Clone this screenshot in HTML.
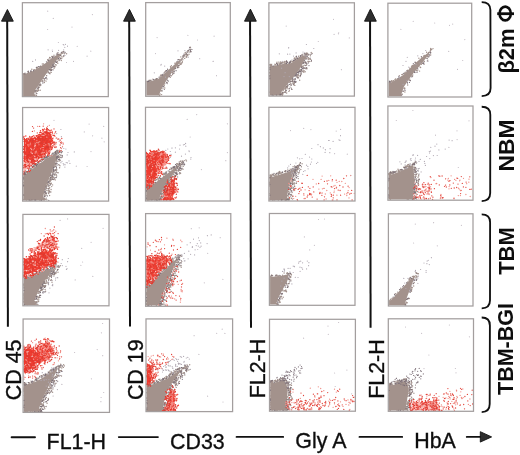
<!DOCTYPE html>
<html><head><meta charset="utf-8"><style>
html,body{margin:0;padding:0;background:#fff;}
svg{display:block;}
text{font-family:"Liberation Sans",sans-serif;fill:#111;-webkit-font-smoothing:antialiased;}
</style></head><body>
<svg width="520" height="455" viewBox="0 0 520 455">
<defs><filter id="bl" filterUnits="userSpaceOnUse" x="0" y="0" width="520" height="455"><feGaussianBlur stdDeviation="0.6"/></filter><filter id="tb" filterUnits="userSpaceOnUse" x="0" y="0" width="520" height="455"><feGaussianBlur stdDeviation="0.3"/></filter></defs>
<rect width="520" height="455" fill="#fff"/>
<g filter="url(#bl)">
<path d="M35.0,95.9 35.4,94.3 34.2,94.3 35.6,89.6 51.3,66.5 62.4,52.9 58.4,54.1 52.1,57.8 45.8,63.0 39.3,67.3 33.0,71.1 24.7,74.1 24.7,72.8 23.1,73.3 23.1,95.9Z" fill="#a3928c" fill-rule="evenodd"/>
<path d="M51.4 67.8h0M40.7 85.5h0M36.4 69.1h0M60.0 55.9h0M40.5 66.3h0M52.0 69.6h0M46.1 81.1h0M39.5 87.1h0M49.6 57.5h0M53.7 65.4h0M64.3 53.8h0M38.5 87.8h0M63.7 56.5h0M31.8 69.2h0M59.0 60.5h0M40.3 83.9h0M54.0 55.2h0M36.0 91.4h0M35.0 91.5h0M57.4 61.7h0M39.3 84.6h0M39.1 87.3h0M40.5 85.6h0M51.8 56.4h0M57.8 63.3h0M31.4 71.5h0M42.0 81.4h0M23.8 74.3h0M42.3 64.0h0M36.4 93.6h0M50.8 68.5h0M43.8 78.6h0M49.1 59.0h0M44.4 82.5h0M54.1 68.2h0M36.6 90.3h0M50.7 70.3h0M57.8 58.9h0M38.1 87.0h0M56.6 54.2h0M58.0 52.8h0M44.5 79.3h0M51.2 72.4h0M50.0 69.9h0M28.5 71.2h0M61.7 53.0h0M48.1 60.5h0M38.6 90.4h0M53.6 56.6h0M50.5 57.9h0M37.5 68.1h0M51.4 69.5h0M61.4 60.6h0M33.6 69.9h0M46.7 75.8h0M37.7 91.2h0M55.3 64.8h0M43.6 78.4h0M48.5 72.2h0M42.7 80.7h0M38.0 88.3h0M37.0 89.9h0M25.1 73.3h0M38.1 86.3h0M52.6 66.1h0M47.6 59.7h0M37.5 67.8h0M55.1 66.7h0M46.6 75.7h0M60.3 57.9h0M37.6 67.3h0M61.9 52.1h0M62.7 53.3h0M39.3 85.3h0M52.6 65.5h0M43.5 64.0h0M48.1 71.4h0M50.0 73.8h0M57.0 60.9h0M52.9 56.4h0M61.9 56.5h0M28.2 71.5h0M54.3 63.3h0M34.7 69.6h0M50.7 72.1h0M49.2 69.7h0M53.7 66.6h0M38.3 89.2h0M51.2 70.4h0M36.7 68.0h0M47.0 79.0h0M36.7 67.4h0M63.7 51.7h0M37.4 91.2h0M42.8 80.3h0M23.7 74.3h0M57.2 53.2h0M44.7 80.7h0M59.7 59.9h0M49.4 73.2h0M28.2 72.4h0M36.0 92.8h0M49.9 69.9h0M50.0 69.5h0M56.2 65.0h0M61.0 55.0h0M51.4 66.7h0M36.5 95.6h0M60.5 55.5h0M47.0 72.8h0M43.5 64.1h0M55.2 61.9h0M54.4 66.7h0M40.2 90.3h0M66.6 53.8h0M62.0 57.9h0M53.9 66.5h0M63.2 51.8h0M35.9 95.3h0M59.2 57.4h0M61.1 58.7h0M40.8 66.3h0M57.7 54.2h0M53.2 57.2h0M58.1 59.4h0" stroke="#a3928c" stroke-width="1.4" stroke-linecap="round" fill="none"/>
<path d="M43.0 81.8h0M40.8 84.5h0M51.2 70.6h0M53.2 66.7h0M33.6 70.7h0M52.3 67.2h0M37.3 88.2h0M30.9 70.5h0M58.0 54.3h0M63.8 55.6h0M55.6 61.8h0M45.7 77.6h0M60.4 58.6h0M58.5 58.4h0M54.3 66.3h0M52.4 57.5h0M52.8 65.2h0M38.7 87.8h0M51.1 67.4h0M60.4 55.5h0M63.2 51.9h0M46.4 61.8h0M53.0 64.6h0M39.2 85.0h0M49.4 69.5h0M28.5 72.1h0M38.5 66.6h0M42.9 83.1h0M30.7 71.4h0M60.0 58.8h0M53.7 64.0h0M65.2 52.8h0M48.6 60.3h0M55.9 61.6h0M44.9 78.5h0M51.6 70.0h0M33.6 70.6h0M55.8 61.9h0M36.9 93.6h0M53.1 69.8h0M28.0 71.3h0M64.9 52.2h0M35.3 90.7h0M24.8 73.9h0M39.8 66.6h0M50.3 69.8h0M46.1 78.5h0M46.3 77.5h0M52.3 57.2h0M56.5 62.4h0M61.3 52.6h0M48.4 60.1h0M49.0 72.9h0M36.3 67.3h0" stroke="#7a6e76" stroke-width="1.2" stroke-linecap="round" fill="none"/>
<path d="M52.5 51.5h0M57.8 52.9h0M65.5 44.3h0M56.4 54.6h0M58.6 50.3h0M53.6 56.8h0M32.7 61.4h0M67.5 46.2h0M63.2 44.5h0M63.7 49.9h0M64.9 55.4h0M64.8 47.3h0M35.5 59.9h0M48.1 49.8h0M63.9 45.0h0" stroke="#b0a8b2" stroke-width="1.2" stroke-linecap="round" fill="none"/>
<path d="M53.3 18.4h0M92.4 14.6h0M58.4 42.5h0M90.8 51.2h0M73.5 61.4h0M66.5 62.5h0M87.1 56.2h0M72.0 27.1h0M52.3 50.0h0M47.6 29.5h0M77.2 46.3h0M47.7 11.2h0" stroke="#c4bcc4" stroke-width="1.2" stroke-linecap="round" fill="none"/>
<path d="M159.6,95.6 160.1,94.4 159.2,94.4 161.8,87.9 166.8,79.9 171.4,73.3 189.8,49.9 190.2,48.9 187.4,51.5 182.1,57.8 158.5,78.8 149.5,81.6 147.6,81.6 147.6,80.8 146.4,80.8 146.4,95.6Z" fill="#a3928c" fill-rule="evenodd"/>
<path d="M172.6 74.5h0M149.8 80.4h0M181.1 63.3h0M147.5 81.4h0M180.0 64.4h0M161.4 90.7h0M161.6 94.6h0M160.1 94.0h0M170.3 75.2h0M171.4 65.8h0M156.4 78.8h0M162.0 88.7h0M189.0 54.2h0M190.5 47.6h0M190.2 51.9h0M183.6 55.5h0M181.1 64.2h0M169.4 76.6h0M166.3 71.8h0M190.3 47.3h0M187.0 56.0h0M179.7 63.2h0M173.5 71.1h0M190.5 47.7h0M155.5 79.5h0M181.7 60.1h0M177.5 66.8h0M148.8 80.5h0M186.1 56.7h0M182.2 62.4h0M184.4 54.3h0M189.0 52.1h0M152.9 79.1h0M190.5 49.6h0M173.1 72.1h0M187.0 54.7h0M179.5 65.6h0M185.3 52.5h0M166.0 70.8h0M161.8 88.6h0M167.1 82.4h0M172.6 72.8h0M177.1 67.1h0M151.0 80.3h0M187.8 55.2h0M185.5 53.1h0M157.5 78.7h0M164.8 87.9h0M163.9 88.1h0M183.0 55.8h0M184.7 58.4h0M164.3 85.8h0M179.4 59.8h0M186.0 56.9h0M170.5 66.6h0M180.8 63.0h0M175.7 68.2h0M149.8 80.3h0M174.7 69.9h0M163.9 84.9h0M177.6 65.2h0M176.6 62.3h0M167.8 69.8h0M174.9 63.3h0M181.8 63.0h0M170.6 67.7h0M186.6 57.2h0M166.3 71.6h0M185.2 52.6h0M174.2 73.1h0M156.4 79.5h0M160.1 76.9h0M190.9 51.4h0M164.8 83.8h0M160.8 90.7h0M149.4 80.8h0M178.4 65.4h0M178.2 67.2h0M159.7 95.5h0M175.3 63.3h0M172.4 72.5h0M182.9 59.8h0M178.8 67.6h0M182.4 61.8h0M180.8 56.9h0M161.0 75.1h0M161.6 90.9h0M165.2 71.5h0M151.1 80.8h0M160.5 75.8h0M161.4 75.3h0M163.9 73.1h0M170.3 77.3h0M187.8 50.7h0M166.9 82.2h0M171.5 75.7h0M187.4 54.8h0M186.7 55.0h0M161.1 74.7h0M164.5 72.5h0" stroke="#a3928c" stroke-width="1.4" stroke-linecap="round" fill="none"/>
<path d="M186.7 54.2h0M162.7 74.4h0M163.6 86.5h0M190.5 50.1h0M177.5 67.7h0M147.7 81.6h0M162.2 75.4h0M162.2 90.8h0M189.3 49.2h0M188.3 50.4h0M187.0 51.8h0M164.3 89.5h0M191.9 49.4h0M190.4 51.0h0M177.2 61.5h0M154.1 79.5h0M178.4 65.9h0M176.1 70.7h0M183.9 55.1h0M168.3 81.1h0M182.9 56.5h0M167.5 69.1h0M153.4 79.6h0M189.7 47.4h0M169.7 76.1h0M177.8 59.8h0M148.9 81.5h0M174.1 71.3h0M150.0 80.8h0M166.7 82.7h0M159.1 77.2h0M167.2 83.6h0M148.1 81.3h0M166.9 70.5h0M175.2 68.4h0M162.8 86.9h0M178.5 59.6h0M191.0 51.8h0M167.6 80.2h0M173.2 73.4h0M156.3 78.8h0M174.3 71.6h0M166.4 70.7h0" stroke="#7a6e76" stroke-width="1.2" stroke-linecap="round" fill="none"/>
<path d="M171.7 71.4h0M154.3 72.8h0M160.9 65.1h0M184.9 50.6h0M166.4 71.6h0M170.2 75.2h0M180.0 60.4h0M188.3 57.2h0M164.3 72.8h0M161.2 64.3h0M183.8 54.0h0M164.7 66.1h0M178.0 50.8h0M165.5 77.2h0" stroke="#b0a8b2" stroke-width="1.2" stroke-linecap="round" fill="none"/>
<path d="M182.2 59.0h0M213.4 61.3h0M213.0 61.4h0M197.5 40.0h0M187.9 35.3h0M157.1 37.6h0M199.7 58.7h0M155.5 53.6h0M216.5 75.7h0M214.1 36.2h0" stroke="#c4bcc4" stroke-width="1.2" stroke-linecap="round" fill="none"/>
<path d="M283.9,88.7 296.5,73.4 301.6,66.0 305.3,58.6 306.0,54.9 303.5,55.5 298.6,57.3 293.8,61.7 288.6,64.0 287.3,63.9 285.7,62.8 282.9,63.9 275.3,65.7 272.2,66.1 272.2,63.8 269.6,64.1 269.6,95.4 281.6,95.4 283.6,92.8 280.8,92.8Z" fill="#a3928c" fill-rule="evenodd"/>
<path d="M308.2 62.1h0M303.4 68.8h0M288.8 63.5h0M278.7 62.1h0M303.0 54.1h0M301.7 66.0h0M292.0 60.1h0M293.9 84.1h0M310.4 55.7h0M291.3 88.1h0M307.9 61.6h0M307.0 68.8h0M302.4 66.4h0M309.7 59.0h0M295.3 74.9h0M298.5 75.8h0M298.5 71.5h0M308.3 57.8h0M280.9 93.6h0M301.4 67.2h0M285.9 90.0h0M294.4 57.9h0M291.1 85.1h0M306.2 53.0h0M282.9 93.3h0M284.0 89.0h0M294.0 61.1h0M298.5 74.3h0M296.5 75.9h0M290.5 62.5h0M297.3 75.7h0M298.9 70.2h0M299.7 80.2h0M285.4 88.6h0M298.1 72.5h0M284.2 61.5h0M301.3 69.7h0M290.8 83.8h0M279.8 95.1h0M296.2 74.8h0M298.5 71.9h0M310.8 59.4h0M293.0 83.5h0M287.4 87.3h0M287.7 85.5h0M308.1 61.2h0M295.0 82.4h0M304.1 70.8h0M306.3 54.9h0M292.7 80.4h0M282.3 92.1h0M269.9 76.1h0M299.3 71.1h0M305.3 59.1h0M285.8 91.3h0M297.8 78.0h0M282.3 62.2h0M279.2 63.9h0M296.6 57.7h0M286.0 61.7h0M305.9 63.0h0M307.7 53.7h0M306.9 57.9h0M298.0 77.7h0M280.2 62.5h0M284.9 62.1h0M285.6 88.4h0M302.6 55.5h0M279.5 64.4h0M283.8 92.4h0M294.6 76.1h0M290.8 83.5h0M308.7 58.1h0M301.0 69.5h0M296.6 57.7h0M294.2 59.0h0M301.0 72.9h0M291.6 81.4h0M301.0 73.2h0M298.5 56.3h0M282.8 62.6h0M305.7 57.5h0M302.8 66.2h0M277.4 64.8h0M300.2 76.5h0M299.0 71.4h0M291.1 84.7h0M287.2 86.7h0M270.1 65.0h0M301.5 70.5h0M287.2 85.0h0M297.0 77.3h0M279.6 94.8h0M306.8 58.9h0M302.6 55.7h0M306.8 64.8h0M302.2 55.0h0M270.9 66.1h0M293.6 84.8h0M307.8 53.7h0M273.5 95.2h0M286.7 87.7h0M294.3 79.3h0M291.0 61.4h0M289.8 82.4h0M304.7 62.8h0M277.0 62.3h0M286.7 92.9h0M306.1 65.2h0M294.4 83.7h0M302.3 55.7h0M292.6 61.8h0M288.9 91.4h0M287.3 86.5h0M295.4 60.0h0M277.8 63.8h0M293.1 82.0h0M290.4 62.7h0M275.0 65.8h0M293.2 82.6h0M281.8 62.4h0M294.9 60.5h0M303.8 72.2h0M286.8 61.8h0M311.1 61.4h0M281.6 62.8h0M300.2 70.2h0M283.1 90.5h0M312.2 53.5h0M305.5 57.7h0M275.0 64.9h0M282.1 63.2h0M288.0 88.8h0M280.3 64.2h0M296.7 73.4h0M292.2 81.1h0M296.2 58.5h0M280.1 94.7h0M286.4 93.1h0M301.9 54.7h0M291.0 61.8h0M304.9 53.9h0M300.9 74.2h0M302.7 67.0h0M283.8 62.6h0M292.9 80.4h0M303.2 66.2h0M289.4 90.2h0M295.9 59.2h0M286.8 63.0h0M282.4 95.3h0M291.9 79.6h0M285.3 62.1h0M303.2 71.0h0M304.2 65.3h0M301.0 66.8h0M282.1 93.7h0M296.9 57.5h0M286.2 86.7h0M269.8 76.8h0M300.0 75.9h0M284.4 61.9h0M287.8 85.9h0M296.0 82.1h0M269.7 76.7h0M284.8 88.8h0M283.5 89.7h0M285.9 86.7h0M290.1 62.0h0M280.1 63.5h0M293.0 81.5h0M270.6 64.4h0M284.5 62.0h0M287.3 62.0h0M305.8 68.1h0M298.8 72.1h0M305.9 62.2h0M269.9 69.0h0M285.6 87.4h0M282.8 94.3h0M292.4 80.9h0M311.2 52.5h0M308.4 59.3h0M305.1 54.8h0M294.8 58.8h0M307.3 53.2h0M303.1 63.0h0M295.9 59.4h0M284.3 63.1h0M292.0 89.4h0M296.1 57.3h0M269.6 72.7h0M280.5 95.1h0M305.2 53.9h0M296.0 56.9h0M309.3 61.5h0M290.1 87.1h0M290.1 81.5h0M276.7 95.1h0M284.4 92.2h0M270.0 73.0h0M289.2 63.0h0M304.8 68.0h0M306.7 68.2h0M276.6 63.3h0M269.9 92.1h0M280.8 93.2h0M284.4 62.3h0M300.8 55.7h0M298.6 77.9h0M279.6 94.5h0M306.1 68.2h0M281.9 93.1h0M274.9 64.3h0M296.4 56.2h0M285.8 90.1h0M286.5 60.6h0M306.8 54.2h0M306.9 56.1h0M277.7 64.6h0M308.0 55.3h0M269.9 64.7h0M305.2 71.7h0M292.4 61.8h0M294.8 85.4h0M294.4 60.7h0M275.8 64.6h0M286.6 86.7h0M310.0 54.5h0M302.0 71.7h0M286.4 61.7h0M297.3 77.1h0M280.8 63.1h0M283.3 92.8h0M280.4 62.0h0M293.7 61.5h0M284.7 92.0h0M304.9 61.7h0" stroke="#a3928c" stroke-width="1.4" stroke-linecap="round" fill="none"/>
<path d="M311.5 60.7h0M293.1 79.5h0M269.9 67.7h0M306.7 67.6h0M300.6 75.5h0M273.1 65.9h0M281.1 63.7h0M303.7 67.5h0M287.6 62.7h0M277.2 65.2h0M277.6 64.6h0M286.5 63.4h0M300.9 72.0h0M300.2 55.8h0M304.6 60.6h0M305.7 65.6h0M286.3 90.5h0M290.5 61.1h0M280.9 94.4h0M299.8 69.8h0M269.9 78.0h0M285.7 90.1h0M305.4 62.0h0M293.0 78.0h0M304.4 53.1h0M286.4 61.4h0M285.3 92.3h0M289.6 84.4h0M304.1 68.5h0M302.1 71.1h0M288.1 84.9h0M270.0 69.6h0M295.9 81.4h0M292.4 80.0h0M296.4 56.5h0M295.0 75.8h0M289.3 62.0h0M306.9 63.3h0M306.0 63.2h0M293.6 60.4h0M308.4 63.0h0M302.6 68.7h0M307.3 56.7h0M311.2 54.2h0M289.4 88.5h0M290.7 81.7h0M306.0 58.8h0M290.2 62.2h0M308.3 54.6h0M294.7 80.8h0M298.0 77.3h0M289.4 63.2h0M310.2 58.2h0M292.8 81.6h0M303.5 62.3h0M276.6 63.5h0M295.3 79.5h0M299.6 71.4h0M294.9 82.4h0M282.4 92.8h0M295.9 75.2h0M306.5 54.0h0M298.9 73.1h0M304.0 67.8h0M297.2 72.5h0M305.1 54.1h0M296.7 74.0h0M298.0 72.4h0M295.2 78.4h0M300.3 71.3h0M296.0 76.0h0M309.0 65.6h0M301.0 55.5h0M294.1 60.3h0M302.1 68.1h0M301.6 67.2h0M300.3 56.4h0M286.9 86.6h0M291.6 89.1h0M300.4 75.4h0M303.2 63.4h0M295.3 82.1h0M292.6 78.3h0M306.0 56.2h0M299.0 71.7h0M269.7 78.8h0M296.1 74.0h0M286.8 61.7h0M301.6 70.0h0M295.3 59.3h0M269.8 75.7h0M272.2 95.2h0M294.4 81.4h0M301.2 73.9h0M297.4 58.4h0M305.8 62.5h0M297.3 74.6h0M306.0 68.8h0M280.0 94.4h0M293.3 84.0h0M291.1 85.2h0M301.6 69.4h0M276.4 95.0h0" stroke="#7a6e76" stroke-width="1.2" stroke-linecap="round" fill="none"/>
<path d="M302.1 55.1h0M285.1 72.7h0M289.3 76.6h0M313.8 48.5h0M303.0 52.0h0M287.6 54.2h0M296.9 57.5h0M296.1 52.9h0M281.6 68.2h0M279.3 53.8h0M293.5 56.1h0M288.6 47.9h0M289.9 54.1h0M305.0 55.8h0M282.2 61.3h0M288.7 47.5h0M284.0 76.6h0M306.4 44.5h0" stroke="#b0a8b2" stroke-width="1.2" stroke-linecap="round" fill="none"/>
<path d="M286.2 26.1h0M341.4 69.7h0M338.7 32.8h0M318.3 41.5h0M349.3 37.9h0M338.4 33.8h0M334.1 34.4h0M333.5 19.3h0" stroke="#c4bcc4" stroke-width="1.2" stroke-linecap="round" fill="none"/>
<path d="M401.5,96.3 401.9,95.1 401.1,95.1 403.9,86.8 413.3,73.3 419.4,66.3 425.6,58.4 431.3,50.4 431.6,49.5 428.5,52.5 421.5,57.8 412.7,65.6 403.9,74.5 397.8,78.6 391.5,82.2 389.8,82.5 389.8,81.7 388.6,81.9 388.6,96.3Z" fill="#a3928c" fill-rule="evenodd"/>
<path d="M393.0 80.9h0M402.9 74.2h0M393.6 80.8h0M399.3 75.8h0M420.0 66.9h0M427.4 60.9h0M392.1 81.8h0M424.3 55.4h0M424.4 61.6h0M415.1 62.1h0M416.0 62.6h0M407.7 85.0h0M430.8 48.5h0M412.1 75.8h0M427.7 55.9h0M401.9 94.3h0M407.0 70.6h0M419.6 71.1h0M428.5 52.4h0M426.6 52.2h0M389.7 82.2h0M424.3 64.1h0M409.0 80.1h0M417.1 71.0h0M395.7 79.0h0M424.1 61.3h0M391.5 81.2h0M421.7 57.1h0M433.0 48.6h0M420.6 67.5h0M397.5 78.8h0M395.0 79.5h0M430.7 55.0h0M428.4 56.9h0M417.9 69.9h0M430.6 49.5h0M426.1 58.2h0M391.2 80.9h0M411.5 66.3h0M390.1 81.6h0M409.8 79.1h0M427.8 60.1h0M430.6 48.7h0M405.3 72.3h0M422.3 63.0h0M416.3 70.2h0M428.3 55.0h0M405.0 73.1h0M409.6 68.1h0M427.2 56.6h0M427.9 55.6h0M404.5 73.2h0M424.0 61.6h0M430.8 52.7h0M402.3 94.2h0M423.7 56.0h0M409.9 80.4h0M407.8 70.3h0M404.2 88.0h0M412.5 76.5h0M413.3 65.2h0M404.9 92.0h0M422.5 63.4h0M430.4 50.5h0M418.9 58.3h0M403.3 91.3h0M412.5 65.7h0M421.4 64.2h0M401.9 74.6h0M415.0 72.6h0M401.8 74.6h0M412.8 74.9h0M404.0 88.5h0M391.6 80.8h0M404.9 88.3h0M431.7 49.5h0" stroke="#a3928c" stroke-width="1.4" stroke-linecap="round" fill="none"/>
<path d="M390.4 82.0h0M407.6 82.7h0M414.6 72.4h0M398.8 77.8h0M413.3 63.7h0M423.4 63.8h0M403.0 91.2h0M404.8 89.8h0M415.1 62.3h0M398.8 76.5h0M409.5 82.3h0M389.9 81.9h0M401.7 95.0h0M417.0 72.4h0M414.7 71.9h0M407.5 83.1h0M427.2 58.4h0M410.4 80.7h0M430.3 52.0h0M423.7 62.8h0M389.3 81.2h0M421.3 56.7h0M423.2 63.1h0M389.5 81.6h0M403.7 73.3h0M430.4 52.9h0M429.7 55.2h0M429.0 56.7h0M429.1 54.6h0M405.0 90.4h0M411.7 76.8h0M406.9 71.1h0M417.7 68.6h0" stroke="#7a6e76" stroke-width="1.2" stroke-linecap="round" fill="none"/>
<path d="M417.8 55.8h0M403.0 65.5h0M399.5 77.9h0M416.0 64.4h0M403.1 84.3h0M420.1 62.9h0M422.9 53.6h0M425.7 50.5h0M427.5 60.8h0M408.8 67.2h0M406.0 61.3h0M398.7 76.7h0M428.0 61.3h0M407.0 80.5h0" stroke="#b0a8b2" stroke-width="1.2" stroke-linecap="round" fill="none"/>
<path d="M448.7 51.4h0M400.9 29.3h0M449.5 25.3h0M452.7 24.1h0M413.2 21.3h0M407.3 57.4h0M464.8 39.6h0M462.7 60.5h0M457.5 69.4h0M434.7 23.0h0" stroke="#c4bcc4" stroke-width="1.2" stroke-linecap="round" fill="none"/>
<path d="M43.8,194.0 47.2,182.9 51.3,173.4 55.5,162.8 57.3,152.6 46.1,159.0 36.6,165.8 25.9,174.1 25.9,171.4 23.3,173.3 23.3,200.4 44.8,200.4 45.3,197.8 43.1,197.8Z" fill="#a3928c" fill-rule="evenodd"/>
<path d="M58.6 155.6h0M50.8 184.3h0M37.6 162.5h0M57.7 161.2h0M26.4 200.0h0M44.6 192.1h0M59.5 151.7h0M54.8 164.7h0M47.6 184.5h0M56.4 160.3h0M45.1 193.1h0M33.0 166.9h0M33.3 166.2h0M50.1 178.7h0M52.6 178.6h0M31.5 169.5h0M46.0 195.4h0M62.0 155.4h0M23.6 179.1h0M54.4 167.0h0M23.6 186.4h0M48.0 185.8h0M61.4 152.7h0M48.5 193.6h0M52.4 179.4h0M55.5 151.7h0M52.4 171.1h0M62.3 155.9h0M34.9 166.0h0M49.7 187.8h0M48.4 188.4h0M53.9 172.7h0M46.3 193.9h0M35.3 164.9h0M24.4 173.3h0M46.5 188.1h0M27.6 171.9h0M59.1 161.0h0M23.3 199.5h0M55.9 170.7h0M56.1 151.7h0M43.8 197.7h0M52.0 176.2h0M52.5 153.9h0M26.1 171.8h0M44.6 195.6h0M44.9 159.1h0M23.5 179.6h0M34.5 167.0h0M41.4 161.3h0M23.3 184.6h0M28.8 169.8h0M60.0 165.8h0M51.7 186.6h0M59.2 157.1h0M54.8 175.6h0M30.7 200.3h0M48.9 191.3h0M56.4 150.8h0M54.5 170.7h0M36.3 166.0h0M30.4 168.8h0M37.4 164.1h0M41.6 159.4h0M56.9 152.1h0M54.0 167.0h0M49.0 179.9h0M60.7 155.2h0M48.9 183.1h0M27.3 173.1h0M49.6 195.5h0M59.8 156.6h0M46.5 185.5h0M25.9 174.1h0M36.1 164.5h0M25.9 172.5h0M46.7 157.0h0M49.2 182.1h0M30.9 169.2h0M28.9 171.3h0M54.9 174.5h0M57.2 150.3h0M59.7 150.5h0M51.2 180.1h0M57.2 158.3h0M56.2 163.7h0M50.8 177.2h0M42.2 160.3h0M45.6 155.6h0M44.9 193.6h0M45.4 157.3h0M60.2 157.4h0M53.8 177.4h0M55.8 177.8h0M26.5 172.4h0M48.3 186.2h0M60.2 160.5h0M38.2 163.2h0M44.8 158.7h0M38.5 163.5h0M55.9 163.8h0M57.9 155.1h0M46.2 186.8h0M52.6 184.9h0M48.2 156.0h0M51.4 176.1h0M36.8 164.6h0M55.3 179.9h0M23.3 177.2h0M45.6 190.1h0M44.8 156.7h0M55.8 152.8h0M46.4 198.1h0M51.6 177.8h0M46.9 158.0h0M46.9 188.4h0M58.9 157.2h0M53.8 171.5h0M23.5 179.6h0M46.1 192.7h0M53.0 174.3h0M56.1 164.7h0M58.0 151.0h0M50.9 192.0h0M53.6 171.7h0M36.1 165.8h0M59.4 165.1h0M49.2 156.9h0M56.5 162.0h0M35.6 164.2h0M46.9 190.3h0M56.5 168.1h0M26.2 172.3h0M44.8 158.9h0M49.9 181.4h0M48.1 186.5h0M49.7 191.2h0M54.1 179.3h0M56.6 170.8h0M43.0 158.9h0M54.8 165.9h0M53.4 179.6h0M45.4 199.3h0M56.6 159.0h0M55.2 166.1h0M50.4 183.4h0M57.9 155.5h0M38.5 162.5h0M32.5 167.9h0M54.5 166.3h0M48.3 192.8h0M39.9 161.3h0M59.6 167.8h0M54.0 169.9h0M58.2 155.5h0M50.8 179.1h0M53.1 177.8h0M51.1 189.5h0M50.4 178.8h0M56.6 157.2h0M59.4 159.0h0M49.0 190.5h0M57.3 172.6h0M30.5 169.3h0M45.2 192.6h0M49.3 180.7h0M28.0 172.1h0M23.6 194.9h0M44.9 196.3h0M58.4 152.6h0M44.4 160.1h0M55.1 152.1h0M49.3 155.3h0M42.0 158.1h0M56.3 174.8h0M55.5 169.7h0M46.1 187.4h0M60.9 150.8h0M57.5 158.4h0M39.5 200.1h0M46.8 199.8h0M58.2 172.7h0M48.9 193.1h0M44.1 157.5h0M47.3 156.9h0M44.7 199.5h0M52.2 174.4h0M50.5 180.3h0M56.7 176.0h0M23.5 182.8h0M58.1 156.6h0M49.3 185.7h0M31.3 168.6h0M54.5 152.5h0M52.2 177.0h0M49.3 179.0h0M49.1 154.9h0M44.2 196.3h0M56.8 151.1h0M52.7 176.6h0M39.9 161.2h0M24.9 173.7h0M55.7 166.5h0M52.7 153.5h0M56.7 169.5h0M58.1 152.9h0M56.0 160.4h0M58.4 153.5h0M52.3 177.2h0M51.4 183.2h0M57.7 157.7h0M40.2 160.6h0M55.3 166.1h0M58.7 164.6h0M55.6 173.0h0M39.1 161.6h0M47.7 182.6h0M53.2 170.1h0M50.2 181.5h0M48.2 190.9h0M35.3 164.9h0M40.8 200.0h0M50.3 155.9h0M49.2 183.6h0M30.2 200.2h0M45.6 192.2h0M57.2 151.4h0M45.6 159.3h0M44.0 199.7h0M62.1 157.3h0M33.8 166.3h0M57.9 151.0h0M44.8 194.5h0M24.4 174.4h0M38.0 164.5h0M50.7 179.6h0M44.6 157.8h0M26.7 171.7h0M38.6 163.2h0M39.6 161.6h0M47.1 183.3h0M48.7 156.4h0M47.4 183.9h0M50.9 175.5h0M56.5 160.3h0M48.4 182.4h0M45.7 193.2h0M55.3 163.5h0M46.2 188.5h0M56.3 161.6h0M31.3 169.1h0M24.4 175.0h0M36.4 163.8h0M28.7 171.3h0M56.0 164.5h0M47.8 157.8h0M51.8 154.3h0M43.4 158.8h0M25.5 170.6h0M30.1 200.4h0M56.0 170.7h0M50.7 175.5h0M28.6 170.6h0M49.0 188.7h0M48.8 193.1h0M55.2 164.6h0M52.3 172.4h0M52.9 153.6h0" stroke="#a3928c" stroke-width="1.4" stroke-linecap="round" fill="none"/>
<path d="M53.2 154.2h0M58.0 150.9h0M53.0 179.3h0M25.6 174.2h0M55.0 153.6h0M28.9 171.0h0M24.4 172.7h0M49.8 192.2h0M48.2 181.5h0M56.1 166.2h0M61.1 157.7h0M53.8 167.3h0M58.0 156.3h0M50.8 175.2h0M45.6 191.8h0M56.5 172.0h0M59.8 154.7h0M36.4 165.8h0M50.6 177.4h0M48.0 182.3h0M55.6 152.2h0M44.7 157.8h0M58.2 157.5h0M40.6 161.1h0M52.4 176.1h0M55.9 163.3h0M56.8 156.4h0M62.3 151.7h0M60.2 152.1h0M56.7 157.6h0M37.3 164.6h0M39.8 163.1h0M57.2 153.9h0M59.7 159.7h0M52.2 175.7h0M32.4 166.5h0M56.5 157.8h0M53.6 167.6h0M23.7 195.0h0M52.8 176.0h0M48.1 156.3h0M46.2 193.4h0M50.7 179.0h0M58.3 159.6h0M33.3 166.4h0M57.9 152.3h0M46.1 186.9h0M56.7 158.9h0M34.9 200.2h0M34.1 165.1h0M62.3 155.8h0M48.8 181.9h0M41.4 200.4h0M55.5 151.5h0M53.1 176.0h0M29.9 167.9h0M34.7 164.7h0M47.4 195.9h0M51.3 155.4h0M44.9 191.6h0M53.0 153.0h0M54.5 178.1h0M57.8 165.0h0M45.3 189.1h0M36.6 165.2h0M24.7 172.9h0M55.2 170.1h0M53.2 153.0h0M59.7 152.6h0M46.9 156.4h0M26.1 171.3h0M28.4 170.6h0M29.2 200.2h0M35.2 164.2h0M31.9 200.1h0M53.6 169.8h0M53.7 171.2h0M48.6 189.0h0M46.3 157.4h0M35.7 200.2h0M37.8 161.9h0M53.4 170.2h0M58.8 159.3h0M48.7 184.9h0M23.6 185.4h0M56.2 177.4h0M59.8 151.6h0M44.5 157.6h0M45.1 158.0h0M33.0 164.8h0M52.9 173.7h0M50.3 184.8h0M48.8 200.4h0M57.4 156.8h0M53.6 168.9h0M44.5 192.0h0M24.3 172.3h0M57.1 163.3h0M51.7 179.0h0M56.4 167.7h0M44.8 196.4h0M42.8 159.9h0M24.6 174.3h0M24.5 173.5h0M23.6 178.1h0M50.4 185.0h0M54.8 153.9h0M32.2 167.2h0M55.8 153.2h0M54.3 174.2h0M53.1 173.9h0M46.9 158.1h0M45.9 157.3h0M43.4 159.5h0M61.6 152.1h0" stroke="#7a6e76" stroke-width="1.2" stroke-linecap="round" fill="none"/>
<path d="M74.3 151.9h0M61.4 136.7h0M65.9 149.0h0M60.0 140.2h0M61.1 143.5h0M62.5 147.0h0M55.9 131.3h0M63.5 164.8h0M67.4 162.8h0M69.9 163.4h0M67.2 154.9h0M65.0 164.8h0M61.3 155.3h0M69.0 160.9h0M63.8 148.5h0M60.9 129.5h0M68.0 152.5h0M66.2 162.6h0M60.9 162.7h0M64.9 164.3h0M63.2 163.5h0M64.9 167.1h0M62.0 161.3h0M56.7 133.6h0" stroke="#b0a8b2" stroke-width="1.2" stroke-linecap="round" fill="none"/>
<path d="M87.1 166.5h0M92.6 135.8h0M84.3 131.9h0M54.0 120.3h0M89.1 124.1h0M104.2 141.8h0M91.0 151.6h0M101.9 138.2h0M76.3 166.2h0M103.7 126.4h0" stroke="#c4bcc4" stroke-width="1.2" stroke-linecap="round" fill="none"/>
<path d="M25.3,158.7 31.8,158.7 39.5,156.8 47.2,153.0 51.7,147.5 51.7,136.4 49.2,132.2 45.2,131.4 40.8,134.0 36.4,138.2 30.1,137.3 25.3,138.9ZM25.0,160.0 25.0,137.7 24.0,138.0 24.0,160.0Z" fill="#f03c30" fill-rule="evenodd" fill-opacity="1.00"/>
<path d="M29.2 158.4h0M30.1 152.6h0M27.5 139.4h0M36.8 140.3h0M39.2 138.6h0M39.1 154.5h0M36.0 142.3h0M23.9 136.4h0M36.8 135.8h0M33.4 153.3h0M36.2 135.8h0M52.8 138.7h0M31.6 147.2h0M31.4 151.3h0M47.1 130.2h0M28.4 139.4h0M49.2 148.0h0M45.0 154.8h0M24.3 157.2h0M33.6 150.1h0M47.1 149.9h0M51.1 136.2h0M31.4 147.0h0M24.3 156.6h0M31.2 155.0h0M43.3 135.5h0M37.5 146.5h0M26.3 153.8h0M51.8 140.3h0M48.4 136.3h0M36.3 148.2h0M30.7 150.5h0M31.5 156.9h0M51.6 139.6h0M45.5 143.4h0M41.7 145.6h0M39.4 134.4h0M43.3 152.1h0M42.3 133.3h0M26.7 149.3h0M26.7 144.0h0M35.0 149.6h0M50.2 147.9h0M39.3 150.4h0M36.6 152.3h0M36.1 152.4h0M25.4 144.7h0M28.6 148.8h0M42.8 147.1h0M40.7 143.5h0M47.4 141.7h0M36.1 142.0h0M38.1 141.0h0M28.2 143.5h0M25.8 136.1h0M46.1 149.3h0M52.2 141.4h0M46.3 131.5h0M44.3 134.4h0M29.6 151.6h0M37.6 152.2h0M39.6 150.7h0M43.6 156.0h0M46.4 144.5h0M30.1 141.0h0M52.4 147.8h0M44.4 133.0h0M32.9 148.9h0M46.8 146.1h0M44.8 147.7h0M40.3 132.6h0M35.6 161.1h0M48.4 141.5h0M40.1 147.0h0M48.8 135.2h0M41.1 148.2h0M24.6 141.5h0M26.6 160.4h0M33.1 144.3h0M24.0 139.6h0M33.1 140.1h0M34.2 151.8h0M31.4 158.6h0M42.5 143.2h0M40.0 142.0h0M28.0 149.4h0M41.1 137.1h0M30.4 144.1h0M47.2 134.1h0M27.8 152.5h0M32.9 149.6h0M37.0 153.7h0M32.6 136.4h0M38.6 146.4h0M39.1 140.3h0M25.8 146.6h0M30.7 157.0h0M36.3 141.5h0M38.2 137.9h0M24.3 146.9h0M30.7 139.8h0M49.9 142.7h0M37.0 144.3h0M49.6 140.4h0M46.0 150.1h0M35.9 154.6h0M29.3 139.9h0M49.5 134.5h0M31.8 146.2h0M27.1 152.2h0M37.8 151.1h0M25.2 141.5h0M39.0 139.5h0M34.9 150.7h0M36.1 157.9h0M31.7 146.4h0M32.4 147.9h0M50.0 135.1h0M30.7 156.3h0M44.4 148.7h0M49.3 151.9h0M34.0 147.6h0M41.7 142.8h0M38.6 138.1h0M23.5 137.7h0M42.2 149.3h0M32.1 141.8h0M41.0 151.3h0M47.6 155.6h0M25.4 141.2h0M50.2 139.3h0M49.9 151.9h0M26.4 155.1h0M24.1 160.8h0M32.3 152.9h0M39.0 150.2h0M48.1 148.7h0M40.2 147.2h0M27.3 152.8h0M40.1 143.2h0M49.6 140.2h0M34.0 143.2h0M29.9 156.9h0M37.3 142.5h0M48.6 152.2h0M37.3 149.8h0M51.5 143.8h0M38.2 151.4h0M43.7 135.9h0M38.9 147.5h0M40.4 140.7h0M31.9 146.0h0M48.7 133.2h0M49.1 141.1h0M46.7 128.0h0M29.7 143.4h0M42.2 134.9h0M50.7 145.3h0M31.6 142.7h0M29.5 142.1h0M27.7 145.7h0M34.8 146.0h0M29.0 150.1h0M26.9 151.6h0M30.6 152.8h0M32.5 140.4h0M37.3 149.2h0M48.8 138.6h0M45.7 134.6h0M26.8 157.6h0M39.7 156.1h0M45.9 139.2h0M26.9 141.6h0M43.1 130.5h0M24.3 147.3h0M36.8 145.6h0M40.5 130.7h0M26.1 144.4h0M26.6 138.7h0M35.5 144.8h0M36.5 153.5h0M31.5 161.0h0M34.8 137.3h0M28.6 152.2h0M31.1 141.1h0M49.3 147.5h0M43.5 130.1h0M44.1 150.5h0M50.2 150.1h0M51.2 130.2h0M25.8 152.1h0M40.1 157.4h0M28.2 153.4h0M46.5 134.7h0M46.6 150.1h0M35.2 137.5h0M39.2 140.6h0M25.1 145.1h0M41.4 153.9h0M47.8 132.2h0M33.6 144.7h0M46.3 145.5h0M26.7 141.3h0M39.4 156.0h0M49.6 135.5h0M31.1 151.3h0M29.3 147.7h0M34.1 139.0h0M33.6 158.8h0M28.0 149.0h0M46.3 147.4h0M49.8 142.4h0M40.4 135.6h0M33.7 144.1h0M34.4 154.2h0M43.3 139.8h0M31.8 146.8h0M26.6 141.7h0M44.0 140.1h0M35.8 148.2h0M27.6 138.4h0M37.3 145.4h0M47.6 144.0h0M48.0 139.1h0M44.8 131.8h0M33.5 145.2h0M34.8 146.4h0M41.3 139.1h0M34.5 149.4h0M39.8 148.6h0M32.9 151.6h0M42.6 129.5h0M52.3 132.1h0M30.2 143.2h0M28.0 140.2h0M29.9 149.2h0M29.1 143.1h0M25.6 156.5h0M38.0 139.8h0M43.8 142.8h0M47.7 137.1h0M48.3 145.4h0M49.9 132.9h0M33.4 141.6h0M39.1 148.0h0M44.0 142.0h0M47.0 139.0h0M52.1 142.0h0M42.0 151.0h0M44.7 156.6h0M23.8 152.7h0M42.2 141.7h0M48.8 136.5h0M41.6 138.6h0M50.8 148.5h0M53.0 146.1h0M35.1 156.4h0M46.6 142.7h0M41.9 143.7h0M41.9 137.5h0M30.0 159.5h0M47.2 137.8h0M38.9 146.4h0M30.8 142.8h0M41.2 144.2h0M43.5 152.1h0M42.6 142.2h0M44.1 143.5h0M33.6 145.3h0M46.3 136.0h0M38.1 137.3h0M42.7 137.4h0M32.2 150.3h0M46.6 132.9h0M37.1 144.1h0M45.8 145.6h0M43.5 133.4h0M40.7 142.7h0M32.0 155.5h0M31.5 144.0h0M38.3 153.5h0M49.3 140.8h0M35.5 153.7h0M36.5 151.1h0M34.3 157.4h0M32.0 145.4h0M53.7 142.0h0M31.8 151.7h0M52.3 143.2h0M35.5 143.2h0M31.8 141.6h0M49.0 142.8h0M27.7 150.5h0M41.5 157.3h0M36.4 143.2h0M27.3 146.0h0M47.5 146.7h0M38.2 156.1h0M48.5 147.5h0M27.3 160.0h0M46.2 143.1h0M38.6 136.6h0M47.7 135.2h0M51.7 149.2h0M29.2 149.1h0M41.7 137.2h0M52.4 138.5h0M41.0 141.1h0M46.3 129.6h0M27.5 152.3h0M47.9 149.5h0M41.1 135.9h0M46.5 149.3h0M32.7 144.7h0M41.1 151.6h0M48.8 138.6h0M37.3 151.5h0M50.7 135.1h0M30.2 155.2h0M24.7 144.9h0M29.7 146.7h0M51.6 149.5h0M50.9 130.5h0M47.2 134.4h0M28.7 161.2h0M50.9 147.8h0M44.7 152.1h0M28.0 155.5h0M31.1 138.3h0M44.2 144.4h0M48.5 137.7h0M29.9 158.7h0M37.1 136.7h0M36.9 136.8h0M37.0 154.1h0M24.4 157.2h0M35.6 143.5h0M50.5 147.6h0M44.8 143.7h0M27.8 148.0h0M46.2 129.8h0M33.6 148.7h0M52.5 142.9h0M34.2 152.7h0M29.1 144.3h0M39.5 150.6h0M29.5 144.4h0M23.8 149.6h0M53.7 135.6h0M28.3 143.8h0M44.8 145.4h0M42.6 145.4h0M25.5 139.8h0M51.1 141.1h0M34.4 137.2h0M41.5 136.3h0M46.6 152.8h0M30.9 151.0h0M38.3 145.1h0M32.2 152.8h0M50.8 134.6h0M46.7 133.9h0M49.1 143.0h0M35.5 147.6h0M48.9 154.2h0M26.8 158.9h0M31.4 149.2h0M35.8 157.2h0M41.6 150.3h0M53.3 142.6h0M29.4 143.2h0M48.5 153.8h0M38.2 135.5h0M33.2 151.9h0M24.6 158.3h0M28.5 151.2h0M52.5 140.7h0M39.2 143.1h0M39.0 152.7h0M34.3 150.4h0M40.0 132.4h0M25.3 159.7h0M27.8 161.6h0M42.7 143.9h0M33.4 143.1h0M44.4 152.7h0M39.9 142.7h0M37.1 137.0h0M29.4 142.8h0M31.7 156.3h0M38.7 154.2h0M29.7 146.8h0M40.1 155.7h0M31.4 148.9h0M39.7 149.4h0M30.0 153.6h0M38.4 134.8h0M40.2 145.6h0M51.2 145.6h0M31.4 149.5h0M46.4 132.0h0M36.6 151.4h0M34.1 156.7h0M35.8 138.8h0" stroke="#f03c30" stroke-width="1.5" stroke-linecap="round" fill="none"/>
<path d="M42.0 155.7h0M50.9 143.8h0M37.7 140.5h0M31.1 155.6h0M46.1 138.2h0M46.9 131.5h0M50.9 137.4h0M24.6 147.8h0M45.5 151.4h0M44.9 154.7h0M33.2 145.8h0M42.2 141.7h0M26.9 156.7h0M33.8 135.6h0M32.7 157.6h0M28.8 140.0h0M32.9 154.5h0M34.5 153.8h0M40.0 143.4h0M29.8 136.4h0M27.7 149.8h0M42.6 140.3h0M48.0 147.9h0M31.6 136.9h0M29.4 152.8h0M35.4 139.0h0M31.7 148.9h0M44.5 153.8h0M33.8 143.0h0M39.4 149.5h0M54.6 147.1h0M43.0 135.0h0M32.6 151.7h0M38.7 137.1h0M50.3 139.0h0M38.8 155.5h0M26.3 158.9h0M42.5 143.4h0M47.2 140.7h0M36.0 147.3h0M30.0 157.8h0M44.8 139.9h0M45.8 134.1h0M38.0 140.8h0M38.4 144.6h0M31.9 140.1h0M32.1 152.2h0M50.4 132.2h0M48.1 142.9h0M26.9 155.6h0M33.9 154.1h0M48.6 143.6h0M31.4 157.7h0M46.6 140.9h0M31.6 160.9h0M45.1 136.1h0M24.4 161.1h0M49.6 149.5h0M41.2 156.5h0M50.0 141.7h0M43.6 152.2h0M33.6 150.6h0M39.2 138.1h0M52.2 145.9h0M49.3 133.4h0M43.3 143.1h0M49.3 130.8h0M39.0 142.1h0M27.1 156.8h0M24.3 151.7h0M37.5 143.6h0M42.5 138.7h0M38.1 141.2h0M37.6 137.6h0M41.8 143.9h0M28.9 154.8h0M35.7 143.4h0M33.0 161.5h0M40.2 140.2h0M32.8 147.0h0M46.1 147.7h0M50.8 139.0h0M40.6 152.5h0M37.8 147.2h0M27.9 141.6h0M26.3 145.4h0M44.4 152.9h0M24.4 138.8h0M45.7 143.1h0M40.6 137.3h0M36.6 157.6h0M29.0 157.5h0M50.5 138.8h0M38.3 158.4h0M28.2 154.8h0M47.2 128.7h0M43.0 139.2h0M45.5 138.6h0M33.5 144.4h0M39.6 146.3h0M45.1 132.4h0M38.5 136.9h0M40.7 154.1h0M40.2 132.4h0M39.1 157.8h0M48.6 129.7h0M42.2 148.1h0M23.6 151.7h0M47.2 136.0h0M30.2 138.8h0M42.3 136.3h0M48.3 147.4h0M40.2 142.8h0M42.8 151.7h0M33.7 153.9h0M46.8 131.9h0M46.6 146.4h0M24.1 141.4h0M45.5 148.8h0M27.7 148.3h0M25.3 153.3h0M42.9 140.6h0M54.7 142.3h0M44.4 134.3h0M32.8 157.5h0M34.3 142.9h0M32.9 149.8h0M33.5 159.5h0M54.1 144.4h0M30.2 151.4h0M38.8 141.3h0M43.1 146.8h0M47.7 154.1h0M40.0 138.8h0M40.8 151.2h0M23.5 146.6h0M47.1 136.9h0M29.3 138.3h0M33.4 140.6h0M42.0 138.4h0M40.6 153.0h0M27.2 148.6h0M30.3 140.5h0M46.9 143.6h0M39.1 150.5h0M40.4 152.5h0M35.0 148.7h0M32.4 141.3h0M46.2 147.2h0M32.4 140.2h0M33.4 148.6h0M49.6 143.7h0M40.9 141.1h0M40.1 138.4h0M33.6 154.7h0M24.0 158.4h0M35.4 156.9h0M39.5 152.7h0M36.1 142.8h0M35.1 157.0h0M37.5 151.1h0M48.4 146.0h0M32.5 155.9h0M46.3 152.5h0M49.7 147.5h0M52.8 135.1h0M47.8 147.9h0M47.5 141.0h0M30.1 144.9h0M47.5 146.7h0M34.0 154.3h0M33.9 161.0h0M33.1 140.1h0M51.2 146.6h0M30.2 145.2h0M54.5 135.8h0M43.2 145.2h0M25.7 156.6h0M40.2 153.3h0M37.2 153.1h0M29.2 151.9h0M25.3 154.1h0M25.3 152.2h0" stroke="#dc3a30" stroke-width="1.4" stroke-linecap="round" fill="none"/>
<path d="M28.1 144.7h0M36.4 142.6h0M36.6 152.3h0M42.8 131.4h0M29.7 138.3h0M35.1 144.2h0M53.7 145.3h0M40.6 148.8h0M29.9 144.9h0M30.5 143.2h0M25.6 155.7h0M33.6 155.8h0M49.9 139.7h0M34.4 143.0h0M27.8 145.1h0M49.2 145.8h0M48.3 143.8h0M46.8 153.0h0M36.9 140.6h0M45.8 144.6h0M40.9 137.4h0M34.4 156.3h0M29.9 157.6h0M28.6 146.1h0M45.8 144.8h0M44.4 152.4h0M28.6 162.6h0M43.1 150.0h0M35.3 143.6h0M27.9 144.8h0M42.9 157.1h0M35.2 153.4h0M38.8 144.7h0M30.3 144.1h0M41.3 153.1h0M42.8 152.2h0M43.8 132.0h0M46.8 152.4h0M48.2 151.1h0M43.1 149.7h0M39.5 156.3h0M44.3 135.3h0M44.3 143.5h0M33.2 149.9h0M50.0 147.0h0M35.5 153.0h0M46.2 151.0h0M39.2 134.7h0M26.2 159.3h0M31.6 152.2h0M39.7 141.8h0M31.7 156.7h0M29.1 139.0h0M43.0 157.4h0M36.3 151.2h0M30.7 152.1h0M43.1 135.2h0M49.3 144.0h0M43.2 135.1h0M48.5 135.1h0M48.9 151.1h0M43.4 152.7h0M49.8 155.7h0M51.3 146.2h0M41.6 135.1h0M52.5 133.2h0M35.3 151.9h0M27.5 139.0h0M33.5 158.3h0M28.4 140.9h0M49.3 145.3h0M45.7 134.3h0M38.3 142.1h0M24.0 155.0h0M42.0 153.0h0M32.2 153.5h0" stroke="#f2897f" stroke-width="1.4" stroke-linecap="round" fill="none"/>
<path d="M42.2 147.5h0M31.6 149.6h0M32.1 153.7h0M51.4 145.3h0M34.3 139.3h0M46.9 137.1h0M34.8 146.7h0M43.9 145.7h0M35.4 145.5h0M43.5 147.3h0M34.9 156.7h0M34.3 148.9h0M30.9 148.4h0M34.9 145.7h0M28.6 140.1h0M43.0 135.5h0M36.8 153.9h0M50.1 148.8h0M35.6 147.5h0M38.0 142.8h0" stroke="#fff" stroke-opacity="0.7" stroke-width="1.2" stroke-linecap="round" fill="none"/>
<path d="M33.0 142.4h0M29.0 155.3h0M41.7 150.2h0M55.0 143.9h0M48.9 146.3h0M40.2 156.0h0M42.7 136.7h0M47.0 132.9h0M42.7 156.9h0M44.4 144.1h0M28.8 139.5h0M31.8 159.7h0M36.1 161.4h0M41.4 142.9h0M35.5 139.5h0M35.7 139.0h0M47.4 129.0h0M43.1 146.8h0M34.4 143.0h0M40.0 155.2h0M27.4 158.8h0M49.4 153.4h0M45.4 143.4h0M23.5 149.0h0M55.1 147.6h0M46.3 142.3h0M38.7 139.0h0M50.6 146.6h0M47.3 147.1h0M34.5 149.9h0M44.1 140.1h0M25.0 153.9h0M55.0 143.7h0M35.8 147.4h0M31.1 156.5h0M31.4 142.9h0M37.9 144.9h0M39.6 134.5h0M43.5 133.9h0M41.1 132.5h0" stroke="#dc3a30" stroke-width="1.4" stroke-linecap="round" fill="none"/>
<path d="M39.7,158.3 37.7,157.3 25.0,157.3 25.0,156.0 23.3,156.0 23.3,173.2 25.0,171.9 25.0,170.4 31.2,166.0Z" fill="#f03c30" fill-rule="evenodd" fill-opacity="0.35"/>
<path d="M27.9 165.7h0M30.0 162.1h0M31.7 161.7h0M24.0 165.6h0M27.2 159.8h0M30.4 159.3h0M24.5 164.7h0M30.3 170.5h0M36.2 153.3h0M31.8 161.1h0M28.5 168.9h0M38.6 158.8h0M32.7 158.1h0M26.2 166.8h0M26.9 160.3h0M37.1 159.9h0M33.9 162.3h0M24.6 157.0h0M31.2 162.2h0M29.9 165.8h0M25.4 166.2h0M29.0 168.8h0M33.1 160.5h0M25.1 164.4h0M24.7 161.5h0M32.2 162.4h0M39.9 160.8h0M38.6 161.5h0M29.4 171.5h0M29.6 164.1h0M33.3 160.2h0M38.4 157.5h0M32.0 158.5h0M25.9 162.3h0M34.0 163.1h0M33.2 156.0h0M25.7 154.0h0M29.3 166.9h0M31.4 155.9h0" stroke="#f03c30" stroke-width="1.5" stroke-linecap="round" fill="none"/>
<path d="M33.7 163.4h0M36.8 156.5h0M33.1 159.0h0M24.2 166.9h0M38.2 162.1h0M28.3 162.1h0M32.2 159.6h0M34.5 161.8h0M28.4 165.2h0M26.2 158.4h0M32.6 160.9h0M34.5 160.5h0M31.4 165.8h0M35.8 163.4h0M32.2 163.1h0M25.9 167.6h0" stroke="#dc3a30" stroke-width="1.4" stroke-linecap="round" fill="none"/>
<path d="M27.8 163.0h0M38.4 155.6h0M40.9 156.4h0M25.2 170.8h0M26.2 161.5h0" stroke="#f2897f" stroke-width="1.4" stroke-linecap="round" fill="none"/>
<path d="M26.9 167.4h0" stroke="#fff" stroke-opacity="0.7" stroke-width="1.2" stroke-linecap="round" fill="none"/>
<path d="M29.6 166.6h0M33.3 163.6h0M35.4 164.4h0M23.8 174.0h0M31.7 154.4h0M25.7 164.4h0M27.5 171.8h0M32.3 164.0h0M27.4 160.9h0M25.6 165.0h0M28.1 161.9h0M37.4 160.4h0M32.9 167.2h0M27.9 159.8h0M36.6 154.4h0M27.7 168.1h0M42.8 159.5h0M31.7 160.2h0M34.2 163.8h0M39.1 157.6h0M26.2 166.5h0M41.1 159.3h0M41.2 156.6h0M41.7 157.4h0M33.5 156.9h0M40.2 154.6h0M23.8 167.7h0M27.6 155.6h0M24.0 171.7h0M30.7 155.2h0" stroke="#dc3a30" stroke-width="1.4" stroke-linecap="round" fill="none"/>
<path d="M48.7 135.7h0M50.2 140.5h0M49.8 140.0h0M59.6 151.7h0M56.3 147.0h0M60.5 142.6h0M53.8 142.7h0M52.9 142.6h0M60.1 145.0h0M61.2 150.7h0M52.3 132.8h0M58.7 139.0h0M50.5 132.7h0M60.2 140.1h0M56.2 138.1h0M52.1 147.9h0M53.8 143.0h0M56.1 142.5h0M57.7 139.1h0M63.2 143.9h0M60.6 147.7h0M48.6 137.8h0M61.5 142.9h0M51.0 132.4h0M61.8 138.5h0" stroke="#e2433a" stroke-width="1.3" stroke-linecap="round" fill="none"/>
<path d="M59.2 150.1h0M54.5 133.8h0M53.1 137.8h0M56.7 137.8h0M59.2 141.3h0M53.9 145.8h0M61.2 150.6h0M55.1 132.8h0M62.5 146.4h0M51.8 155.6h0M55.3 146.2h0M56.1 143.9h0M55.1 136.3h0M61.4 148.5h0M62.9 142.6h0M61.3 141.7h0M51.7 142.6h0" stroke="#ef8c84" stroke-width="1.3" stroke-linecap="round" fill="none"/>
<path d="M37.3 132.9h0M44.4 129.0h0M33.6 128.1h0M32.5 126.6h0M54.0 128.9h0M39.7 126.3h0M32.4 131.4h0M55.5 131.9h0M43.2 126.2h0" stroke="#e2433a" stroke-width="1.3" stroke-linecap="round" fill="none"/>
<path d="M34.4 130.9h0M44.6 133.6h0M37.7 126.4h0M43.6 123.8h0M51.7 130.1h0M47.5 126.4h0M49.3 125.3h0" stroke="#ef8c84" stroke-width="1.3" stroke-linecap="round" fill="none"/>
<path d="M159.5,197.7 164.7,185.2 172.5,174.9 179.8,164.1 151.8,185.4 148.8,187.1 148.8,184.6 146.2,186.1 146.2,200.3 161.3,200.3 161.7,197.7Z" fill="#a3928c" fill-rule="evenodd"/>
<path d="M168.8 184.1h0M172.2 182.5h0M168.2 193.0h0M186.5 160.9h0M163.6 193.0h0M163.4 189.8h0M153.8 182.8h0M165.9 191.7h0M182.6 160.9h0M161.3 194.7h0M162.7 191.0h0M147.2 200.2h0M164.0 173.9h0M166.1 195.3h0M182.1 162.5h0M146.3 190.1h0M149.6 185.1h0M180.9 160.9h0M171.2 184.2h0M176.0 166.5h0M180.4 161.3h0M171.5 178.6h0M169.0 182.0h0M177.7 163.7h0M172.1 180.2h0M151.2 183.9h0M177.4 167.8h0M171.0 167.9h0M159.8 198.3h0M169.4 171.5h0M165.7 192.4h0M179.0 166.8h0M180.3 168.1h0M175.7 173.6h0M153.0 182.0h0M164.5 174.4h0M146.4 198.8h0M148.9 185.5h0M180.9 164.9h0M149.2 200.1h0M146.5 191.0h0M156.1 200.0h0M173.9 180.2h0M183.2 166.4h0M177.0 172.9h0M164.8 173.3h0M174.0 168.0h0M162.2 197.3h0M174.1 172.6h0M180.3 165.0h0M184.3 160.6h0M160.9 178.2h0M181.7 164.0h0M148.3 200.0h0M168.1 186.1h0M172.2 176.2h0M167.0 184.2h0M160.6 198.2h0M163.0 173.1h0M146.4 198.6h0M177.9 168.5h0M148.1 185.0h0M178.4 166.2h0M179.7 163.8h0M156.4 179.5h0M176.7 166.2h0M172.1 176.6h0M171.8 169.2h0M165.5 197.7h0M156.2 200.1h0M165.8 172.6h0M166.9 186.6h0M174.0 167.3h0M160.4 197.1h0M148.0 183.8h0M168.2 186.6h0M163.7 190.6h0M163.8 191.7h0M157.0 200.2h0M181.4 162.3h0M169.0 181.4h0M177.1 165.0h0M176.2 175.1h0M165.1 175.0h0M175.5 170.4h0M170.2 179.7h0M173.9 176.7h0M164.6 174.6h0M166.2 171.8h0M180.5 166.3h0M166.3 184.9h0M169.0 180.0h0M163.5 176.3h0M171.4 181.6h0M157.5 200.1h0M154.9 180.3h0M178.2 171.2h0M180.1 173.6h0M183.3 161.6h0M170.0 169.2h0M157.9 200.2h0M166.0 174.3h0M167.2 182.2h0M174.2 167.6h0M177.6 176.9h0M152.1 180.9h0M179.2 164.3h0M177.0 170.4h0M149.1 186.8h0M180.6 173.3h0M167.0 184.0h0M162.7 193.3h0M167.3 183.7h0M183.0 169.3h0M163.5 174.6h0M157.4 178.9h0M173.4 167.6h0M162.8 190.6h0M166.6 172.1h0M170.1 180.2h0M175.9 175.5h0M153.6 181.7h0M153.7 182.4h0M146.3 190.2h0M179.3 173.8h0M173.2 166.7h0M166.6 192.2h0M171.0 178.1h0M162.0 193.3h0M178.8 169.2h0M169.5 182.9h0M163.4 195.0h0M163.2 188.8h0M163.0 197.2h0M151.0 200.0h0M168.7 182.9h0M173.1 168.2h0M179.9 170.2h0M161.4 196.4h0M173.4 174.4h0M159.4 177.9h0M168.3 182.7h0M174.4 176.5h0M184.6 164.2h0M160.1 178.8h0M168.2 182.5h0M180.9 166.3h0M185.9 159.9h0M163.4 174.2h0M178.8 170.6h0M172.7 176.3h0M179.3 167.7h0M168.0 181.0h0M155.4 182.5h0M173.2 182.6h0M179.6 167.5h0M155.7 180.4h0M163.9 191.4h0M146.4 195.8h0M146.8 188.1h0M161.6 197.7h0M150.1 185.9h0M162.0 194.4h0M180.9 161.1h0M151.1 183.2h0M179.5 165.0h0M182.7 163.5h0M165.0 187.6h0M159.8 199.8h0M182.0 168.2h0M165.2 185.8h0M183.0 164.9h0M158.3 178.7h0M176.7 173.7h0M173.8 173.6h0M158.3 180.2h0M176.2 172.0h0M168.3 184.3h0M164.6 189.7h0M171.4 182.4h0M168.8 180.1h0M164.5 198.5h0M169.4 183.2h0M179.4 164.3h0M176.6 174.4h0M167.2 188.9h0M154.3 200.0h0M162.5 190.9h0M154.5 180.2h0M163.4 196.6h0M176.0 170.5h0M182.6 160.9h0M160.5 176.1h0M169.7 171.8h0M176.6 163.6h0M180.8 170.3h0M163.1 196.7h0M168.9 180.6h0M159.6 199.0h0M161.6 193.1h0M167.4 184.8h0M176.2 172.2h0M146.5 198.4h0M164.2 192.0h0M154.5 182.8h0M178.2 169.3h0M158.2 180.3h0M164.1 193.3h0M174.4 175.2h0M179.5 163.5h0M180.5 163.8h0M178.5 164.4h0M150.1 185.1h0M179.2 162.0h0" stroke="#a3928c" stroke-width="1.4" stroke-linecap="round" fill="none"/>
<path d="M179.4 163.4h0M181.0 168.5h0M150.4 184.7h0M175.6 164.6h0M176.5 165.7h0M170.4 179.3h0M181.8 164.5h0M183.6 162.7h0M176.1 169.6h0M174.7 167.8h0M180.1 167.4h0M153.5 182.7h0M184.2 164.0h0M159.3 177.0h0M167.1 182.7h0M175.5 175.5h0M169.8 169.7h0M177.3 168.1h0M161.1 196.6h0M171.5 177.5h0M177.9 166.9h0M170.8 179.0h0M183.1 164.1h0M175.0 172.4h0M166.7 183.7h0M147.4 187.2h0M184.5 164.8h0M153.4 184.1h0M181.6 169.1h0M164.8 190.5h0M176.0 178.4h0M176.7 173.4h0M166.4 192.6h0M156.2 200.1h0M164.7 189.7h0M166.5 188.8h0M175.8 173.2h0M173.0 167.7h0M148.3 186.0h0M171.6 168.3h0M169.1 187.3h0M167.5 187.0h0M165.0 186.0h0M179.6 169.1h0M150.0 184.9h0M152.0 200.1h0M164.8 189.5h0M165.9 188.8h0M175.8 164.5h0M147.3 187.0h0M173.9 166.9h0M150.3 183.0h0M171.9 168.0h0M146.4 198.0h0M165.0 191.4h0M177.3 174.6h0M160.8 198.3h0M149.7 185.8h0M160.7 178.4h0M172.4 181.7h0M165.7 173.2h0M166.5 173.1h0M159.3 199.8h0M174.7 166.3h0M179.9 168.4h0M173.9 167.5h0M177.1 174.1h0M164.9 187.7h0M163.9 187.6h0M178.4 170.0h0M182.6 161.9h0M164.3 189.1h0M163.7 190.5h0M173.0 180.5h0M159.4 177.8h0M155.3 182.3h0M171.3 182.3h0M179.6 164.9h0M146.5 190.9h0M149.2 184.5h0M180.9 168.3h0M161.0 193.7h0M165.6 184.1h0M179.8 172.4h0M167.3 184.0h0M176.3 173.2h0M172.1 183.1h0M168.2 170.9h0M169.0 182.3h0M165.3 190.2h0M171.1 176.8h0M169.8 185.7h0" stroke="#7a6e76" stroke-width="1.2" stroke-linecap="round" fill="none"/>
<path d="M170.3 157.3h0M167.8 149.0h0M179.5 149.0h0M171.0 154.4h0M184.6 144.5h0M191.0 157.5h0M181.5 156.2h0M185.6 143.4h0M189.2 151.6h0M189.0 150.8h0M185.4 154.1h0M190.8 159.1h0M175.4 147.8h0M170.3 151.5h0M165.8 150.4h0M185.8 146.2h0M171.9 148.1h0M183.4 144.8h0M172.1 148.0h0M175.4 152.2h0M180.0 145.2h0" stroke="#b0a8b2" stroke-width="1.2" stroke-linecap="round" fill="none"/>
<path d="M227.4 152.6h0M227.4 123.8h0M190.2 137.0h0M201.4 169.6h0M196.7 114.6h0M225.8 160.7h0M187.2 119.4h0" stroke="#c4bcc4" stroke-width="1.2" stroke-linecap="round" fill="none"/>
<path d="M155.7,174.7 156.7,160.1 155.0,154.1 150.1,153.3 147.9,154.2 147.9,152.8 146.2,153.5 146.2,187.2 147.9,186.2 147.9,184.7 152.0,182.1Z" fill="#f03c30" fill-rule="evenodd" fill-opacity="1.00"/>
<path d="M149.0 169.2h0M151.9 165.0h0M153.4 160.4h0M151.9 157.3h0M148.9 155.4h0M154.2 160.9h0M149.8 166.8h0M153.1 176.6h0M150.1 156.5h0M156.0 175.4h0M154.9 175.9h0M152.6 163.4h0M148.9 185.2h0M151.8 180.6h0M151.9 179.7h0M153.9 158.0h0M150.9 178.5h0M156.3 151.5h0M147.0 184.6h0M153.8 175.6h0M149.9 168.2h0M152.9 173.4h0M151.7 185.7h0M152.6 156.6h0M158.4 158.7h0M155.3 154.2h0M151.9 178.6h0M147.2 153.8h0M152.9 154.7h0M153.8 179.9h0M152.1 171.1h0M150.8 157.4h0M154.6 163.6h0M155.8 177.5h0M147.3 164.6h0M148.1 180.2h0M150.3 159.6h0M153.5 180.8h0M158.2 159.4h0M155.9 157.8h0M152.0 169.4h0M151.3 180.2h0M147.0 159.3h0M155.7 158.7h0M146.9 157.2h0M153.4 179.8h0M152.4 174.6h0M155.8 171.5h0M157.4 153.0h0M156.4 165.2h0M152.7 157.0h0M151.2 167.3h0M151.6 179.2h0M149.7 156.8h0M158.2 172.2h0M150.8 178.0h0M147.9 162.4h0M151.0 172.0h0M147.7 157.2h0M155.1 156.4h0M153.3 167.8h0M156.5 174.4h0M157.9 160.3h0M146.4 152.6h0M152.4 163.6h0M151.3 181.4h0M158.0 170.1h0M159.2 161.5h0M152.7 158.5h0M146.5 153.3h0M148.4 172.6h0M155.2 157.0h0M149.7 187.3h0M149.9 164.7h0M157.0 157.7h0M150.4 156.8h0M151.2 182.4h0M153.1 182.3h0M149.2 153.8h0M147.4 172.9h0M149.4 171.8h0M153.3 169.0h0M147.3 158.3h0M153.5 166.9h0M154.1 176.4h0M151.7 183.7h0M156.8 158.9h0M156.9 154.8h0M148.3 181.7h0M151.9 155.9h0M155.7 173.6h0M151.6 159.5h0M150.0 161.2h0M152.4 178.6h0M153.2 178.0h0M149.0 175.0h0M153.3 157.1h0M153.9 179.1h0M151.8 178.8h0M150.7 151.8h0M151.4 165.2h0M155.5 164.2h0M147.0 180.5h0M154.1 177.9h0M150.9 153.6h0M152.2 156.9h0M154.3 166.2h0M151.4 186.5h0M153.5 153.6h0M154.3 170.1h0M151.7 166.7h0M155.6 165.6h0M149.7 178.7h0M152.6 176.7h0M152.8 170.9h0M152.4 156.9h0M153.3 181.8h0M150.8 156.4h0M152.3 160.1h0M154.2 151.8h0M149.4 165.6h0M153.2 164.0h0M150.3 166.1h0M150.2 169.1h0M156.3 169.6h0M150.0 166.9h0M153.0 182.0h0M160.2 161.0h0M148.3 183.4h0M155.2 178.8h0M157.0 168.5h0M155.6 156.7h0M152.4 155.0h0M152.4 165.6h0M155.3 174.2h0M148.4 180.6h0M156.6 156.2h0M151.2 162.6h0M149.8 176.4h0M154.7 170.7h0M155.8 170.8h0M154.5 173.9h0M158.9 158.1h0M153.9 162.6h0M151.3 181.4h0M148.3 170.1h0M150.9 171.1h0M157.6 163.1h0M156.1 175.7h0M151.1 176.6h0M149.6 153.0h0M148.6 166.7h0M155.4 152.1h0M153.1 176.6h0M151.4 178.3h0M158.3 157.9h0M146.9 171.8h0M153.5 154.2h0M150.2 164.9h0M154.3 168.3h0M149.1 173.3h0M146.7 170.6h0M156.4 174.2h0M151.9 175.1h0M147.6 189.0h0M151.9 177.3h0M155.7 163.2h0M153.5 158.9h0M151.4 180.3h0M151.2 174.9h0M152.0 181.5h0M152.1 176.4h0M150.0 177.7h0M150.2 185.7h0M147.8 170.4h0M154.5 175.4h0M157.4 158.5h0M154.3 165.1h0M148.5 179.3h0M152.2 169.9h0M160.3 160.2h0M146.7 164.7h0M150.8 163.1h0M150.6 164.6h0M154.1 162.7h0M150.4 176.2h0M151.1 169.9h0M146.9 185.5h0M152.4 171.1h0M157.8 167.2h0M150.0 159.1h0M152.1 160.4h0M152.0 159.0h0M157.2 166.1h0M154.5 170.7h0M158.1 173.4h0M151.9 163.5h0" stroke="#f03c30" stroke-width="1.5" stroke-linecap="round" fill="none"/>
<path d="M154.4 176.8h0M152.7 165.5h0M150.8 167.8h0M153.3 160.5h0M154.8 176.9h0M150.6 168.2h0M150.8 159.9h0M153.6 156.8h0M150.0 167.5h0M160.1 160.5h0M150.3 170.9h0M155.3 165.2h0M152.5 170.3h0M157.3 177.3h0M149.3 186.7h0M152.2 183.9h0M148.2 158.2h0M154.5 171.7h0M154.7 165.7h0M146.3 174.8h0M149.5 160.4h0M148.4 157.2h0M155.4 157.0h0M148.5 165.7h0M151.5 165.8h0M150.7 160.6h0M147.8 165.1h0M146.5 163.4h0M155.3 165.2h0M158.2 175.5h0M153.5 179.5h0M147.9 162.5h0M150.5 150.7h0M147.0 153.8h0M147.0 161.3h0M152.8 183.9h0M154.5 173.3h0M153.0 151.9h0M155.6 163.9h0M147.3 181.3h0M151.0 168.0h0M154.8 173.7h0M159.7 162.4h0M153.9 169.1h0M152.6 153.9h0M156.8 170.8h0M152.0 157.6h0M149.4 185.4h0M151.2 175.9h0M147.1 159.1h0M151.2 181.5h0M157.8 156.9h0M149.4 165.5h0M151.3 169.0h0M155.0 162.4h0M155.7 165.6h0M148.7 165.2h0M152.8 181.7h0M156.1 173.7h0M155.2 156.8h0M151.3 162.3h0M148.2 162.9h0M151.9 163.9h0M151.1 176.6h0M147.4 165.9h0M156.2 161.0h0M149.0 176.2h0M153.5 178.4h0M151.0 170.8h0M150.2 173.8h0M152.8 170.9h0M158.1 152.5h0M156.5 157.6h0M149.4 166.1h0M152.1 153.2h0M151.7 175.8h0M156.8 171.9h0M151.6 178.2h0M156.4 177.4h0M152.5 175.4h0M150.2 166.3h0M156.9 171.2h0M152.2 178.2h0M152.7 181.2h0" stroke="#dc3a30" stroke-width="1.4" stroke-linecap="round" fill="none"/>
<path d="M147.5 179.7h0M150.6 184.6h0M152.7 179.1h0M151.4 152.9h0M148.3 175.2h0M147.2 157.9h0M147.7 183.6h0M152.0 172.7h0M151.5 168.6h0M154.2 182.7h0M154.3 163.7h0M155.6 165.6h0M150.6 179.1h0M159.0 164.5h0M148.4 165.7h0M151.5 162.2h0M151.5 175.0h0M149.3 164.0h0M156.4 168.6h0M154.1 152.8h0M154.1 160.5h0M150.8 157.2h0M152.9 179.2h0M148.8 178.1h0M148.3 164.9h0M152.5 180.5h0M153.3 156.7h0M157.4 177.0h0M150.4 159.1h0M149.0 183.5h0M146.8 154.7h0M157.4 163.8h0M149.9 163.5h0M148.8 159.3h0M151.1 159.2h0M151.4 155.2h0M147.4 157.6h0M152.6 171.3h0M152.0 164.7h0M146.7 169.3h0" stroke="#f2897f" stroke-width="1.4" stroke-linecap="round" fill="none"/>
<path d="M152.3 156.8h0M152.2 154.1h0M150.0 154.5h0M149.6 176.3h0M152.6 166.5h0M149.5 160.8h0M153.8 156.9h0M151.3 173.2h0" stroke="#fff" stroke-opacity="0.7" stroke-width="1.2" stroke-linecap="round" fill="none"/>
<path d="M159.3 169.8h0M146.3 187.5h0M155.7 164.5h0M151.3 165.0h0M159.8 160.7h0M158.3 159.1h0M146.7 180.5h0M146.6 156.8h0M159.2 173.3h0M146.9 157.1h0M147.1 159.6h0M149.0 183.2h0M159.4 156.9h0M149.1 160.7h0M157.0 168.8h0M156.9 154.5h0M155.6 173.4h0M153.3 182.6h0M155.0 156.7h0M154.3 153.3h0M148.7 175.0h0M156.6 155.0h0M154.2 164.3h0M150.2 162.7h0M147.2 161.2h0M149.9 159.8h0M155.4 177.4h0M149.1 188.2h0M147.5 180.8h0M154.7 150.9h0" stroke="#dc3a30" stroke-width="1.4" stroke-linecap="round" fill="none"/>
<path d="M158.2,164.6 160.4,171.2 164.9,165.3 168.5,158.2 165.2,154.1 157.8,151.3 152.0,152.1Z" fill="#f03c30" fill-rule="evenodd" fill-opacity="0.55"/>
<path d="M159.9 156.8h0M162.7 151.9h0M158.1 155.8h0M153.1 151.7h0M150.0 150.3h0M169.6 155.6h0M165.4 156.7h0M162.4 162.4h0M170.1 163.8h0M156.0 168.0h0M156.6 159.2h0M158.1 169.0h0M161.4 160.2h0M158.6 168.8h0M160.9 160.5h0M158.4 159.6h0M165.8 158.1h0M164.9 153.1h0M162.7 159.4h0M165.3 157.0h0M161.5 156.0h0M161.1 163.9h0M158.2 164.6h0M167.4 161.2h0M162.7 162.6h0M156.5 171.0h0M157.4 154.1h0M157.8 162.4h0M163.9 168.2h0M151.4 151.8h0M156.4 154.8h0M168.5 160.3h0M166.5 157.9h0M161.3 151.7h0M159.4 157.5h0M155.6 154.6h0M165.1 155.4h0M159.1 161.5h0M167.1 163.2h0M166.2 162.4h0M158.4 167.9h0M161.0 163.3h0M163.7 158.3h0M160.5 167.1h0M161.8 157.4h0M161.1 173.6h0M163.9 161.8h0M162.8 159.2h0M159.0 154.2h0M163.7 157.1h0M161.6 171.7h0M152.2 156.8h0M157.8 153.6h0M160.6 168.3h0M162.3 174.4h0M164.8 154.8h0M159.3 171.8h0M161.6 173.2h0M159.0 169.9h0M153.4 150.9h0M161.9 156.4h0M165.2 154.1h0M163.4 153.0h0M170.8 155.7h0M152.0 156.7h0M159.8 159.2h0M162.4 157.3h0M155.1 151.5h0M159.8 161.3h0M163.3 154.7h0M162.4 162.3h0M162.0 165.1h0M158.9 160.4h0M156.9 159.4h0M165.9 159.0h0M159.8 156.9h0M163.0 156.5h0M156.1 157.8h0M164.0 151.6h0M152.3 151.7h0" stroke="#f03c30" stroke-width="1.5" stroke-linecap="round" fill="none"/>
<path d="M162.6 157.9h0M160.1 152.2h0M155.7 153.9h0M163.5 160.6h0M162.2 168.8h0M162.3 161.1h0M168.1 159.3h0M152.5 158.5h0M161.7 164.2h0M159.1 153.6h0M163.5 159.3h0M162.8 162.3h0M154.6 153.4h0M152.9 152.5h0M165.9 168.2h0M160.3 163.6h0M162.5 167.8h0M160.4 160.2h0M161.0 152.3h0M166.3 162.2h0M166.6 157.5h0M168.3 156.8h0M160.7 162.8h0M160.8 159.0h0M156.2 155.0h0M162.9 155.3h0M155.0 159.0h0M167.0 154.5h0M159.0 150.2h0M168.9 158.6h0M167.0 156.1h0M161.8 156.6h0M161.0 167.8h0" stroke="#dc3a30" stroke-width="1.4" stroke-linecap="round" fill="none"/>
<path d="M167.1 156.8h0M153.6 153.7h0M163.9 159.1h0M165.8 153.3h0M161.6 161.7h0M160.3 159.8h0M154.2 156.4h0M160.7 172.7h0M164.9 163.0h0M158.8 160.0h0M165.7 164.7h0M156.2 166.0h0M158.4 163.3h0M167.0 160.8h0M161.7 167.5h0M158.7 153.1h0M164.6 158.1h0M152.1 155.5h0M163.1 165.0h0" stroke="#f2897f" stroke-width="1.4" stroke-linecap="round" fill="none"/>
<path d="M166.1 158.4h0M152.8 152.8h0M161.5 168.4h0" stroke="#fff" stroke-opacity="0.7" stroke-width="1.2" stroke-linecap="round" fill="none"/>
<path d="M166.2 167.1h0M158.1 155.1h0M157.2 150.9h0M162.8 151.3h0M161.8 165.1h0M167.3 155.0h0M153.0 157.0h0M158.4 153.0h0M156.8 150.6h0M158.4 149.2h0M167.0 168.1h0M161.1 171.9h0M162.1 161.4h0M162.6 152.8h0M158.9 154.9h0M159.9 152.9h0M161.0 163.6h0M160.3 175.8h0M168.7 157.3h0M169.0 163.5h0M158.2 166.5h0M155.2 157.2h0M162.4 160.8h0M167.4 156.3h0M156.8 153.4h0" stroke="#dc3a30" stroke-width="1.4" stroke-linecap="round" fill="none"/>
<path d="M164.2,198.6 162.8,198.6 162.6,200.3 172.0,200.3 173.5,198.6 171.8,198.6 172.8,197.4 174.7,189.8 174.7,180.1 172.6,179.9 168.6,184.7 164.8,193.3Z" fill="#f03c30" fill-rule="evenodd" fill-opacity="0.85"/>
<path d="M170.1 192.5h0M169.0 184.9h0M161.2 199.7h0M170.9 184.7h0M171.2 192.1h0M172.7 187.4h0M173.1 190.8h0M165.6 198.5h0M173.7 199.6h0M173.5 189.9h0M167.4 187.0h0M173.2 182.7h0M172.7 180.8h0M173.3 188.7h0M172.4 198.8h0M166.6 185.7h0M167.3 198.7h0M167.7 181.7h0M172.1 194.6h0M172.9 191.4h0M176.8 190.0h0M171.5 194.7h0M171.5 197.8h0M162.0 195.9h0M169.7 194.9h0M170.5 185.4h0M170.0 187.9h0M169.7 188.7h0M172.0 191.4h0M174.5 192.2h0M167.2 187.5h0M169.3 192.7h0M171.4 187.1h0M172.1 192.5h0M170.4 188.2h0M165.9 186.3h0M173.4 193.4h0M164.6 190.7h0M164.8 186.5h0M171.6 189.1h0M170.0 189.4h0M164.7 193.9h0M174.4 179.2h0M170.2 197.9h0M169.4 188.2h0M173.3 187.3h0M170.0 199.9h0M168.9 191.9h0M175.6 192.0h0M165.1 199.3h0M167.1 188.2h0M165.1 197.5h0M171.4 199.0h0M173.2 182.9h0M164.1 198.5h0M170.4 194.9h0M173.8 192.1h0M171.2 186.7h0M167.4 183.1h0M175.3 189.3h0M170.9 188.3h0M168.9 186.4h0M174.0 189.8h0M172.1 194.0h0M172.1 180.5h0M164.9 192.7h0M174.3 180.9h0M167.7 196.7h0M166.1 199.8h0M172.9 180.1h0M175.1 197.7h0M174.8 183.3h0M168.6 198.7h0M171.6 194.6h0M170.1 186.3h0M176.4 179.5h0M165.0 192.8h0M170.7 189.2h0M173.7 180.8h0M163.9 198.5h0M168.9 183.8h0M168.8 194.5h0M173.0 185.2h0M171.4 179.2h0M172.9 193.9h0M171.0 196.3h0M171.7 180.7h0M170.2 186.9h0M174.4 178.9h0M167.1 190.5h0M169.6 192.7h0M172.7 176.9h0M171.2 180.9h0M171.9 188.2h0M170.5 193.3h0M168.6 195.1h0M170.0 184.6h0M169.8 194.4h0M164.2 199.4h0M171.4 179.0h0M177.2 191.8h0" stroke="#f03c30" stroke-width="1.5" stroke-linecap="round" fill="none"/>
<path d="M168.2 193.5h0M173.0 187.8h0M168.8 185.7h0M171.9 188.5h0M168.0 193.7h0M173.6 189.0h0M170.9 188.6h0M164.6 198.3h0M172.1 189.2h0M167.5 180.1h0M172.3 193.4h0M171.5 188.5h0M167.6 188.5h0M174.1 186.1h0M170.1 187.6h0M172.0 189.2h0M174.4 179.0h0M171.6 182.1h0M164.0 195.0h0M174.4 191.1h0M173.3 198.8h0M172.6 192.7h0M174.7 186.9h0M167.2 197.0h0M171.4 191.8h0M168.9 191.2h0M172.9 184.9h0M169.4 194.0h0M170.4 199.8h0M175.3 179.0h0M165.6 193.6h0M175.3 188.6h0M172.7 198.1h0M176.3 194.3h0M174.4 183.2h0M173.5 190.5h0M166.7 199.9h0M175.3 187.8h0M175.8 187.0h0M164.4 186.9h0M176.4 183.2h0M167.4 189.8h0M170.8 195.0h0M173.2 187.1h0M174.0 193.6h0M174.9 178.1h0M165.1 189.2h0M164.6 191.4h0M169.1 190.1h0M165.5 196.9h0M167.9 199.0h0M167.7 194.5h0M167.4 190.4h0M171.3 181.5h0" stroke="#dc3a30" stroke-width="1.4" stroke-linecap="round" fill="none"/>
<path d="M176.9 188.5h0M174.7 188.4h0M168.8 192.8h0M168.7 191.3h0M165.9 193.3h0M170.5 185.9h0M166.6 182.5h0M170.6 184.8h0M165.5 196.5h0M174.7 182.6h0M162.6 190.9h0M175.7 198.3h0M176.9 187.9h0M178.0 192.0h0M172.3 186.1h0M171.1 192.4h0M171.6 196.8h0M176.0 188.5h0M172.4 182.7h0M170.7 194.9h0" stroke="#f2897f" stroke-width="1.4" stroke-linecap="round" fill="none"/>
<path d="M167.1 196.4h0M171.0 188.5h0M169.5 188.0h0M168.6 187.9h0" stroke="#fff" stroke-opacity="0.7" stroke-width="1.2" stroke-linecap="round" fill="none"/>
<path d="M166.3 191.6h0M177.3 185.3h0M166.5 190.6h0M162.9 199.1h0M171.4 191.7h0M178.0 189.6h0M163.8 190.2h0M174.0 184.7h0M170.8 189.0h0M167.1 182.1h0M166.9 190.2h0M165.0 187.8h0M169.6 194.0h0M174.4 177.9h0M163.6 192.6h0M176.6 178.8h0M165.5 188.7h0M171.1 181.7h0M163.6 199.9h0M165.7 192.8h0M173.8 191.9h0M172.3 180.5h0M166.1 185.5h0M177.0 183.5h0M175.5 176.5h0M175.8 190.1h0M176.4 197.1h0M170.8 177.6h0M178.4 189.2h0M170.2 187.8h0" stroke="#dc3a30" stroke-width="1.4" stroke-linecap="round" fill="none"/>
<path d="M288.4,187.8 291.3,178.3 294.9,168.9 290.4,171.3 273.7,176.4 272.2,176.7 272.2,174.4 269.6,174.9 269.6,200.3 288.9,200.3 289.2,197.7 287.0,197.7Z" fill="#a3928c" fill-rule="evenodd"/>
<path d="M287.8 170.0h0M296.3 177.2h0M289.5 185.2h0M294.4 178.9h0M288.8 187.4h0M294.8 178.9h0M293.8 176.9h0M291.8 169.4h0M293.2 180.5h0M292.0 187.7h0M293.3 176.2h0M291.4 190.6h0M285.5 200.3h0M291.7 185.6h0M294.6 172.7h0M296.1 172.9h0M294.8 183.2h0M291.2 187.8h0M292.7 182.9h0M291.5 194.5h0M295.5 171.0h0M296.9 171.1h0M292.5 177.3h0M284.9 199.9h0M290.6 184.8h0M273.0 199.9h0M290.2 183.8h0M272.8 200.3h0M270.2 175.0h0M298.5 167.2h0M280.6 173.2h0M298.5 172.6h0M288.9 197.9h0M297.4 169.7h0M294.0 184.4h0M292.1 183.5h0M270.9 175.4h0M294.1 171.5h0M293.7 176.0h0M293.3 183.3h0M294.5 188.6h0M302.1 163.8h0M292.5 181.3h0M289.4 170.7h0M291.4 178.2h0M281.7 173.0h0M276.1 175.5h0M298.9 169.1h0M291.5 198.2h0M288.2 191.8h0M271.7 175.4h0M275.4 174.2h0M294.7 186.3h0M291.5 188.1h0M285.6 171.3h0M299.4 164.4h0M296.4 183.4h0M288.6 194.2h0M290.0 188.3h0M292.2 192.6h0M291.8 195.4h0M288.8 191.0h0M270.5 175.4h0M278.4 200.0h0M274.0 175.3h0M299.0 164.9h0M294.8 171.8h0M288.3 199.5h0M286.2 199.9h0M279.9 171.6h0M275.9 175.6h0M294.6 165.9h0M291.5 191.0h0M290.7 183.1h0M285.3 171.0h0M294.5 182.9h0M288.1 196.2h0M291.8 186.5h0M290.4 183.3h0M296.6 169.0h0M297.7 168.2h0M297.8 166.8h0M287.2 199.6h0M300.1 163.3h0M277.2 173.1h0M296.5 169.8h0M291.3 191.1h0M287.6 195.5h0M288.8 195.9h0M292.9 176.3h0M269.8 182.1h0M274.6 199.9h0M292.1 188.3h0M269.7 185.9h0M269.9 193.6h0M269.7 183.6h0M295.2 168.1h0M292.1 182.1h0M293.1 176.3h0M300.8 169.5h0M293.1 166.7h0M288.9 199.8h0M292.4 199.1h0M298.2 174.1h0M274.7 175.9h0M294.2 175.2h0M286.2 171.0h0M269.9 199.7h0M289.4 193.3h0M295.7 174.4h0M294.2 173.3h0M269.8 182.5h0M294.5 170.6h0M288.1 171.5h0M285.3 171.9h0M288.0 192.0h0M279.4 173.5h0M296.3 166.7h0M294.0 188.2h0M298.0 167.6h0M289.0 191.9h0M293.8 168.7h0M295.1 180.2h0M288.5 193.7h0M284.5 171.4h0M286.4 199.9h0M292.7 196.6h0M296.5 181.9h0M299.2 172.7h0M290.0 188.9h0M295.9 170.6h0M292.7 181.5h0M279.9 172.9h0M291.6 188.6h0M291.7 186.9h0M292.1 180.6h0M269.6 198.1h0M291.9 180.2h0M291.4 181.9h0M290.2 169.2h0M272.9 174.8h0M291.7 178.8h0M297.7 166.2h0M290.2 189.2h0M289.8 189.1h0M276.2 174.2h0M293.9 174.7h0M270.7 175.8h0M297.7 167.3h0M301.4 166.7h0M293.0 175.7h0M295.2 170.4h0M291.0 170.5h0M298.3 178.6h0M296.5 166.1h0M290.1 182.2h0M278.3 172.8h0M290.5 171.1h0M289.6 199.0h0M293.9 190.6h0M279.2 171.5h0M272.2 174.3h0M281.0 172.7h0M269.7 177.8h0M270.0 183.2h0M298.5 165.9h0M289.6 192.9h0M287.8 199.7h0M297.6 169.3h0M295.7 166.9h0M295.6 171.4h0M290.3 189.0h0M294.4 171.3h0M293.1 179.8h0M278.2 174.2h0M282.7 172.6h0" stroke="#a3928c" stroke-width="1.4" stroke-linecap="round" fill="none"/>
<path d="M291.9 183.5h0M297.5 165.6h0M295.3 172.4h0M300.4 162.6h0M292.7 168.8h0M299.9 165.6h0M299.5 170.9h0M286.2 199.9h0M296.9 167.3h0M287.4 199.5h0M296.1 166.8h0M289.0 170.5h0M290.5 183.4h0M294.1 180.5h0M290.5 189.3h0M279.2 172.3h0M293.5 174.2h0M285.5 170.9h0M296.0 175.5h0M293.8 179.7h0M292.1 168.8h0M293.5 187.8h0M292.5 179.6h0M282.3 171.8h0M295.4 169.4h0M291.9 170.6h0M296.6 177.8h0M290.7 196.1h0M297.2 169.0h0M294.2 186.1h0M290.4 190.0h0M270.0 177.7h0M292.1 178.7h0M295.8 173.7h0M281.4 200.2h0M294.1 169.4h0M294.8 167.2h0M273.3 174.8h0M269.9 184.6h0M293.2 179.5h0M296.4 175.5h0M292.8 179.2h0M288.6 188.9h0M274.0 173.4h0M298.9 165.8h0M282.0 199.9h0M289.8 189.0h0M288.8 187.8h0M293.7 175.6h0M297.6 172.0h0M294.5 171.9h0M293.8 173.8h0M296.7 177.9h0M290.4 189.4h0M270.0 195.2h0M291.0 192.0h0M299.1 168.3h0M288.7 199.5h0M289.1 194.3h0M276.6 173.4h0M289.3 170.6h0M289.0 200.0h0M287.6 171.6h0M295.2 170.6h0M278.2 174.1h0M296.1 173.7h0M295.9 167.8h0M295.0 167.2h0M288.6 194.0h0M300.6 165.3h0M291.9 190.9h0M297.9 176.4h0M292.4 184.4h0M290.4 194.6h0M295.2 169.4h0M282.5 172.3h0" stroke="#7a6e76" stroke-width="1.2" stroke-linecap="round" fill="none"/>
<path d="M325.3 149.6h0M290.5 164.4h0M308.1 168.8h0M311.4 162.0h0M340.0 140.3h0M305.0 170.7h0M316.5 163.5h0M340.5 135.7h0M297.4 157.8h0M305.3 154.3h0M320.4 146.7h0M325.1 152.4h0M302.0 158.5h0M295.2 174.0h0M288.8 166.0h0M292.2 169.9h0M309.6 157.1h0M310.5 164.2h0M330.1 148.7h0M295.9 163.0h0M306.5 165.2h0M303.5 171.5h0M328.5 140.5h0M318.0 144.7h0M311.8 159.0h0M294.6 168.9h0M311.8 148.5h0M333.1 141.4h0M293.2 172.3h0M299.7 158.8h0M323.3 147.9h0M295.5 176.9h0M302.8 174.3h0M291.9 172.1h0M287.7 167.9h0M291.4 173.6h0M329.8 152.7h0M307.8 166.4h0M325.5 149.8h0M339.0 139.8h0M317.8 162.3h0M329.2 140.5h0" stroke="#b0a8b2" stroke-width="1.2" stroke-linecap="round" fill="none"/>
<path d="M347.3 154.2h0M303.7 128.4h0M290.5 130.6h0M310.9 129.6h0M340.6 129.4h0M334.6 153.7h0M336.2 131.1h0M350.8 175.4h0" stroke="#c4bcc4" stroke-width="1.2" stroke-linecap="round" fill="none"/>
<path d="M299.2 188.5h0M332.0 187.1h0M324.1 199.9h0M309.6 194.5h0M303.8 193.8h0M309.7 193.4h0M310.9 194.5h0M298.2 181.4h0M352.1 200.0h0M324.4 181.3h0M336.2 180.2h0M307.2 197.0h0M297.2 199.6h0M313.2 186.9h0M333.3 195.2h0M332.3 200.1h0M308.3 186.8h0M324.5 196.8h0M340.1 190.5h0M331.3 194.5h0M349.7 194.1h0M347.9 192.7h0M290.2 186.5h0M351.7 190.4h0M338.2 190.1h0M312.2 197.1h0M327.0 181.0h0M310.9 193.8h0M331.3 196.4h0M297.6 200.2h0M317.1 199.1h0M293.0 196.1h0M321.9 195.3h0M351.2 193.3h0M313.8 191.9h0M309.1 190.6h0M307.8 195.2h0M298.2 189.4h0M339.8 185.5h0M333.2 197.8h0M298.9 193.6h0M294.7 189.9h0M302.4 187.4h0M301.9 183.2h0M293.6 189.6h0M334.5 188.6h0M320.0 192.4h0M301.0 190.0h0M337.0 199.9h0M331.2 186.7h0M289.7 197.7h0M309.9 188.3h0M305.0 198.5h0M288.6 189.4h0M319.7 193.5h0M299.5 191.6h0M343.0 187.0h0M340.6 195.2h0" stroke="#e2433a" stroke-width="1.3" stroke-linecap="round" fill="none"/>
<path d="M349.0 197.9h0M331.6 195.7h0M304.0 198.6h0M334.2 191.1h0M320.8 193.2h0M288.8 183.5h0M303.9 195.2h0M347.5 192.4h0M332.2 180.9h0M326.8 190.5h0M322.2 193.0h0M318.9 189.1h0M305.1 189.8h0M336.6 187.2h0M349.1 187.6h0M311.6 194.8h0M341.8 181.5h0M328.8 180.4h0M344.6 194.1h0M322.4 188.8h0M346.8 195.5h0M330.3 192.9h0M334.0 192.6h0M354.2 193.3h0M325.3 194.0h0M335.0 185.5h0M293.7 198.6h0M300.2 188.1h0M295.7 196.3h0M326.1 199.0h0M345.3 183.3h0M311.1 194.8h0M333.7 186.1h0M350.3 193.3h0M346.8 193.7h0M333.0 200.0h0M336.9 195.2h0M348.2 190.6h0M291.4 186.2h0M337.0 182.3h0" stroke="#ef8c84" stroke-width="1.3" stroke-linecap="round" fill="none"/>
<path d="M295.8 188.4h0M343.8 178.5h0M302.2 183.4h0M346.5 175.8h0M336.3 187.9h0M307.2 175.4h0M290.5 185.8h0M332.4 179.7h0M327.5 183.8h0M318.7 183.5h0M324.0 188.3h0M348.1 186.2h0" stroke="#e2433a" stroke-width="1.3" stroke-linecap="round" fill="none"/>
<path d="M321.1 179.4h0M339.2 181.4h0M291.7 178.7h0M322.1 176.1h0M291.0 180.8h0M316.3 183.9h0M350.7 175.6h0M313.0 179.3h0M330.7 175.8h0" stroke="#ef8c84" stroke-width="1.3" stroke-linecap="round" fill="none"/>
<path d="M413.1,196.9 414.4,180.7 413.9,171.6 413.2,164.8 411.5,165.5 400.6,171.2 393.0,174.1 391.2,174.6 391.2,172.3 388.6,173.0 388.6,199.5 415.2,199.5 415.3,196.9Z" fill="#a3928c" fill-rule="evenodd"/>
<path d="M414.4 163.2h0M389.1 173.5h0M416.5 163.1h0M409.7 166.3h0M416.1 188.4h0M413.2 163.3h0M413.1 198.9h0M408.2 199.4h0M398.9 170.5h0M415.5 191.4h0M414.2 189.4h0M403.7 167.3h0M390.7 173.6h0M398.0 169.2h0M393.9 172.6h0M394.8 171.7h0M414.2 185.2h0M388.9 178.2h0M396.4 171.1h0M412.1 164.9h0M416.8 180.8h0M414.1 191.3h0M415.2 172.2h0M415.4 171.1h0M414.9 176.2h0M418.3 180.8h0M416.5 174.5h0M398.6 170.3h0M414.8 198.5h0M406.4 168.0h0M414.8 174.4h0M414.6 196.1h0M413.9 193.7h0M414.3 186.4h0M415.9 169.4h0M406.5 165.9h0M414.9 168.0h0M391.7 172.9h0M415.3 188.7h0M415.3 176.1h0M413.9 197.1h0M408.3 164.4h0M414.1 192.3h0M413.8 197.2h0M414.2 171.7h0M413.7 164.1h0M404.9 167.4h0M405.0 168.0h0M414.8 184.2h0M415.9 161.8h0M390.4 199.3h0M417.6 191.5h0M388.8 174.5h0M407.1 199.1h0M405.5 167.5h0M418.0 177.2h0M388.6 173.8h0M408.8 166.3h0M400.5 169.8h0M415.6 167.5h0M418.3 179.3h0M388.7 197.9h0M391.8 172.7h0M405.2 166.1h0M414.5 181.9h0M418.4 183.5h0M416.9 191.7h0M390.4 171.6h0M398.3 171.3h0M393.0 172.0h0M416.1 186.7h0M418.0 183.4h0M389.7 172.9h0M418.0 183.0h0M414.6 191.4h0M413.8 191.4h0M414.9 162.1h0M416.0 176.3h0M413.7 196.4h0M388.7 188.9h0M415.9 188.0h0M388.9 194.6h0M388.8 187.7h0M414.9 196.4h0M391.8 173.2h0M417.0 173.6h0M414.6 179.9h0M415.8 196.2h0M409.1 164.9h0M388.7 180.9h0M413.6 191.6h0M413.9 189.7h0M414.6 170.6h0M416.5 181.8h0M414.5 180.6h0M414.0 167.2h0M415.9 171.7h0M418.0 184.9h0M416.5 188.9h0M414.0 196.9h0M393.5 173.0h0M415.4 175.9h0M401.6 169.5h0M414.0 190.6h0M414.3 167.2h0M414.5 179.4h0M414.2 184.9h0M415.4 197.2h0M405.7 166.6h0M414.5 179.2h0M414.5 185.2h0M413.5 198.1h0M414.2 172.6h0M406.6 167.2h0M416.1 193.9h0M414.9 167.8h0M389.8 174.6h0M407.8 166.4h0M414.6 164.1h0M418.5 181.8h0M414.4 186.8h0M415.2 193.3h0M418.2 189.4h0M414.2 169.9h0M413.0 164.3h0M392.7 173.0h0M400.0 170.9h0M414.5 168.9h0M393.6 173.1h0M416.1 178.7h0M418.7 180.1h0M414.1 164.9h0M419.1 179.8h0M414.4 195.7h0M396.9 170.9h0M401.4 170.3h0M418.7 175.9h0M390.6 173.8h0M399.2 171.2h0M418.6 175.1h0M399.8 171.5h0M407.5 166.2h0M391.5 172.3h0M405.5 167.9h0M395.7 172.1h0M395.8 171.6h0M395.9 172.1h0M407.6 164.9h0M412.2 164.5h0" stroke="#a3928c" stroke-width="1.4" stroke-linecap="round" fill="none"/>
<path d="M393.0 171.4h0M416.8 182.4h0M418.2 168.8h0M412.9 164.4h0M412.4 199.3h0M390.3 172.6h0M414.3 164.6h0M413.3 163.8h0M415.2 183.3h0M389.0 178.6h0M416.7 199.0h0M418.5 185.2h0M414.8 190.0h0M419.4 179.2h0M415.4 167.9h0M415.5 198.3h0M400.2 169.6h0M413.9 193.0h0M388.7 195.2h0M404.3 167.4h0M414.1 191.9h0M414.9 184.4h0M419.0 174.1h0M415.0 177.8h0M406.0 167.7h0M415.5 192.5h0M416.0 179.7h0M416.3 197.7h0M416.0 185.9h0M414.1 169.5h0M415.3 170.6h0M417.9 170.6h0M410.1 163.9h0M402.5 169.8h0M415.3 177.4h0M415.1 197.0h0M415.1 187.9h0M414.6 163.2h0M412.5 164.5h0M391.0 172.7h0M388.7 196.8h0M409.8 165.9h0M392.9 173.2h0M414.7 186.9h0M418.2 171.0h0M416.8 180.5h0M395.0 171.7h0M404.4 167.9h0M414.6 164.5h0M414.0 188.3h0M393.0 173.0h0M415.8 172.5h0M401.7 169.6h0M417.2 194.5h0M394.0 172.3h0M415.5 162.1h0M414.1 189.2h0M395.1 172.2h0M415.0 192.5h0M388.8 179.9h0M415.9 174.2h0M416.3 171.7h0M414.1 187.9h0M393.8 172.1h0" stroke="#7a6e76" stroke-width="1.2" stroke-linecap="round" fill="none"/>
<path d="M429.5 153.0h0M399.9 161.8h0M416.4 168.6h0M417.3 170.6h0M433.4 155.6h0M405.9 161.6h0M416.7 162.4h0M401.2 163.9h0M417.6 155.4h0M412.7 155.2h0M424.4 161.4h0M413.5 154.9h0M421.1 171.9h0M406.3 167.9h0M445.2 149.1h0M426.6 156.5h0M419.2 168.4h0M407.0 168.6h0M430.8 147.3h0M415.2 160.1h0M411.0 158.5h0M436.8 144.1h0M411.1 160.4h0M414.0 172.2h0M437.2 155.5h0M420.3 159.4h0M425.4 165.4h0M410.3 165.2h0M406.1 160.8h0M430.4 151.1h0M405.1 164.9h0M419.0 161.4h0M429.8 158.6h0M452.1 140.7h0M424.8 163.4h0M435.0 146.2h0M429.3 151.6h0M449.1 140.1h0M410.4 159.1h0M405.1 162.4h0M438.9 149.9h0M415.5 158.0h0" stroke="#b0a8b2" stroke-width="1.2" stroke-linecap="round" fill="none"/>
<path d="M457.0 130.8h0M448.9 147.4h0M412.9 110.5h0M396.3 120.5h0M469.0 120.8h0M457.1 139.6h0M458.3 167.5h0M435.5 135.2h0" stroke="#c4bcc4" stroke-width="1.2" stroke-linecap="round" fill="none"/>
<path d="M420.4 197.6h0M420.6 189.1h0M428.5 198.8h0M429.7 189.0h0M420.2 192.5h0M415.4 186.0h0M424.8 186.9h0M416.3 190.2h0M416.2 185.9h0M428.2 183.2h0M418.9 189.7h0M418.6 188.9h0M422.9 192.4h0M419.9 195.4h0M414.6 196.3h0M423.5 187.6h0M413.5 188.1h0M417.7 197.2h0M424.2 190.8h0M419.7 188.6h0M414.6 187.4h0M426.5 198.4h0M429.2 188.5h0M429.4 188.0h0M431.4 192.4h0M428.2 191.8h0M428.0 184.3h0M420.1 196.8h0M425.3 189.8h0M413.9 193.8h0M416.2 197.7h0M425.6 184.6h0M423.4 193.3h0M425.3 192.7h0M422.1 191.0h0M421.8 195.3h0M428.1 193.8h0M416.6 188.5h0M420.1 197.0h0M429.4 187.6h0M413.7 198.9h0M420.8 191.7h0M420.9 192.5h0M424.3 199.0h0M431.8 195.8h0M422.5 186.1h0M420.5 198.3h0M423.9 182.7h0M416.7 197.3h0M429.1 190.6h0" stroke="#e2433a" stroke-width="1.3" stroke-linecap="round" fill="none"/>
<path d="M425.9 186.4h0M416.8 194.1h0M429.7 191.0h0M425.7 190.9h0M421.1 199.2h0M429.2 185.5h0M427.9 187.5h0M418.0 188.3h0M429.7 184.4h0M418.7 198.0h0M429.1 194.6h0M424.1 197.4h0M418.7 192.2h0M413.5 197.2h0M426.2 189.0h0M423.1 197.9h0M414.5 195.9h0M415.0 182.8h0M421.8 192.4h0M428.3 190.8h0M420.1 196.1h0M415.3 186.0h0M422.3 184.8h0M417.3 187.0h0M422.8 187.2h0M424.5 194.7h0M418.8 184.8h0M423.7 196.7h0M416.5 196.2h0M418.9 196.7h0M425.3 198.3h0M414.5 196.5h0M427.0 194.0h0M430.6 186.8h0" stroke="#ef8c84" stroke-width="1.3" stroke-linecap="round" fill="none"/>
<path d="M461.3 176.6h0M457.7 178.3h0M469.8 189.4h0M443.0 197.8h0M445.6 178.8h0M456.7 187.5h0M442.1 176.0h0M443.1 197.6h0M469.8 176.8h0M440.7 195.3h0M439.3 184.9h0M445.6 185.1h0M450.0 180.6h0M462.3 183.4h0M430.3 198.2h0M471.2 189.2h0M454.0 198.7h0M449.1 181.1h0M446.3 187.0h0M431.3 184.4h0M438.8 175.8h0M427.0 191.2h0M434.0 180.2h0M444.5 186.3h0M432.6 199.3h0M439.8 176.2h0M441.0 196.1h0M465.9 187.3h0M431.0 188.9h0M458.0 184.1h0M453.3 183.1h0M451.3 188.3h0M466.1 182.1h0M461.0 190.4h0M432.9 197.2h0M449.8 184.9h0M428.6 187.8h0M454.2 188.0h0M436.2 183.7h0M430.3 176.7h0M423.9 194.3h0M442.2 197.7h0M463.4 186.9h0M422.5 184.2h0M426.2 198.8h0M434.4 188.7h0M423.2 186.6h0M456.9 178.1h0M442.2 198.0h0M460.6 193.6h0" stroke="#e2433a" stroke-width="1.3" stroke-linecap="round" fill="none"/>
<path d="M440.4 198.5h0M460.4 195.6h0M427.8 192.9h0M468.8 182.2h0M455.9 180.3h0M458.3 195.6h0M428.6 189.8h0M429.2 186.6h0M470.2 196.5h0M449.0 188.8h0M466.7 183.7h0M429.2 193.9h0M459.3 189.1h0M448.3 178.5h0M440.5 197.6h0M447.8 180.1h0M424.0 184.7h0M454.0 198.0h0M469.0 179.2h0M459.6 180.8h0M431.4 191.5h0M451.1 175.8h0M454.6 179.4h0M458.5 188.2h0M448.5 181.3h0M460.0 180.1h0M436.8 183.3h0M430.9 177.5h0M465.9 194.5h0M441.0 194.5h0M460.9 190.5h0M463.5 178.3h0M460.3 190.6h0M449.1 186.6h0" stroke="#ef8c84" stroke-width="1.3" stroke-linecap="round" fill="none"/>
<path d="M34.3,301.0 38.2,291.3 43.8,282.0 51.0,272.8 53.8,267.3 46.4,270.0 35.5,274.7 26.2,279.0 26.2,276.6 23.6,277.8 23.6,305.1 35.8,305.1 36.2,302.5 34.0,302.5Z" fill="#a3928c" fill-rule="evenodd"/>
<path d="M58.3 266.3h0M51.2 279.5h0M54.3 270.7h0M53.2 269.2h0M43.8 285.6h0M38.6 297.2h0M53.4 272.4h0M25.6 278.4h0M46.8 281.9h0M44.8 281.2h0M43.7 286.7h0M27.0 278.3h0M54.1 266.9h0M41.3 286.6h0M53.5 270.6h0M60.3 265.8h0M27.1 276.7h0M50.2 274.7h0M55.6 269.0h0M45.7 285.8h0M54.1 274.7h0M46.3 280.4h0M46.5 278.8h0M30.7 275.7h0M36.6 301.7h0M39.0 293.3h0M46.2 283.2h0M39.2 291.3h0M23.9 297.7h0M35.3 302.5h0M23.7 301.2h0M48.6 280.2h0M53.3 272.6h0M51.1 266.3h0M52.4 273.9h0M44.8 282.1h0M42.3 269.7h0M42.5 286.8h0M43.3 285.5h0M40.5 288.3h0M44.1 283.3h0M35.9 302.7h0M43.6 282.4h0M38.3 291.2h0M41.6 270.0h0M50.3 276.6h0M37.6 299.6h0M37.9 297.1h0M52.3 272.1h0M54.5 268.4h0M29.0 275.5h0M49.5 276.2h0M53.3 267.4h0M43.8 282.6h0M44.8 283.2h0M38.8 301.1h0M48.9 277.5h0M32.4 275.6h0M50.7 275.2h0M39.0 291.6h0M43.4 282.9h0M58.7 267.2h0M53.8 265.8h0M35.9 301.6h0M30.8 275.0h0M55.1 264.6h0M40.6 290.1h0M40.0 295.2h0M38.2 297.2h0M52.0 282.2h0M47.6 268.6h0M32.1 275.2h0M42.7 269.7h0M53.9 271.7h0M54.8 265.9h0M36.8 272.4h0M58.1 269.5h0M37.9 293.2h0M30.5 276.8h0M41.9 285.8h0M54.1 265.8h0M24.0 296.3h0M53.0 269.9h0M37.1 296.3h0M38.0 301.8h0M54.2 270.2h0M41.6 290.4h0M36.4 304.2h0M51.6 273.5h0M47.9 283.0h0M57.3 270.4h0M54.0 271.5h0M23.8 302.1h0M27.4 277.6h0M53.8 265.2h0M42.5 289.8h0M42.3 289.2h0M40.4 271.9h0M53.0 265.8h0M53.3 274.4h0M32.7 275.2h0M23.9 284.0h0M42.7 285.9h0M58.5 265.8h0M47.5 277.6h0M38.2 297.8h0M55.9 273.5h0M58.0 272.3h0M51.0 267.6h0M56.0 265.0h0M39.2 271.5h0M46.6 269.6h0M45.1 289.4h0M36.0 299.2h0M54.6 274.3h0M28.2 277.6h0M36.0 298.0h0M39.7 291.7h0M47.4 278.6h0M56.2 264.0h0M44.6 285.8h0M46.1 269.7h0M51.9 280.4h0M46.8 278.6h0M38.4 291.8h0M36.4 302.3h0M46.5 281.8h0M44.2 281.8h0M33.7 274.5h0M40.6 290.6h0M37.8 304.4h0M39.8 297.1h0M50.7 275.0h0M48.9 266.3h0M46.8 267.9h0M29.9 276.7h0M49.1 266.4h0M35.9 274.0h0M50.7 280.4h0M39.5 295.7h0M45.6 291.2h0M40.9 272.2h0M49.7 266.7h0M52.1 274.1h0M55.0 268.9h0M55.2 273.0h0M23.6 284.2h0M53.7 269.0h0M23.6 295.0h0M52.8 272.7h0M27.7 278.0h0M56.1 272.3h0M46.4 269.5h0M49.4 275.2h0M54.0 266.5h0M41.0 270.0h0M34.6 301.5h0M23.9 293.8h0M46.5 266.9h0M43.2 269.2h0M34.5 302.9h0M45.3 286.8h0M23.9 286.0h0M52.5 273.2h0M49.3 278.9h0M43.9 269.6h0M36.7 297.9h0M23.7 299.0h0M38.2 291.7h0M42.9 286.3h0M53.6 266.5h0M41.7 286.9h0M23.7 284.9h0M26.4 278.3h0M38.9 299.1h0M42.9 284.6h0M53.7 271.2h0M38.0 297.3h0M36.4 304.0h0M48.5 284.2h0M51.5 276.3h0M36.4 296.1h0M53.5 269.3h0M45.4 283.5h0M54.2 266.4h0M37.7 273.6h0M53.7 269.3h0M57.9 266.8h0M44.6 287.4h0M38.1 272.6h0M34.8 304.3h0M36.2 298.8h0M52.8 270.7h0M27.1 304.7h0M38.0 300.1h0M26.0 276.8h0" stroke="#a3928c" stroke-width="1.4" stroke-linecap="round" fill="none"/>
<path d="M36.4 272.5h0M34.9 273.7h0M52.3 267.8h0M57.6 269.5h0M54.6 273.8h0M50.6 273.7h0M48.4 268.8h0M40.8 287.2h0M41.1 287.4h0M47.4 269.2h0M48.4 282.8h0M36.2 272.7h0M36.8 298.1h0M29.0 277.2h0M40.7 295.3h0M50.6 268.3h0M51.8 271.7h0M25.3 276.5h0M44.0 283.0h0M40.8 270.5h0M43.8 283.3h0M40.4 288.2h0M37.0 302.8h0M43.9 291.7h0M39.6 272.3h0M59.1 266.7h0M39.1 271.9h0M42.0 287.4h0M51.2 273.6h0M27.9 276.9h0M56.9 267.0h0M45.4 270.1h0M45.2 286.1h0M45.0 292.1h0M30.0 275.6h0M44.1 281.8h0M53.9 276.0h0M32.9 273.3h0M44.6 287.3h0M59.4 267.0h0M51.7 275.7h0M46.6 267.6h0M23.8 287.8h0M57.1 266.1h0M52.0 274.1h0M52.3 267.1h0M39.7 272.2h0M25.4 278.7h0M51.5 277.3h0M54.7 272.8h0M53.9 272.7h0M36.1 296.8h0M23.9 290.4h0M53.7 271.7h0M42.9 292.6h0M42.8 285.7h0M42.6 284.6h0M40.5 292.0h0M42.6 284.2h0M39.9 297.4h0M35.1 299.2h0M37.1 272.7h0M25.7 277.1h0M24.6 304.8h0M42.7 292.1h0M40.4 292.6h0M41.3 289.3h0M50.8 266.9h0M48.5 279.0h0M52.0 271.0h0M39.8 295.4h0M25.1 278.3h0M39.9 292.0h0M36.6 296.4h0M44.0 283.0h0M43.6 269.8h0M43.2 288.9h0M52.8 273.6h0M37.3 271.8h0M33.2 273.2h0M41.5 288.7h0M36.8 272.1h0M50.1 267.4h0M36.5 298.8h0" stroke="#7a6e76" stroke-width="1.2" stroke-linecap="round" fill="none"/>
<path d="M62.3 259.7h0M66.0 266.3h0M55.2 267.7h0M48.7 282.3h0M54.0 262.2h0M56.4 271.7h0M49.9 288.1h0M66.4 269.5h0M62.3 265.6h0M57.8 277.8h0M48.2 282.1h0M50.3 267.5h0M52.7 284.4h0M67.0 268.7h0M43.1 293.2h0M55.5 280.1h0M51.6 280.4h0M61.2 263.5h0M50.2 272.9h0M57.2 277.5h0M57.9 266.0h0M55.7 278.1h0M67.6 261.7h0M55.0 266.6h0M52.7 285.7h0M51.2 269.8h0M68.3 258.5h0M48.5 284.7h0M52.2 285.5h0M57.0 261.8h0M49.0 292.8h0" stroke="#b0a8b2" stroke-width="1.2" stroke-linecap="round" fill="none"/>
<path d="M92.8 276.4h0M103.1 228.3h0M60.1 220.4h0M67.6 218.9h0M81.7 248.4h0M75.2 279.9h0M82.6 262.0h0M80.9 265.3h0M91.1 242.3h0" stroke="#c4bcc4" stroke-width="1.2" stroke-linecap="round" fill="none"/>
<path d="M44.5,266.8 54.3,263.2 55.3,258.7 52.0,251.8 42.9,251.3 25.3,259.1 25.3,257.7 23.6,258.5 23.6,277.5 25.3,276.7 25.3,275.3Z" fill="#f03c30" fill-rule="evenodd" fill-opacity="1.00"/>
<path d="M48.8 253.1h0M52.9 263.0h0M41.4 259.1h0M44.6 249.6h0M29.3 259.9h0M28.1 266.8h0M56.3 260.1h0M44.4 259.7h0M32.5 266.1h0M47.2 254.6h0M33.1 256.6h0M25.7 267.3h0M46.0 259.2h0M52.8 262.5h0M39.5 259.8h0M48.1 253.6h0M25.2 269.5h0M53.2 255.4h0M31.0 263.5h0M37.9 261.4h0M26.9 260.8h0M52.0 257.3h0M43.9 268.4h0M31.3 266.4h0M43.8 253.4h0M39.8 266.7h0M51.4 264.3h0M54.3 253.3h0M39.2 270.9h0M47.9 261.6h0M40.2 261.6h0M37.6 259.4h0M53.2 257.6h0M51.5 264.0h0M32.4 267.2h0M53.6 260.6h0M23.9 258.8h0M30.7 255.7h0M26.4 256.7h0M37.7 255.3h0M30.5 258.6h0M38.8 263.3h0M53.6 263.0h0M25.7 260.4h0M36.1 271.4h0M43.2 257.5h0M45.1 256.1h0M24.5 269.5h0M43.1 254.8h0M40.3 259.7h0M45.0 256.3h0M23.7 275.2h0M28.1 269.2h0M28.6 268.0h0M50.7 249.7h0M39.1 263.1h0M37.2 265.8h0M39.5 265.1h0M54.9 263.7h0M43.2 267.3h0M34.8 261.0h0M26.2 260.8h0M36.3 264.9h0M38.1 274.0h0M43.7 262.2h0M29.8 272.7h0M53.5 263.9h0M53.2 260.5h0M33.9 258.6h0M41.6 267.4h0M44.0 269.9h0M34.6 268.6h0M33.4 271.0h0M45.2 251.2h0M50.3 253.0h0M45.5 255.7h0M32.0 275.5h0M45.8 263.4h0M32.8 259.6h0M53.6 256.8h0M29.8 272.3h0M36.4 259.3h0M35.6 257.0h0M33.5 261.8h0M23.7 264.8h0M49.7 265.1h0M50.5 254.4h0M30.3 267.3h0M46.9 250.3h0M31.0 268.0h0M42.0 255.9h0M29.2 262.9h0M38.4 265.9h0M52.7 261.6h0M50.0 253.6h0M27.3 260.7h0M34.3 267.2h0M37.2 267.1h0M45.2 256.6h0M32.1 260.6h0M27.3 266.9h0M25.0 264.0h0M40.6 267.9h0M43.5 249.4h0M40.7 265.7h0M34.6 258.7h0M50.7 254.5h0M32.2 261.9h0M29.6 265.5h0M46.3 260.5h0M25.7 276.9h0M49.8 257.2h0M53.8 252.4h0M43.3 249.9h0M31.4 268.5h0M41.3 255.5h0M34.9 271.4h0M30.7 275.5h0M43.3 257.6h0M40.3 254.5h0M34.1 255.1h0M42.5 254.1h0M42.2 260.9h0M43.3 255.3h0M23.6 262.0h0M26.8 267.7h0M56.9 253.5h0M31.6 270.7h0M31.8 268.9h0M33.2 261.8h0M39.4 259.5h0M53.0 252.5h0M41.4 249.7h0M47.4 253.0h0M34.4 256.2h0M51.8 263.9h0M45.4 250.2h0M39.8 267.6h0M25.8 269.8h0M49.3 253.6h0M25.1 271.7h0M40.5 269.2h0M40.8 253.6h0M42.4 264.1h0M43.1 257.6h0M41.9 265.2h0M52.6 253.1h0M43.6 262.6h0M52.0 253.3h0M34.5 256.2h0M26.8 261.9h0M46.8 253.0h0M39.5 260.1h0M33.6 258.9h0M48.2 254.4h0M35.5 259.7h0M56.3 261.5h0M42.0 263.7h0M41.8 255.7h0M39.0 262.4h0M34.0 269.9h0M31.3 264.4h0M51.3 251.3h0M30.5 260.6h0M30.0 261.0h0M25.4 267.3h0M31.6 265.9h0M42.6 251.5h0M28.2 271.6h0M46.3 256.7h0M52.4 261.0h0M28.7 271.6h0M42.7 263.5h0M49.2 252.7h0M41.2 263.9h0M35.1 267.1h0M32.8 272.2h0M30.4 262.3h0M28.1 269.7h0M55.7 258.3h0M37.3 259.8h0M51.7 250.5h0M49.3 251.6h0M35.1 261.8h0M51.4 265.4h0M55.2 253.8h0M27.4 262.2h0M26.7 278.2h0M51.9 261.0h0M33.4 268.3h0M40.9 258.4h0M36.7 257.8h0M45.3 260.0h0M40.1 260.9h0M47.4 268.3h0M35.0 274.5h0M33.8 261.5h0M56.9 255.2h0M31.3 262.9h0M54.6 257.4h0M49.9 257.0h0M37.5 251.9h0M36.0 256.2h0M31.6 269.1h0M28.3 270.1h0M36.6 262.0h0M51.9 266.5h0M32.8 266.1h0M44.6 252.6h0M41.8 255.7h0M42.1 259.6h0M32.9 269.6h0M26.7 268.8h0M55.1 260.5h0M36.7 271.2h0M48.8 258.9h0M44.8 267.4h0M37.8 256.6h0M46.6 260.0h0M42.1 260.7h0M24.1 275.1h0M43.6 250.9h0M37.3 257.8h0M35.9 262.2h0M27.1 268.1h0M30.2 257.9h0M46.0 256.4h0M36.6 258.4h0M31.2 260.7h0M43.7 264.9h0M40.9 257.0h0M45.5 258.0h0M48.6 264.6h0M43.1 261.5h0M24.5 264.3h0M24.5 265.3h0M35.7 261.6h0M40.1 265.9h0M31.4 256.4h0M53.5 257.1h0M30.1 253.9h0M41.7 259.1h0M33.1 268.5h0M45.3 266.9h0M30.9 261.1h0M43.3 257.3h0M47.4 265.5h0M40.7 253.6h0M47.3 255.1h0M40.1 264.3h0M26.7 267.6h0M51.1 257.0h0M51.8 258.7h0M42.1 265.6h0M39.2 257.0h0M35.0 256.8h0M25.8 264.4h0M34.5 256.2h0M30.8 266.9h0M24.2 272.6h0M49.8 249.8h0M24.2 272.3h0M36.7 259.3h0M32.5 269.1h0M51.8 262.7h0M28.9 265.3h0M40.3 253.3h0M45.5 255.0h0M28.8 274.0h0M36.4 265.1h0M31.8 276.9h0M48.1 257.0h0M51.3 253.7h0M47.9 263.3h0M53.4 263.3h0M34.8 274.5h0M23.7 258.4h0M32.8 273.7h0M33.0 257.9h0M37.3 258.5h0M32.4 262.3h0M49.3 250.7h0M40.1 260.9h0M27.2 270.8h0M31.6 258.6h0M55.2 259.1h0M49.0 251.6h0M31.8 272.7h0M31.9 265.7h0M44.0 266.1h0M26.1 260.2h0M29.9 261.2h0M53.2 259.9h0M28.6 265.1h0M45.3 257.9h0M33.6 261.5h0M42.9 254.1h0M44.0 257.1h0M44.5 264.1h0M35.2 262.8h0M32.7 265.3h0M46.8 263.4h0M26.5 275.6h0M34.9 267.5h0M25.6 265.0h0M38.0 263.6h0M31.9 270.2h0M55.8 263.1h0M43.1 261.1h0M35.9 263.3h0M54.1 267.1h0M37.2 263.3h0M44.0 266.0h0M49.6 259.1h0M34.7 270.9h0M55.8 262.2h0M35.4 263.9h0M24.1 269.2h0M44.1 259.4h0M36.9 261.6h0M47.8 263.3h0M35.6 253.4h0M52.5 254.3h0M35.3 253.6h0M31.8 269.2h0M41.7 267.9h0M47.1 253.2h0M33.2 274.7h0M47.3 260.3h0M32.8 257.8h0M39.9 254.8h0M44.9 261.7h0M46.1 258.5h0M46.1 262.3h0M49.7 258.8h0M38.1 255.8h0M50.9 264.0h0M26.4 266.6h0M43.1 258.7h0M37.4 257.3h0M42.6 264.3h0M32.2 273.4h0M34.1 261.1h0M27.1 269.9h0M34.1 269.2h0M45.9 252.9h0M50.6 265.0h0M31.8 257.8h0M24.5 269.2h0M31.6 263.5h0M39.9 263.6h0M42.3 252.4h0M26.8 261.9h0M43.0 259.0h0M34.8 264.2h0M36.0 255.3h0M28.7 263.9h0M27.3 262.8h0M40.4 266.1h0M53.3 265.3h0M25.4 278.0h0M36.5 258.1h0M47.7 263.9h0M34.8 261.5h0" stroke="#f03c30" stroke-width="1.5" stroke-linecap="round" fill="none"/>
<path d="M44.4 253.8h0M25.0 263.4h0M32.6 263.0h0M55.6 262.1h0M36.3 265.9h0M40.6 253.5h0M51.4 253.3h0M39.6 260.3h0M53.8 257.2h0M55.5 256.7h0M30.2 256.9h0M43.8 255.2h0M35.9 250.3h0M31.4 256.1h0M41.9 251.7h0M29.0 256.4h0M38.3 252.1h0M54.1 263.7h0M50.1 248.7h0M32.4 267.0h0M38.7 257.0h0M37.8 265.8h0M33.5 275.5h0M39.8 260.4h0M26.1 264.8h0M41.8 265.6h0M52.9 254.3h0M31.9 264.6h0M35.1 271.2h0M40.0 263.4h0M32.6 267.8h0M42.0 256.9h0M43.4 263.1h0M33.6 256.1h0M42.0 271.6h0M30.4 272.2h0M29.5 256.7h0M35.9 255.3h0M32.8 270.1h0M46.3 255.0h0M42.4 251.6h0M47.7 256.0h0M48.1 255.0h0M51.9 257.1h0M40.3 263.9h0M32.3 256.2h0M25.6 268.1h0M43.4 259.5h0M53.1 265.1h0M45.4 262.2h0M48.5 256.6h0M33.6 260.7h0M44.0 259.9h0M52.3 259.7h0M43.4 263.1h0M26.4 277.0h0M38.1 251.6h0M39.4 259.4h0M39.0 268.7h0M42.5 259.9h0M31.5 263.1h0M52.8 255.3h0M28.3 263.3h0M43.0 254.8h0M54.9 259.7h0M49.5 257.7h0M55.3 263.1h0M38.4 253.0h0M39.3 263.1h0M52.2 250.0h0M27.0 265.9h0M50.7 266.6h0M39.2 255.5h0M32.4 257.7h0M34.5 265.4h0M36.0 261.5h0M30.1 261.8h0M32.0 263.8h0M35.7 264.1h0M40.0 259.4h0M53.6 254.0h0M43.7 262.9h0M36.0 271.3h0M39.2 270.5h0M25.3 264.1h0M56.5 256.9h0M40.2 260.1h0M47.0 259.5h0M56.0 255.4h0M51.6 254.2h0M43.2 263.7h0M29.6 267.6h0M33.7 268.6h0M47.5 262.5h0M47.7 255.8h0M35.5 255.8h0M39.3 253.6h0M31.2 264.9h0M36.7 271.3h0M30.7 270.5h0M35.1 260.8h0M39.9 265.3h0M51.4 262.0h0M51.9 255.9h0M46.5 251.1h0M26.4 273.4h0M41.4 256.9h0M32.3 270.2h0M39.6 267.1h0M43.6 260.7h0M52.2 260.5h0M49.2 252.2h0M26.4 275.6h0M48.3 262.9h0M35.5 267.3h0M23.7 276.9h0M24.7 272.9h0M27.1 261.3h0M58.2 258.4h0M51.5 255.0h0M50.9 256.0h0M42.5 263.2h0M36.6 262.5h0M45.9 255.7h0M42.2 260.6h0M41.4 257.5h0M40.6 270.4h0M47.7 264.5h0M40.0 268.9h0M37.3 262.1h0M34.8 264.5h0M55.5 261.5h0M33.3 262.6h0M30.3 259.9h0M48.8 248.3h0M52.1 261.8h0M28.6 259.0h0M51.8 265.5h0M30.3 274.9h0M41.8 262.5h0M32.6 273.7h0M47.1 263.5h0M45.7 267.1h0M24.3 276.1h0M29.5 271.9h0M27.6 261.6h0M31.0 259.0h0M35.9 258.8h0M32.2 265.0h0M38.9 260.2h0M43.8 256.9h0M55.9 257.9h0M25.2 267.4h0M37.9 263.1h0" stroke="#dc3a30" stroke-width="1.4" stroke-linecap="round" fill="none"/>
<path d="M44.0 251.3h0M49.5 252.5h0M45.3 267.9h0M49.1 257.4h0M28.8 270.7h0M54.6 258.0h0M58.0 262.1h0M26.8 270.9h0M36.7 255.4h0M35.1 264.3h0M35.2 262.4h0M43.8 259.8h0M34.1 253.0h0M49.9 253.9h0M33.2 264.3h0M49.9 262.7h0M40.7 266.4h0M25.7 264.1h0M52.7 250.6h0M25.6 275.1h0M47.3 259.9h0M47.0 255.7h0M47.7 263.3h0M37.8 272.6h0M42.6 265.8h0M34.2 256.8h0M28.0 275.9h0M52.5 259.2h0M35.6 257.1h0M37.6 256.0h0M29.6 270.1h0M38.0 263.7h0M29.6 276.4h0M51.0 258.4h0M34.9 268.6h0M45.9 263.6h0M27.9 259.0h0M41.6 267.1h0M31.1 269.2h0M28.2 260.8h0M24.2 270.6h0M41.2 259.1h0M47.1 261.0h0M36.3 257.8h0M28.4 264.4h0M37.2 266.5h0M48.5 261.5h0M45.8 259.4h0M38.2 271.4h0M40.7 255.8h0M32.2 261.3h0M50.0 259.5h0M43.7 266.7h0M49.1 258.4h0M32.3 261.7h0M47.1 250.7h0M31.4 270.5h0M51.7 262.4h0M30.8 263.3h0M29.4 267.1h0M48.5 256.5h0M40.6 260.6h0M44.0 261.1h0M27.6 270.4h0M46.0 254.2h0M28.1 275.6h0M39.5 257.2h0M35.0 263.1h0M27.4 265.3h0M39.5 262.1h0M28.3 268.1h0" stroke="#f2897f" stroke-width="1.4" stroke-linecap="round" fill="none"/>
<path d="M33.5 261.1h0M26.0 270.4h0M35.3 261.8h0M33.4 256.7h0M36.0 254.7h0M35.0 265.3h0M39.5 255.9h0M51.9 252.7h0M47.8 259.2h0M35.3 265.3h0M49.6 263.2h0M26.5 270.7h0M32.7 261.2h0M31.6 257.7h0M43.6 259.1h0M33.9 265.0h0M41.8 258.1h0" stroke="#fff" stroke-opacity="0.7" stroke-width="1.2" stroke-linecap="round" fill="none"/>
<path d="M52.8 249.6h0M42.0 253.3h0M32.3 257.2h0M46.7 260.8h0M27.6 262.5h0M48.2 263.9h0M29.9 270.7h0M41.3 250.8h0M35.4 255.5h0M54.2 266.4h0M52.6 256.9h0M47.0 266.4h0M31.6 262.1h0M49.1 256.4h0M53.8 254.2h0M54.2 262.7h0M28.4 268.6h0M36.2 273.4h0M49.7 261.6h0M45.4 257.7h0M32.6 269.1h0M54.8 266.9h0M48.1 265.1h0M31.0 262.3h0M34.4 251.8h0M44.2 247.7h0M46.5 251.3h0M40.6 253.3h0M38.5 263.4h0M43.9 254.4h0" stroke="#dc3a30" stroke-width="1.4" stroke-linecap="round" fill="none"/>
<path d="M41.4,247.9 42.2,247.7 55.1,249.6 56.6,245.0 54.1,235.6 48.6,237.2 40.8,243.0 31.8,250.2 33.4,252.3Z" fill="#f03c30" fill-rule="evenodd" fill-opacity="0.35"/>
<path d="M44.6 241.1h0M37.4 247.2h0M50.0 240.2h0M38.5 243.2h0M56.9 244.1h0M43.0 242.0h0M56.7 241.6h0M34.2 253.0h0M53.9 247.6h0M49.0 252.2h0M40.1 246.0h0M50.7 245.0h0M51.8 247.2h0M47.7 244.8h0M57.3 238.7h0M54.2 238.9h0M50.7 234.1h0M47.6 238.4h0M41.3 248.7h0M45.4 249.2h0M31.8 251.7h0M52.3 239.9h0M47.7 239.3h0M50.7 251.9h0M44.8 239.6h0M55.2 248.2h0M49.9 233.3h0M54.4 240.8h0M34.9 254.2h0M47.7 238.6h0M46.1 245.1h0M42.4 243.0h0M37.7 247.5h0M43.9 240.5h0M56.9 247.1h0M52.9 245.5h0M53.8 240.9h0M54.3 248.4h0M54.2 244.4h0M56.2 241.5h0M40.2 240.6h0M41.9 246.0h0M48.0 241.7h0M53.0 233.6h0M47.9 233.4h0M57.5 249.2h0M39.2 251.9h0M39.3 243.7h0M48.7 240.3h0M51.9 236.8h0M56.9 248.1h0M45.7 246.1h0M49.9 249.8h0M37.7 253.2h0M50.3 245.4h0M41.6 247.7h0M32.1 251.9h0M31.5 252.5h0M51.1 244.9h0M53.5 239.7h0M28.7 250.1h0M32.3 249.1h0M50.8 242.4h0M31.8 248.8h0M31.9 250.5h0M52.4 239.6h0M45.4 238.8h0M39.3 249.7h0M41.6 249.5h0M48.4 234.4h0M50.9 235.9h0M55.0 237.5h0" stroke="#f03c30" stroke-width="1.5" stroke-linecap="round" fill="none"/>
<path d="M42.9 242.2h0M30.7 249.9h0M43.7 240.9h0M36.1 248.1h0M51.9 245.4h0M38.8 249.5h0M47.1 241.2h0M52.0 244.8h0M48.0 240.6h0M41.6 249.4h0M54.5 249.3h0M53.1 237.0h0M49.6 237.8h0M52.5 250.5h0M44.6 246.0h0M56.0 244.9h0M53.8 238.5h0M52.6 237.9h0M48.9 244.3h0M58.1 240.9h0M37.6 248.4h0M46.1 244.4h0M47.6 247.1h0M51.7 236.3h0M47.2 248.1h0M46.2 240.9h0M49.5 246.5h0M54.3 249.5h0M54.2 243.1h0M52.9 243.1h0M38.4 247.1h0M52.1 237.1h0" stroke="#dc3a30" stroke-width="1.4" stroke-linecap="round" fill="none"/>
<path d="M34.9 250.2h0M58.8 247.2h0M42.3 249.9h0M38.2 251.7h0M54.0 241.2h0M34.2 247.8h0M54.4 235.2h0M53.8 243.7h0M45.4 244.3h0" stroke="#f2897f" stroke-width="1.4" stroke-linecap="round" fill="none"/>
<path d="M34.9 248.2h0M49.6 239.3h0" stroke="#fff" stroke-opacity="0.7" stroke-width="1.2" stroke-linecap="round" fill="none"/>
<path d="M56.4 237.6h0M49.1 243.0h0M35.5 252.9h0M30.1 248.7h0M46.3 242.0h0M49.1 241.5h0M40.5 239.5h0M51.3 244.4h0M38.8 243.7h0M52.4 243.6h0M42.3 244.7h0M46.5 240.0h0M55.2 252.6h0M49.1 243.2h0M38.1 252.3h0M55.9 246.7h0M30.2 250.9h0M52.6 236.7h0M46.9 247.1h0M55.3 241.5h0M50.8 250.2h0M43.2 250.3h0M31.3 255.8h0M38.9 240.6h0M57.3 238.5h0M34.0 255.7h0M37.3 241.6h0M53.1 245.8h0M43.2 244.9h0M47.4 237.5h0" stroke="#dc3a30" stroke-width="1.4" stroke-linecap="round" fill="none"/>
<path d="M58.1 233.6h0M50.2 229.8h0M54.6 232.6h0M44.1 236.0h0M54.0 237.9h0M54.4 227.0h0M46.9 233.6h0M53.8 229.8h0" stroke="#e2433a" stroke-width="1.3" stroke-linecap="round" fill="none"/>
<path d="M45.3 233.8h0M51.0 231.2h0M52.7 230.9h0M55.8 231.2h0M41.3 233.6h0M45.3 228.5h0" stroke="#ef8c84" stroke-width="1.3" stroke-linecap="round" fill="none"/>
<path d="M161.5,297.4 171.0,273.4 176.4,261.6 176.6,258.7 173.1,261.7 161.2,273.6 154.2,281.1 148.9,286.1 148.9,283.1 146.3,285.5 146.3,305.6 161.5,305.6 162.2,303.0 159.9,303.0Z" fill="#a3928c" fill-rule="evenodd"/>
<path d="M148.1 283.8h0M164.2 291.5h0M177.4 262.2h0M180.4 262.7h0M163.9 296.6h0M174.3 267.4h0M166.0 288.2h0M175.3 257.0h0M166.1 289.4h0M171.4 280.8h0M165.3 305.2h0M173.1 261.4h0M176.6 259.8h0M160.8 273.7h0M177.2 262.2h0M170.4 276.4h0M175.4 275.4h0M174.5 271.4h0M167.5 266.1h0M162.4 296.1h0M155.4 279.0h0M170.8 287.0h0M162.1 269.2h0M166.7 266.5h0M169.0 289.1h0M160.4 303.0h0M147.7 286.6h0M161.0 301.2h0M172.0 272.6h0M177.4 266.0h0M160.1 273.1h0M176.4 258.3h0M170.1 264.0h0M178.2 262.1h0M164.3 268.8h0M178.1 269.5h0M157.9 276.8h0M169.0 280.4h0M172.9 259.0h0M163.7 296.4h0M162.5 297.7h0M177.1 255.5h0M157.1 277.1h0M156.4 276.1h0M180.3 255.5h0M167.2 286.2h0M168.6 287.9h0M163.7 270.4h0M161.9 300.9h0M172.9 281.4h0M170.3 280.8h0M164.3 267.6h0M175.2 268.8h0M174.7 275.8h0M163.4 301.1h0M173.5 274.0h0M181.2 267.3h0M175.7 266.4h0M168.2 266.5h0M148.8 284.1h0M147.5 305.4h0M179.2 255.8h0M163.9 269.4h0M172.5 283.3h0M167.1 291.4h0M163.1 299.3h0M171.3 285.0h0M162.0 271.7h0M165.8 290.1h0M167.9 282.4h0M175.1 271.5h0M176.6 265.9h0M173.4 274.0h0M180.0 255.0h0M170.0 286.3h0M151.7 282.8h0M166.3 301.0h0M176.4 258.1h0M146.3 303.6h0M164.2 268.0h0M174.1 279.6h0M166.0 300.2h0M160.9 301.4h0M171.3 259.4h0M167.1 290.6h0M177.8 267.3h0M165.8 268.9h0M170.2 283.9h0M170.8 279.3h0M172.5 261.4h0M172.5 261.1h0M156.4 305.5h0M166.4 288.7h0M172.9 259.2h0M151.4 281.2h0M169.9 278.6h0M161.4 302.2h0M178.8 257.7h0M149.7 281.8h0M173.6 274.0h0M175.9 268.1h0M162.6 295.2h0M166.1 265.9h0M175.0 273.6h0M152.2 282.2h0M153.2 281.8h0M171.3 291.4h0M179.4 260.1h0M158.8 274.2h0M172.1 284.0h0M179.1 259.3h0M147.0 284.2h0M171.9 275.7h0M176.4 262.4h0M162.6 300.5h0M179.2 259.0h0M177.8 262.4h0M173.1 275.2h0M150.4 282.4h0M173.6 270.2h0M170.8 263.3h0M177.0 262.8h0M161.9 303.5h0M168.7 284.8h0M162.9 296.6h0M163.9 303.0h0M170.4 276.6h0M170.6 278.9h0M166.5 286.9h0M165.6 287.8h0M164.7 295.5h0M181.1 265.5h0M178.0 257.0h0M164.3 296.5h0M176.4 269.3h0M157.8 275.2h0M166.9 288.8h0M168.8 287.2h0M151.4 305.2h0M168.2 285.8h0M167.3 290.7h0M179.9 256.8h0M175.4 266.1h0M164.9 295.2h0M167.4 291.1h0M158.8 275.4h0M170.9 280.9h0M159.1 273.3h0M161.6 298.3h0M175.0 272.8h0M177.1 257.3h0M174.0 278.2h0M177.8 259.5h0M179.0 265.8h0M172.7 261.6h0M164.9 293.9h0M172.8 269.6h0M149.4 284.6h0M167.0 285.4h0M179.1 257.0h0M172.2 279.5h0M166.3 268.1h0M169.5 287.3h0M159.5 305.4h0M174.6 276.9h0M179.8 256.8h0M164.7 293.7h0M178.0 260.1h0M147.4 285.1h0M170.3 276.9h0M178.0 262.2h0M173.2 260.3h0M146.4 304.5h0M172.0 262.7h0M146.3 299.0h0M153.9 280.0h0M156.9 276.0h0M174.6 266.0h0M169.9 285.2h0M170.9 277.5h0M165.7 300.2h0M174.1 258.1h0M146.4 294.7h0M164.3 267.4h0M170.1 289.7h0M172.8 274.5h0M169.0 281.8h0M179.4 262.9h0M170.4 285.5h0M164.8 269.0h0M171.2 262.4h0M161.9 304.5h0M161.2 304.8h0M178.1 269.1h0M177.5 257.6h0M146.4 301.3h0M170.6 279.7h0M178.0 262.7h0M163.7 297.2h0M152.8 280.4h0M159.6 273.8h0M179.1 256.1h0M146.4 292.8h0M166.4 286.2h0M177.8 259.0h0M179.6 259.7h0M177.6 259.8h0M170.9 275.3h0M176.9 260.8h0M146.4 293.7h0M176.9 259.3h0M176.5 275.5h0M162.4 298.5h0M181.8 261.6h0M163.9 304.5h0M176.8 260.7h0M172.5 261.4h0M173.5 273.4h0M172.9 259.5h0M172.5 284.2h0M181.6 256.2h0M172.8 259.4h0M173.8 267.8h0M160.5 303.2h0M167.6 288.6h0M169.3 280.3h0M169.7 278.6h0M169.7 278.9h0M151.4 281.3h0M170.0 264.5h0" stroke="#a3928c" stroke-width="1.4" stroke-linecap="round" fill="none"/>
<path d="M147.3 284.7h0M160.6 273.7h0M152.7 281.2h0M178.6 261.8h0M171.9 279.2h0M170.7 283.8h0M171.3 263.0h0M178.1 254.9h0M160.3 305.3h0M161.5 297.4h0M165.4 268.1h0M173.5 275.2h0M156.3 276.2h0M170.4 280.1h0M179.2 257.6h0M176.1 257.2h0M164.8 292.9h0M164.1 294.7h0M178.8 256.0h0M171.2 261.5h0M177.0 269.0h0M159.4 274.7h0M166.6 267.1h0M175.1 264.9h0M159.9 305.1h0M171.3 280.8h0M162.4 301.3h0M162.2 271.2h0M159.9 303.5h0M174.9 269.5h0M162.2 304.5h0M156.1 277.2h0M159.5 275.2h0M180.2 265.8h0M171.0 284.0h0M146.5 300.8h0M158.7 272.9h0M166.4 292.4h0M167.1 290.2h0M147.3 287.3h0M172.3 258.2h0M159.0 272.4h0M171.9 271.7h0M170.8 274.1h0M171.4 275.9h0M169.6 263.1h0M178.2 254.6h0M163.0 298.9h0M167.6 286.2h0M169.8 264.6h0M178.4 264.4h0M148.6 284.7h0M164.6 292.9h0M167.9 284.4h0M168.9 296.1h0M169.1 285.1h0M179.6 259.3h0M179.0 255.6h0M166.8 288.1h0M159.2 275.3h0M177.2 265.3h0M179.7 263.9h0M171.3 274.9h0M161.0 272.8h0M176.7 264.5h0M163.7 297.5h0M176.9 264.6h0M161.0 273.3h0M150.9 283.4h0M161.8 300.0h0M160.5 303.3h0M163.7 299.7h0M155.6 277.6h0M170.4 278.3h0M148.8 305.4h0M181.3 262.9h0M179.0 259.5h0M166.2 296.4h0M146.5 297.5h0M163.4 298.8h0M160.4 301.7h0M178.6 258.1h0M155.3 277.8h0M166.5 291.7h0M164.6 299.9h0M169.3 282.4h0M166.3 287.8h0M156.4 277.1h0M180.8 255.5h0M164.1 269.5h0M168.6 287.8h0M161.5 303.0h0M153.5 279.1h0M176.8 259.7h0M165.3 289.9h0M146.8 286.6h0M168.0 283.5h0M181.2 260.5h0M152.0 282.8h0" stroke="#7a6e76" stroke-width="1.2" stroke-linecap="round" fill="none"/>
<path d="M193.5 239.2h0M194.6 254.9h0M211.2 234.9h0M187.1 244.8h0M198.5 237.8h0M198.3 246.1h0M192.4 246.7h0M190.3 242.7h0M185.0 260.8h0M177.9 256.7h0M184.3 260.9h0M178.7 255.5h0M181.8 254.5h0M188.8 251.2h0M179.6 256.2h0M192.3 247.4h0M207.4 235.7h0M182.2 255.8h0M207.1 243.6h0M184.4 253.4h0M199.3 240.6h0M176.1 257.5h0M195.1 249.8h0M197.3 243.6h0M200.0 247.3h0M201.1 246.2h0M188.1 258.8h0M183.8 258.6h0M196.2 245.6h0M200.7 242.9h0M190.6 254.3h0" stroke="#b0a8b2" stroke-width="1.2" stroke-linecap="round" fill="none"/>
<path d="M207.7 253.3h0M197.7 249.5h0M191.3 228.7h0M199.2 227.8h0M204.3 282.8h0M222.9 279.3h0M220.2 237.7h0" stroke="#c4bcc4" stroke-width="1.2" stroke-linecap="round" fill="none"/>
<path d="M159.0,271.1 165.0,265.1 169.9,259.4 166.6,257.7 160.0,256.3 152.3,257.8 148.0,259.3 148.0,257.9 146.3,258.6 146.3,285.9 148.0,284.2 148.0,282.5 152.1,278.6Z" fill="#f03c30" fill-rule="evenodd" fill-opacity="0.90"/>
<path d="M162.0 254.6h0M151.4 274.8h0M161.3 268.9h0M153.6 260.0h0M156.7 265.9h0M147.3 259.9h0M158.7 261.7h0M152.8 269.0h0M156.4 258.1h0M163.0 260.4h0M155.3 259.8h0M164.8 260.5h0M155.2 278.7h0M152.2 278.0h0M153.2 257.5h0M153.4 279.9h0M147.9 282.4h0M152.3 263.2h0M149.2 259.6h0M155.1 265.3h0M158.5 259.0h0M169.2 258.7h0M152.8 282.0h0M158.3 264.7h0M156.5 278.5h0M153.7 275.2h0M154.1 271.0h0M146.8 256.6h0M151.7 272.0h0M150.0 273.9h0M150.8 270.5h0M165.7 264.1h0M159.3 263.1h0M147.6 285.0h0M151.2 267.5h0M155.3 264.8h0M165.7 262.6h0M157.6 269.7h0M161.1 257.2h0M166.5 260.2h0M164.6 256.6h0M156.9 265.7h0M148.6 268.1h0M158.2 274.6h0M153.2 278.9h0M147.0 284.3h0M158.8 264.3h0M171.0 259.3h0M150.8 276.5h0M154.5 268.8h0M152.3 262.2h0M149.7 267.5h0M147.5 269.3h0M165.8 268.2h0M158.3 264.0h0M159.0 271.2h0M164.2 267.1h0M159.8 263.0h0M158.7 255.7h0M160.4 270.2h0M148.4 264.0h0M159.3 265.6h0M148.5 277.9h0M149.2 279.7h0M152.9 270.6h0M156.5 264.7h0M152.5 264.4h0M166.9 256.4h0M166.0 266.0h0M146.5 281.5h0M152.8 273.6h0M156.8 277.3h0M158.8 265.1h0M148.1 284.1h0M154.6 258.1h0M168.8 259.6h0M153.2 260.5h0M156.0 275.2h0M156.4 263.6h0M148.4 261.2h0M148.5 267.9h0M150.1 276.3h0M153.8 269.6h0M155.5 266.8h0M150.6 275.1h0M164.3 267.9h0M153.0 259.8h0M151.2 266.9h0M148.5 268.3h0M152.2 283.5h0M151.2 268.3h0M155.1 260.9h0M164.5 263.2h0M153.8 257.1h0M163.0 263.3h0M157.0 272.8h0M159.1 263.2h0M162.2 259.4h0M153.9 275.5h0M152.5 280.0h0M146.5 280.8h0M146.4 261.7h0M151.6 283.4h0M158.9 261.4h0M164.7 262.3h0M147.9 269.8h0M150.1 277.7h0M150.8 283.2h0M150.3 273.6h0M159.0 266.4h0M147.9 271.7h0M163.0 266.0h0M159.5 260.7h0M149.9 268.9h0M160.0 256.9h0M152.9 270.8h0M162.7 262.8h0M155.6 264.0h0M158.1 264.1h0M161.6 265.0h0M150.5 271.0h0M170.4 257.3h0M163.2 261.2h0M158.1 267.8h0M152.6 278.8h0M164.1 261.1h0M160.3 256.7h0M151.4 258.8h0M163.6 261.2h0M155.8 260.0h0M146.5 281.0h0M159.0 267.3h0M156.2 267.3h0M163.5 258.0h0M149.7 277.9h0M169.6 256.2h0M161.0 268.1h0M155.9 261.4h0M150.8 281.8h0M163.9 265.5h0M152.8 257.4h0M159.8 266.3h0M166.5 264.0h0M150.4 258.1h0M164.8 262.0h0M156.5 264.6h0M151.7 262.6h0M159.1 260.0h0M153.7 276.7h0M161.7 267.3h0M165.9 256.8h0M168.7 262.7h0M163.3 268.2h0M153.1 270.0h0M152.6 275.2h0M161.7 264.7h0M157.6 258.3h0M152.4 261.2h0M163.1 262.3h0M154.2 267.5h0M169.6 264.3h0M166.4 267.5h0M160.6 263.3h0M157.6 255.7h0M146.8 277.0h0M151.8 278.6h0M150.8 272.2h0M155.4 275.4h0M147.8 282.5h0M148.9 260.8h0M158.9 271.8h0M158.1 266.4h0M153.2 268.7h0M159.8 265.6h0M158.2 256.4h0M166.6 264.9h0M150.2 272.3h0M150.6 265.3h0M147.8 256.4h0M149.7 265.0h0M156.3 264.3h0M159.0 265.9h0M164.2 267.7h0M160.5 266.6h0M153.4 269.3h0M160.3 270.6h0M163.0 261.3h0M158.6 259.9h0M149.4 281.5h0M170.0 260.6h0M162.6 260.5h0M154.5 266.0h0M160.3 264.6h0M155.4 255.6h0M162.1 255.3h0M155.8 276.1h0M165.7 263.0h0M148.9 273.3h0M146.9 284.8h0M159.2 264.0h0M159.6 272.2h0M152.5 261.6h0M149.7 269.0h0M151.3 262.7h0M148.3 264.3h0M151.5 266.9h0M148.0 258.5h0M151.4 263.2h0M157.6 269.1h0M153.2 273.1h0M146.9 279.8h0M155.9 257.1h0M168.0 260.9h0M161.1 269.0h0M166.5 263.1h0M147.3 267.1h0M151.2 281.7h0M147.1 263.7h0M161.2 270.6h0M148.7 270.5h0M147.5 281.0h0M152.2 255.9h0M165.6 263.0h0M152.5 271.0h0M156.1 268.3h0M162.2 264.3h0" stroke="#f03c30" stroke-width="1.5" stroke-linecap="round" fill="none"/>
<path d="M166.4 264.4h0M153.4 272.8h0M149.2 271.2h0M160.9 259.5h0M148.9 282.6h0M150.8 266.7h0M171.3 260.2h0M150.6 255.6h0M164.7 268.0h0M163.0 264.8h0M153.6 262.0h0M160.7 265.2h0M157.2 256.0h0M164.4 260.5h0M149.9 268.6h0M154.3 271.2h0M156.9 268.3h0M154.6 271.1h0M170.2 258.4h0M152.0 272.8h0M160.2 268.1h0M147.0 260.5h0M156.9 272.4h0M163.4 267.2h0M152.9 272.5h0M155.7 264.8h0M150.2 257.7h0M151.9 271.6h0M149.4 273.9h0M166.0 263.6h0M163.9 257.9h0M149.6 260.6h0M153.4 266.1h0M153.5 264.1h0M158.3 262.0h0M147.6 281.7h0M166.1 258.4h0M156.0 277.3h0M159.1 253.5h0M166.8 261.9h0M158.0 268.1h0M171.4 261.0h0M159.3 258.0h0M155.6 259.4h0M147.7 269.1h0M164.0 266.0h0M166.2 264.3h0M150.7 266.1h0M159.4 266.0h0M158.4 266.3h0M149.1 268.5h0M157.4 264.2h0M170.6 260.4h0M167.3 255.7h0M148.1 266.2h0M151.6 274.3h0M165.2 257.6h0M150.6 274.5h0M150.3 260.4h0M153.4 265.8h0M161.4 263.2h0M152.6 259.8h0M154.2 264.5h0M157.4 266.2h0M146.6 269.3h0M147.7 257.4h0M157.3 275.5h0M165.1 263.3h0M162.2 267.1h0M161.9 264.3h0M150.3 276.2h0M151.8 272.9h0M149.3 282.0h0M147.5 280.4h0M158.2 265.4h0M165.9 260.9h0M162.3 256.3h0M166.5 258.0h0M146.4 269.0h0M156.3 274.8h0M159.3 263.8h0M154.2 277.0h0M154.5 269.7h0M147.9 273.3h0M148.5 280.3h0M148.3 269.0h0M152.5 282.3h0M149.6 279.6h0M147.7 257.9h0M150.0 259.4h0M149.2 283.1h0M164.9 265.1h0M157.0 269.2h0M150.8 270.7h0M150.4 266.9h0M149.1 257.0h0M169.7 263.2h0M159.6 259.4h0M151.0 272.8h0M157.7 262.2h0M147.1 279.9h0M165.4 265.2h0M148.0 268.5h0M154.5 255.4h0M163.5 256.4h0M149.7 285.8h0M147.4 269.0h0M154.9 270.4h0" stroke="#dc3a30" stroke-width="1.4" stroke-linecap="round" fill="none"/>
<path d="M163.0 266.5h0M151.6 259.0h0M159.5 271.2h0M159.8 272.1h0M159.6 266.0h0M147.4 279.0h0M156.5 264.5h0M167.1 265.8h0M153.0 262.6h0M166.2 263.8h0M148.2 284.9h0M165.4 265.3h0M146.5 262.2h0M163.6 256.6h0M151.7 279.1h0M161.8 270.0h0M154.3 273.4h0M161.6 261.3h0M169.3 261.1h0M153.0 268.4h0M152.2 262.7h0M157.8 265.7h0M164.6 265.7h0M158.3 268.4h0M165.5 258.8h0M152.0 258.7h0M151.3 276.8h0M158.5 268.0h0M151.6 271.3h0M151.3 268.4h0M157.7 262.4h0M161.5 258.7h0M152.6 268.6h0M153.3 263.6h0M157.6 266.6h0M150.2 277.5h0M146.7 277.6h0M153.8 269.4h0M165.3 262.6h0M153.2 258.0h0M168.9 259.7h0M149.5 272.8h0M151.4 262.7h0M156.4 277.8h0M157.5 263.7h0M151.6 277.8h0M162.4 261.6h0M151.7 261.8h0M162.9 262.4h0M157.0 262.0h0M164.9 259.9h0M150.0 280.4h0M150.9 276.0h0M147.0 268.7h0M165.0 261.8h0M158.9 259.4h0M150.7 275.0h0M149.1 271.2h0M158.8 262.2h0M148.4 268.1h0M155.2 276.7h0M158.8 255.8h0M158.4 256.0h0M161.0 261.7h0M146.7 272.5h0M150.7 262.0h0M162.2 262.8h0M147.2 271.3h0M158.2 259.1h0" stroke="#f2897f" stroke-width="1.4" stroke-linecap="round" fill="none"/>
<path d="M163.1 260.3h0M160.1 257.6h0M149.6 278.1h0M161.5 263.9h0M155.6 271.4h0M148.9 263.4h0M154.8 259.8h0M158.1 270.7h0M153.9 259.0h0M147.8 275.8h0" stroke="#fff" stroke-opacity="0.7" stroke-width="1.2" stroke-linecap="round" fill="none"/>
<path d="M161.7 253.5h0M149.7 268.2h0M165.0 256.4h0M149.1 280.2h0M163.9 255.6h0M158.1 262.4h0M161.5 255.2h0M151.7 283.6h0M171.7 261.9h0M156.7 268.3h0M149.3 263.9h0M162.3 264.0h0M150.3 277.8h0M158.5 274.9h0M160.8 269.1h0M146.6 287.6h0M149.3 282.6h0M149.0 255.8h0M151.3 255.8h0M153.5 268.5h0M154.3 280.8h0M157.4 253.1h0M163.6 268.0h0M150.5 279.2h0M153.5 281.9h0M162.3 268.3h0M166.0 263.5h0M171.8 262.0h0M155.4 260.5h0M168.7 256.9h0" stroke="#dc3a30" stroke-width="1.4" stroke-linecap="round" fill="none"/>
<path d="M151.6 253.6h0M160.4 241.8h0M174.0 245.7h0M156.4 241.2h0M160.9 251.9h0M177.4 249.4h0M153.3 242.3h0M149.9 245.5h0M171.2 255.5h0M155.4 240.2h0M152.9 258.0h0M171.5 246.3h0M164.6 248.6h0M148.0 242.9h0M169.3 253.2h0M148.1 244.3h0M158.8 250.0h0M155.1 251.5h0M175.4 254.6h0M159.4 239.6h0M160.9 249.6h0M173.5 250.0h0M173.2 240.1h0M161.6 239.8h0M157.0 255.5h0M156.2 246.7h0M171.6 245.5h0M161.5 237.5h0M180.7 247.3h0" stroke="#e2433a" stroke-width="1.3" stroke-linecap="round" fill="none"/>
<path d="M151.2 255.9h0M180.7 240.2h0M163.9 255.0h0M166.9 238.2h0M161.4 248.5h0M157.0 241.5h0M152.1 253.7h0M150.5 250.1h0M147.1 246.8h0M163.0 255.0h0M150.0 245.7h0M164.5 244.8h0M181.9 241.7h0M166.9 255.6h0M156.3 254.4h0M167.1 255.8h0M158.4 241.7h0M160.2 252.6h0M172.8 239.2h0M172.0 254.2h0" stroke="#ef8c84" stroke-width="1.3" stroke-linecap="round" fill="none"/>
<path d="M170.9 298.0h0M172.8 275.3h0M181.1 280.3h0M167.5 305.2h0M167.4 277.1h0M181.8 284.4h0M182.1 290.8h0M177.3 281.7h0M167.3 297.8h0M162.4 301.2h0M176.5 271.0h0M171.6 282.0h0M174.5 279.0h0M162.0 297.0h0M175.3 278.4h0M169.1 292.5h0M167.2 305.3h0M175.9 295.6h0M171.2 280.0h0M168.4 283.1h0M181.3 280.2h0M178.7 272.0h0M166.4 290.3h0M177.5 276.5h0M170.2 292.2h0M172.4 284.2h0M176.8 266.4h0M162.9 293.2h0M166.8 283.7h0M173.6 281.3h0M172.7 298.2h0M169.2 289.0h0M167.1 291.4h0M177.1 266.5h0M180.7 298.5h0M166.6 288.6h0M166.6 301.4h0M172.0 280.9h0M179.5 296.1h0M163.1 298.0h0M169.1 296.0h0M166.5 289.1h0M181.5 286.9h0M173.3 293.3h0M172.8 292.3h0M172.8 285.7h0M173.9 284.2h0M174.0 271.6h0M176.1 300.1h0M173.6 281.8h0" stroke="#e2433a" stroke-width="1.3" stroke-linecap="round" fill="none"/>
<path d="M167.3 278.5h0M166.7 298.5h0M173.8 267.0h0M170.1 283.5h0M180.0 280.8h0M174.7 298.9h0M178.2 284.3h0M164.9 292.6h0M172.6 273.1h0M180.7 298.5h0M172.5 277.7h0M161.8 294.3h0M181.1 289.5h0M180.6 299.9h0M173.1 280.3h0M174.3 269.5h0M166.6 289.7h0M171.5 296.1h0M181.1 290.9h0M180.4 302.2h0M165.6 287.8h0M162.9 297.1h0M171.7 281.4h0M182.6 283.4h0M172.9 280.7h0M167.3 305.4h0M175.5 270.4h0M170.0 297.3h0M158.6 304.9h0M166.1 304.1h0M182.1 291.8h0M167.4 292.8h0M164.1 294.7h0M169.4 279.0h0" stroke="#ef8c84" stroke-width="1.3" stroke-linecap="round" fill="none"/>
<path d="M277.2,304.6 277.8,303.0 276.5,303.0 278.4,297.8 282.9,289.0 287.1,281.8 289.1,274.1 280.6,276.1 273.3,276.8 271.7,276.7 271.7,275.5 270.1,275.5 270.1,304.6Z" fill="#a3928c" fill-rule="evenodd"/>
<path d="M276.5 275.7h0M281.1 297.1h0M281.5 296.4h0M278.5 276.3h0M290.7 276.4h0M290.7 277.4h0M288.1 286.7h0M284.9 290.6h0M288.5 283.6h0M272.6 275.8h0M285.8 290.0h0M288.0 279.2h0M277.9 303.8h0M278.5 299.6h0M286.6 283.8h0M287.3 272.7h0M282.6 275.3h0M282.9 290.7h0M289.9 274.3h0M278.3 276.0h0M275.3 276.1h0M289.4 281.9h0M286.7 273.3h0M290.9 280.1h0M288.2 283.8h0M288.7 278.2h0M289.6 276.8h0M288.2 278.1h0M279.2 302.6h0M281.2 296.3h0M289.3 273.2h0M280.3 275.7h0M277.5 276.0h0M285.5 291.1h0M287.5 273.8h0M291.4 274.9h0M276.8 274.9h0M289.6 279.9h0M271.7 275.0h0M279.6 300.0h0M287.0 285.0h0M280.7 297.2h0M284.1 273.0h0M286.5 291.2h0M280.2 302.2h0M286.4 291.7h0M291.3 274.3h0M284.2 291.0h0M289.8 279.1h0M282.7 290.6h0M288.7 279.5h0M281.3 293.9h0M278.0 299.7h0M282.3 293.4h0M278.8 300.3h0M283.2 297.3h0M279.7 301.5h0M282.7 289.6h0M275.8 275.7h0M280.2 296.5h0M282.1 298.7h0M278.3 304.6h0M276.9 304.4h0M278.0 301.3h0M289.9 277.1h0" stroke="#a3928c" stroke-width="1.4" stroke-linecap="round" fill="none"/>
<path d="M289.1 283.6h0M275.9 275.2h0M278.1 299.9h0M287.3 287.4h0M282.5 293.8h0M285.1 285.7h0M287.6 287.4h0M279.5 298.4h0M290.5 273.4h0M277.9 302.5h0M288.0 274.0h0M285.3 287.2h0M290.8 281.0h0M279.2 297.2h0M271.7 275.5h0M277.7 302.1h0M288.4 278.5h0M279.2 275.3h0M290.4 273.2h0M281.8 294.1h0M271.9 275.6h0M289.5 279.5h0M277.8 304.1h0M288.4 273.7h0M289.3 275.5h0M286.5 283.0h0M287.9 285.9h0M281.0 293.6h0M280.2 298.9h0" stroke="#7a6e76" stroke-width="1.2" stroke-linecap="round" fill="none"/>
<path d="M280.8 286.0h0M281.9 281.1h0M300.7 261.2h0M283.8 269.1h0M293.2 272.5h0M298.6 263.1h0M295.3 277.3h0M284.2 271.2h0M300.0 267.2h0M284.1 278.2h0M308.9 262.7h0M294.5 266.7h0M288.1 268.4h0M308.6 265.7h0M302.6 262.8h0M290.1 268.3h0M294.2 266.3h0M307.3 261.1h0M289.9 271.9h0M293.2 266.1h0M284.4 269.1h0M306.6 268.9h0M291.9 283.9h0M282.5 271.4h0M302.6 269.2h0M284.6 270.1h0M289.0 277.7h0M299.2 261.7h0M300.1 271.3h0M298.0 277.5h0M301.8 267.7h0" stroke="#b0a8b2" stroke-width="1.2" stroke-linecap="round" fill="none"/>
<path d="M304.4 236.9h0M309.7 249.9h0M318.5 219.5h0M314.4 245.3h0M324.5 219.0h0" stroke="#c4bcc4" stroke-width="1.2" stroke-linecap="round" fill="none"/>
<path d="M405.4,305.3 405.7,304.1 404.9,304.1 406.9,297.5 412.2,283.5 414.8,277.3 416.3,274.5 414.2,275.9 400.3,289.8 395.0,296.0 390.3,300.8 390.3,299.6 389.1,300.8 389.1,305.3Z" fill="#a3928c" fill-rule="evenodd"/>
<path d="M410.7 288.1h0M409.6 280.1h0M415.9 277.2h0M409.3 298.5h0M392.1 298.5h0M390.3 300.1h0M407.1 282.7h0M409.0 279.3h0M417.1 276.9h0M402.7 286.6h0M417.8 273.8h0M415.9 272.7h0M411.3 290.9h0M416.4 275.9h0M405.2 304.7h0M407.2 302.8h0M396.5 294.1h0M406.5 302.2h0M416.9 273.2h0M414.2 282.5h0M411.5 287.2h0M390.0 300.2h0M413.6 276.5h0M409.8 291.9h0M411.5 291.2h0M406.4 299.6h0M400.8 288.1h0M417.2 273.4h0M416.9 273.4h0M406.8 303.1h0M412.4 276.4h0M411.6 289.2h0M409.9 279.1h0M413.7 286.0h0M405.5 303.2h0M411.5 278.4h0M407.1 299.1h0M392.3 298.1h0M411.7 289.7h0M409.8 278.3h0M410.2 278.5h0M409.0 280.6h0M405.8 304.9h0M413.9 280.2h0M418.4 273.8h0M410.9 288.9h0M410.2 279.6h0M416.6 277.1h0M395.4 293.7h0M412.3 287.7h0M390.8 299.2h0M408.0 281.7h0M390.8 299.2h0M408.1 298.7h0M397.5 292.1h0M413.0 283.7h0M413.6 276.1h0" stroke="#a3928c" stroke-width="1.4" stroke-linecap="round" fill="none"/>
<path d="M408.5 298.2h0M411.6 278.4h0M410.9 290.4h0M395.1 295.3h0M416.5 273.0h0M414.0 279.7h0M405.3 304.7h0M418.1 276.1h0M410.4 292.1h0M399.5 289.6h0M409.9 291.8h0M416.5 280.5h0M406.7 282.9h0M394.5 294.3h0M406.9 299.4h0M407.3 298.4h0M416.8 279.6h0M416.0 278.9h0M410.3 289.9h0M393.2 297.1h0M410.3 277.4h0M403.5 285.6h0M413.6 283.3h0M414.8 280.4h0M400.5 289.0h0" stroke="#7a6e76" stroke-width="1.2" stroke-linecap="round" fill="none"/>
<path d="M429.3 264.6h0M409.8 290.7h0M426.9 263.7h0M426.1 272.5h0M402.8 286.7h0M427.1 261.1h0M404.8 283.1h0M424.0 263.0h0M420.6 269.5h0M431.4 257.7h0M415.5 270.4h0M415.2 271.4h0M417.9 283.3h0M428.2 260.3h0M408.0 278.4h0M403.8 278.4h0M413.7 280.8h0M411.7 285.9h0M417.9 278.1h0M426.1 270.7h0M405.9 288.5h0" stroke="#b0a8b2" stroke-width="1.2" stroke-linecap="round" fill="none"/>
<path d="M461.4 225.3h0M413.6 243.0h0M415.3 224.1h0M437.3 245.8h0M433.6 222.7h0" stroke="#c4bcc4" stroke-width="1.2" stroke-linecap="round" fill="none"/>
<path d="M39.5,407.0 43.6,396.3 49.6,384.3 55.6,373.3 58.0,367.8 43.6,377.3 34.3,382.5 26.4,384.6 26.4,382.4 23.8,383.1 23.8,411.7 40.8,411.7 41.3,409.1 39.1,409.1Z" fill="#a3928c" fill-rule="evenodd"/>
<path d="M50.0 384.0h0M46.4 397.5h0M44.0 400.1h0M48.1 392.3h0M45.7 374.5h0M53.4 378.6h0M42.8 405.3h0M43.6 402.6h0M50.2 372.2h0M51.9 382.4h0M34.0 382.0h0M44.3 375.5h0M24.1 405.9h0M49.0 392.7h0M55.1 369.1h0M59.9 367.6h0M60.1 365.8h0M24.9 411.4h0M46.2 375.5h0M43.2 406.3h0M47.0 392.8h0M57.1 377.2h0M24.2 384.3h0M37.6 380.3h0M36.5 379.4h0M51.6 390.8h0M50.2 384.6h0M48.4 372.4h0M52.8 370.5h0M59.0 368.9h0M41.6 411.5h0M33.3 382.6h0M64.4 365.9h0M51.7 371.1h0M47.7 391.7h0M57.0 375.5h0M58.0 375.2h0M44.4 395.8h0M39.5 410.6h0M41.5 406.5h0M53.9 382.3h0M35.6 411.6h0M58.5 372.7h0M63.6 364.7h0M50.2 388.5h0M53.1 378.5h0M46.4 401.7h0M58.7 366.9h0M36.5 411.5h0M24.5 384.2h0M49.8 386.4h0M58.5 368.7h0M48.4 399.5h0M49.8 371.4h0M53.1 379.2h0M35.9 379.2h0M58.8 366.6h0M29.5 382.9h0M46.9 393.7h0M50.6 392.2h0M46.9 393.1h0M53.8 380.2h0M36.6 377.9h0M46.4 374.2h0M54.7 386.1h0M44.3 396.4h0M24.0 390.3h0M54.7 377.2h0M40.7 403.8h0M23.9 389.7h0M35.9 379.9h0M52.6 392.3h0M36.9 411.5h0M41.8 377.7h0M43.4 374.7h0M56.0 383.3h0M31.0 381.1h0M48.4 373.1h0M57.6 381.2h0M52.9 389.1h0M24.1 382.8h0M49.1 392.4h0M58.3 376.0h0M51.4 387.0h0M46.2 406.5h0M55.5 376.5h0M57.2 366.8h0M24.9 383.2h0M29.1 383.5h0M45.1 374.8h0M50.7 387.4h0M49.1 372.6h0M46.3 394.1h0M49.4 393.6h0M27.6 411.6h0M52.0 380.8h0M58.7 372.8h0M44.3 407.6h0M38.1 378.3h0M54.2 377.6h0M56.2 372.1h0M49.8 385.3h0M44.8 408.8h0M41.7 407.9h0M31.2 382.6h0M40.7 409.2h0M43.9 397.4h0M59.6 366.5h0M47.3 374.3h0M56.7 377.1h0M34.5 411.4h0M30.5 411.7h0M53.9 377.8h0M41.9 375.8h0M50.6 370.3h0M37.1 411.7h0M60.7 365.5h0M26.2 411.5h0M24.0 388.3h0M43.7 400.7h0M59.1 367.8h0M40.4 408.6h0M41.7 403.8h0M49.6 373.3h0M54.3 381.6h0M58.9 375.1h0M48.3 371.9h0M24.0 407.3h0M24.0 391.2h0M40.1 408.6h0M43.1 404.4h0M47.5 388.7h0M50.0 371.1h0M42.8 409.2h0M37.0 411.4h0M62.0 366.0h0M58.2 365.4h0M32.3 411.3h0M44.5 395.9h0M57.1 376.2h0M48.7 389.5h0M43.2 403.9h0M60.6 367.1h0M59.9 370.8h0M53.9 370.3h0M59.1 371.0h0M34.9 380.3h0M50.2 387.1h0M37.9 380.0h0M61.5 376.0h0M40.5 404.7h0M45.6 374.5h0M59.3 370.3h0M40.6 403.9h0M45.8 394.0h0M60.7 370.9h0M43.1 405.4h0M45.8 393.0h0M52.0 382.2h0M46.6 392.0h0M45.4 398.3h0M61.8 368.0h0M51.2 381.7h0M61.4 370.5h0M56.6 374.4h0M46.3 392.3h0M29.1 382.7h0M56.3 366.7h0M41.9 377.4h0M43.7 405.8h0M51.3 388.7h0M41.6 411.2h0M53.5 369.5h0M60.7 364.3h0M51.1 384.9h0M56.6 372.4h0M48.3 398.5h0M41.7 404.3h0M43.2 398.3h0M43.5 399.5h0M47.1 403.3h0M39.1 411.3h0M29.3 383.2h0M41.2 375.7h0M50.3 392.1h0M42.3 401.4h0M31.4 382.4h0M53.8 368.1h0M44.0 376.1h0M49.6 388.3h0M44.8 395.1h0M45.0 393.7h0M60.1 370.8h0M50.3 383.6h0M24.2 395.4h0M47.8 390.7h0M49.9 370.9h0M42.4 400.6h0M39.9 377.3h0M51.2 370.2h0M53.0 369.5h0M52.5 379.8h0M56.4 367.9h0M33.7 381.8h0M54.7 380.8h0M51.2 370.8h0M46.7 390.6h0M40.6 404.3h0M41.1 375.8h0M48.5 388.5h0M34.8 382.0h0M58.9 370.5h0M55.2 384.1h0M49.5 390.5h0M43.2 397.3h0M42.3 405.3h0M52.1 385.9h0M43.2 404.0h0M63.4 367.4h0M24.1 400.5h0M52.8 369.7h0" stroke="#a3928c" stroke-width="1.4" stroke-linecap="round" fill="none"/>
<path d="M32.7 381.1h0M42.2 376.2h0M28.4 382.5h0M44.9 396.7h0M58.9 371.1h0M34.7 411.7h0M31.7 381.6h0M40.3 411.6h0M56.6 372.8h0M24.0 400.4h0M54.1 383.9h0M62.4 366.1h0M44.8 375.7h0M59.7 372.4h0M53.5 382.1h0M52.3 380.0h0M43.1 409.4h0M24.6 384.9h0M45.1 395.3h0M59.7 365.9h0M46.3 395.0h0M45.5 374.2h0M36.9 378.6h0M61.1 365.2h0M51.1 385.0h0M51.2 369.7h0M55.4 368.8h0M56.3 368.1h0M42.4 409.0h0M53.4 369.1h0M48.5 372.5h0M47.6 393.4h0M44.9 406.6h0M58.1 366.6h0M45.1 402.0h0M43.3 405.2h0M53.3 383.8h0M43.7 397.1h0M58.3 369.2h0M45.1 399.2h0M23.8 407.4h0M52.8 382.0h0M52.9 380.4h0M40.7 411.5h0M42.5 400.9h0M26.5 384.3h0M52.8 385.8h0M41.2 406.3h0M47.9 390.8h0M48.5 399.8h0M53.9 381.5h0M28.2 382.6h0M54.1 369.7h0M32.1 381.5h0M60.1 375.5h0M32.2 382.7h0M42.1 406.3h0M53.5 382.1h0M25.3 384.9h0M51.9 380.4h0M61.6 371.5h0M46.2 401.4h0M35.7 379.3h0M41.8 411.3h0M39.7 376.4h0M41.8 376.8h0M53.0 369.9h0M36.3 380.3h0M51.2 391.2h0M53.0 387.8h0M42.9 399.9h0M41.6 401.8h0M45.5 399.2h0M38.9 378.1h0M43.2 409.5h0M24.1 405.2h0M40.4 409.8h0M38.4 411.7h0M45.6 375.1h0M56.3 377.2h0M53.1 368.5h0M36.2 380.6h0M36.5 380.2h0M40.3 406.7h0M51.6 382.4h0M24.4 382.6h0M54.0 378.5h0M41.5 410.4h0M51.8 371.0h0M56.4 380.6h0M57.2 372.5h0M56.9 372.3h0M51.9 385.1h0M47.5 400.6h0M55.4 367.6h0M55.6 378.2h0" stroke="#7a6e76" stroke-width="1.2" stroke-linecap="round" fill="none"/>
<path d="M43.8 379.9h0M49.7 383.7h0M41.1 380.4h0M44.4 380.1h0M51.8 367.9h0M51.7 387.3h0M53.9 368.2h0M50.0 392.7h0M48.3 374.1h0M59.3 371.0h0M59.4 376.2h0M52.7 374.7h0M52.2 376.2h0M42.0 377.0h0M46.2 386.1h0M44.4 374.8h0M57.4 389.6h0M51.6 384.3h0M57.6 381.6h0M45.2 373.3h0M54.7 385.8h0M48.4 382.2h0M61.7 365.3h0M62.5 371.3h0M42.3 372.7h0M48.3 373.4h0M46.9 391.7h0M58.0 373.6h0M54.9 368.2h0M48.9 379.6h0M52.4 370.9h0M61.9 384.3h0M51.5 387.4h0M46.2 379.6h0M53.1 396.0h0" stroke="#b0a8b2" stroke-width="1.2" stroke-linecap="round" fill="none"/>
<path d="M101.1 397.5h0M91.4 378.8h0M97.2 349.6h0M103.7 392.5h0M102.7 355.7h0M102.6 323.5h0M100.9 401.7h0M101.4 332.8h0M74.6 352.5h0" stroke="#c4bcc4" stroke-width="1.2" stroke-linecap="round" fill="none"/>
<path d="M36.7,364.4 36.7,352.5 34.3,350.1 29.0,348.4 25.5,349.5 25.5,348.1 23.8,348.6 23.8,372.6 25.5,372.1 25.5,370.7 31.4,368.8Z" fill="#f03c30" fill-rule="evenodd" fill-opacity="1.00"/>
<path d="M34.3 352.2h0M28.9 366.3h0M34.9 361.9h0M37.1 360.3h0M37.7 356.8h0M30.9 370.8h0M30.2 349.8h0M27.5 364.5h0M26.5 357.5h0M35.3 348.2h0M24.8 358.1h0M24.7 370.7h0M37.2 369.2h0M29.3 354.4h0M28.9 364.1h0M30.6 351.3h0M25.8 366.9h0M37.5 355.7h0M36.2 357.6h0M36.8 360.8h0M29.1 361.2h0M25.0 362.8h0M26.6 351.6h0M35.5 367.5h0M25.1 371.0h0M24.2 350.0h0M25.5 358.6h0M31.2 367.0h0M28.6 358.0h0M34.2 358.4h0M26.0 356.9h0M35.2 350.5h0M33.4 365.5h0M31.8 361.6h0M27.0 353.7h0M30.4 369.1h0M34.8 364.6h0M27.5 369.8h0M30.5 346.7h0M28.8 346.3h0M32.5 358.9h0M30.8 367.2h0M35.1 363.5h0M30.4 345.3h0M34.0 357.7h0M27.6 357.2h0M23.9 346.2h0M28.2 357.2h0M24.4 362.8h0M30.5 350.0h0M25.3 364.2h0M33.9 359.9h0M28.2 360.5h0M24.0 369.6h0M26.1 361.5h0M28.9 348.8h0M33.2 348.9h0M25.7 372.4h0M24.6 350.2h0M28.9 362.3h0M33.7 355.9h0M37.5 358.5h0M31.9 365.4h0M26.0 363.5h0M33.7 360.5h0M26.2 370.2h0M39.6 356.7h0M37.2 360.6h0M29.1 358.1h0M33.1 363.0h0M30.5 353.0h0M38.3 362.1h0M27.4 356.5h0M27.2 346.9h0M28.3 352.8h0M30.0 367.8h0M39.5 352.9h0M27.4 361.4h0M40.5 365.8h0M24.4 351.6h0M30.3 359.8h0M30.2 349.5h0M39.1 355.2h0M37.9 355.5h0M30.8 364.4h0M24.8 369.9h0M25.6 347.6h0M40.1 362.4h0M24.2 370.7h0M35.9 359.7h0M27.5 364.0h0M34.9 365.7h0M33.3 352.8h0M32.0 363.1h0M35.4 366.6h0M24.3 367.9h0M27.8 353.8h0M34.3 352.4h0M24.9 364.9h0M28.6 359.6h0M32.0 358.4h0M36.5 353.0h0M37.6 353.8h0M29.7 363.1h0M36.9 362.6h0M36.9 355.6h0M30.7 354.7h0M27.1 360.6h0M34.9 357.9h0M36.9 354.7h0M33.2 364.5h0M30.5 361.2h0M31.7 362.6h0M32.4 359.3h0M28.8 366.2h0M35.8 348.4h0M33.5 353.4h0M25.6 372.6h0M34.6 353.8h0M30.7 357.0h0M35.1 364.4h0M25.9 362.7h0M28.9 357.1h0M32.0 366.3h0M30.9 353.5h0M33.3 368.8h0M30.0 360.4h0M34.4 351.6h0M25.8 368.7h0M31.9 366.8h0M34.6 351.8h0M37.3 368.3h0M29.0 368.4h0M28.8 369.0h0M35.0 359.9h0M29.6 372.7h0M25.5 368.0h0M24.4 363.0h0M31.2 356.8h0M28.6 356.3h0M24.2 361.5h0M29.2 357.2h0M38.5 351.6h0M33.1 371.0h0M27.1 367.5h0M29.7 353.7h0M32.4 367.9h0M30.9 363.5h0M30.9 361.1h0M27.1 351.2h0M31.4 371.6h0M31.4 348.2h0M28.9 364.6h0M25.0 371.3h0M27.8 346.1h0M27.4 350.1h0M28.7 362.8h0M27.8 353.5h0M27.5 363.4h0M35.4 358.1h0M29.3 361.1h0M34.5 367.9h0M33.7 367.2h0M34.7 363.6h0M31.0 355.6h0M24.3 354.2h0M26.2 355.0h0M32.7 356.6h0M30.3 346.8h0M33.4 359.2h0M37.2 361.7h0M32.6 368.7h0M29.6 356.3h0M27.2 360.1h0M28.9 367.4h0M32.7 356.5h0M36.8 358.5h0M23.9 353.7h0M29.7 353.0h0M34.8 358.3h0M39.3 364.1h0M33.8 360.6h0M28.8 362.8h0M27.0 372.2h0M32.4 367.8h0M30.9 352.1h0M28.8 372.1h0M24.9 351.4h0M33.9 363.5h0M26.5 349.4h0M33.8 350.2h0" stroke="#f03c30" stroke-width="1.5" stroke-linecap="round" fill="none"/>
<path d="M28.9 360.3h0M27.3 367.2h0M37.8 351.7h0M30.7 360.6h0M28.6 356.1h0M32.4 369.2h0M27.6 371.4h0M29.2 360.6h0M28.2 348.6h0M25.6 352.4h0M27.5 363.2h0M37.3 367.1h0M26.0 350.7h0M28.3 360.2h0M27.7 356.5h0M33.0 348.5h0M27.1 370.8h0M28.7 358.1h0M30.6 356.9h0M25.7 360.5h0M33.0 348.2h0M28.7 350.8h0M28.4 366.4h0M26.3 367.5h0M37.3 361.0h0M26.6 369.7h0M36.6 358.0h0M29.5 357.4h0M33.8 371.0h0M25.1 368.8h0M25.2 361.1h0M32.5 371.9h0M28.9 364.8h0M35.2 362.5h0M30.1 363.3h0M33.8 353.3h0M33.3 355.5h0M31.0 365.1h0M30.0 371.1h0M35.7 361.4h0M37.9 361.8h0M25.8 359.7h0M31.6 366.3h0M34.6 367.9h0M30.4 358.3h0M27.9 344.9h0M36.0 353.6h0M28.7 347.3h0M37.5 350.4h0M30.3 347.1h0M27.8 348.5h0M33.1 356.2h0M27.5 363.4h0M30.1 367.6h0M29.1 355.1h0M31.5 359.1h0M26.3 350.3h0M38.3 357.5h0M33.9 361.5h0M34.7 355.9h0M26.6 357.0h0M28.4 357.7h0M24.0 347.6h0M29.2 362.0h0M30.0 356.2h0M31.3 351.9h0M27.8 371.3h0M36.6 356.5h0M28.0 353.6h0M27.0 353.9h0M27.0 357.1h0M32.7 364.4h0M27.1 367.9h0M29.0 352.8h0M27.4 365.5h0M38.2 353.5h0M26.3 370.0h0M26.1 357.5h0M30.4 363.8h0M29.0 355.5h0" stroke="#dc3a30" stroke-width="1.4" stroke-linecap="round" fill="none"/>
<path d="M35.2 355.5h0M34.8 357.5h0M28.4 351.5h0M36.0 358.2h0M38.2 354.4h0M27.0 352.4h0M24.6 365.7h0M37.4 352.7h0M26.5 363.6h0M27.2 352.1h0M27.3 352.7h0M38.0 352.3h0M28.4 370.9h0M32.5 366.6h0M36.0 363.5h0M27.4 362.0h0M27.5 354.3h0M28.8 347.0h0M24.1 350.5h0M26.6 366.6h0M30.6 362.5h0M26.0 348.0h0M26.6 360.3h0M32.8 353.9h0M40.5 362.7h0M32.8 356.3h0M24.1 367.6h0M29.6 362.2h0M25.8 359.7h0M27.6 366.8h0M27.2 357.6h0M31.4 356.6h0" stroke="#f2897f" stroke-width="1.4" stroke-linecap="round" fill="none"/>
<path d="M28.8 364.7h0M27.2 363.1h0M35.1 361.6h0M32.3 356.1h0M33.7 359.1h0M25.7 364.6h0M35.4 364.7h0M27.1 351.6h0" stroke="#fff" stroke-opacity="0.7" stroke-width="1.2" stroke-linecap="round" fill="none"/>
<path d="M31.1 358.3h0M37.2 349.0h0M38.8 360.3h0M25.2 352.7h0M24.5 371.9h0M26.7 363.3h0M24.0 349.2h0M39.3 362.6h0M26.9 347.1h0M35.1 354.1h0M35.2 369.2h0M39.6 352.7h0M29.4 347.4h0M27.1 362.2h0M25.2 347.7h0M28.8 369.1h0M29.6 347.9h0M27.4 369.7h0M33.4 370.7h0M36.0 369.4h0M29.0 344.5h0M33.7 363.4h0M37.8 358.5h0M35.8 367.6h0M32.0 360.3h0M32.6 361.0h0M38.1 355.4h0M27.7 371.0h0M30.0 370.9h0M26.7 355.7h0" stroke="#dc3a30" stroke-width="1.4" stroke-linecap="round" fill="none"/>
<path d="M41.5,361.8 48.3,359.8 52.7,355.5 52.7,348.3 50.1,343.2 46.2,342.4 40.8,345.1 36.4,349.5 38.1,363.2Z" fill="#f03c30" fill-rule="evenodd" fill-opacity="0.60"/>
<path d="M50.2 350.7h0M36.2 348.0h0M45.0 362.6h0M51.9 347.9h0M49.2 357.7h0M48.0 351.5h0M42.5 350.6h0M44.0 339.5h0M50.3 349.6h0M41.6 356.9h0M53.5 348.8h0M49.1 354.4h0M40.2 349.4h0M39.3 354.3h0M51.8 353.7h0M44.1 345.3h0M49.8 361.2h0M44.4 360.9h0M41.7 350.1h0M53.0 341.4h0M33.5 349.6h0M42.9 351.7h0M34.8 355.5h0M41.8 361.5h0M39.6 363.2h0M48.2 353.7h0M35.6 355.5h0M49.1 343.3h0M48.6 343.8h0M44.5 355.5h0M36.6 360.1h0M51.7 351.8h0M42.2 352.5h0M39.4 344.5h0M44.7 344.3h0M49.2 351.5h0M40.5 348.6h0M42.3 349.9h0M38.1 356.4h0M44.3 348.2h0M47.3 352.1h0M48.6 344.0h0M42.8 351.4h0M45.5 350.6h0M53.1 353.2h0M36.3 348.8h0M49.2 343.4h0M45.6 339.7h0M42.3 358.1h0M44.6 358.2h0M53.6 353.9h0M44.2 347.0h0M40.5 356.5h0M42.9 349.2h0M33.9 355.4h0M39.0 362.6h0M50.8 348.3h0M49.9 346.8h0M33.6 347.3h0M41.2 346.6h0M43.8 359.6h0M44.3 363.3h0M43.1 359.9h0M45.6 346.3h0M37.4 362.2h0M46.0 342.3h0M44.4 347.1h0M40.5 347.8h0M42.1 348.4h0M47.6 356.4h0M37.9 345.4h0M46.3 347.2h0M51.2 341.6h0M50.9 353.0h0M42.7 343.5h0M40.4 348.2h0M47.7 338.7h0M46.6 351.6h0M43.9 344.5h0M45.4 355.3h0M43.8 345.6h0M49.9 351.0h0M43.7 359.8h0M45.8 360.6h0M41.0 357.1h0M38.3 355.8h0M42.4 356.9h0M41.5 353.9h0M37.9 353.5h0M37.0 354.6h0M36.1 357.6h0M47.6 343.5h0M51.5 348.8h0M51.2 349.8h0M44.0 358.5h0M46.7 354.6h0M48.2 358.0h0M47.4 350.5h0M38.7 353.2h0M37.1 366.2h0M41.4 358.5h0M41.6 358.7h0M42.1 354.5h0M42.8 348.4h0M46.3 347.6h0M51.9 354.1h0M39.0 361.8h0M40.8 361.9h0M38.0 358.6h0M41.2 357.5h0M53.9 341.7h0M35.6 356.6h0M44.5 360.8h0M42.2 360.1h0M44.2 347.9h0M39.6 361.6h0M36.5 358.2h0" stroke="#f03c30" stroke-width="1.5" stroke-linecap="round" fill="none"/>
<path d="M49.1 342.7h0M45.7 341.5h0M39.3 362.7h0M46.1 357.2h0M49.0 359.8h0M44.7 351.1h0M45.5 349.6h0M38.7 359.6h0M41.5 359.7h0M50.8 360.3h0M46.1 345.4h0M43.1 357.9h0M41.9 351.8h0M44.6 345.2h0M36.8 347.6h0M54.0 354.8h0M53.8 350.7h0M42.4 356.3h0M35.8 352.2h0M50.4 351.4h0M48.9 357.3h0M39.2 359.2h0M43.0 356.9h0M47.8 341.1h0M41.5 343.4h0M53.3 352.9h0M47.7 350.6h0M51.6 359.4h0M50.1 357.0h0M47.3 346.6h0M38.6 346.0h0M38.2 361.0h0M42.2 358.6h0M39.9 352.6h0M50.5 350.6h0M46.9 353.3h0M49.6 349.2h0M49.2 349.9h0M46.1 345.9h0M33.8 355.6h0M40.4 348.9h0M41.0 346.7h0M39.4 360.9h0M35.6 357.9h0M45.1 361.2h0M54.1 352.2h0M52.1 357.5h0M37.8 346.9h0M50.0 349.6h0M46.2 345.7h0M44.4 354.9h0M44.0 353.0h0M56.3 349.1h0" stroke="#dc3a30" stroke-width="1.4" stroke-linecap="round" fill="none"/>
<path d="M35.4 345.1h0M48.1 345.6h0M45.2 354.3h0M51.4 344.3h0M49.6 348.8h0M44.2 346.4h0M38.0 365.9h0M41.9 361.5h0M45.6 348.3h0M44.7 350.0h0M40.6 344.2h0M56.3 348.0h0M34.5 352.0h0M38.0 359.4h0M51.8 347.4h0M54.4 347.1h0M41.3 359.5h0M48.0 361.3h0M49.3 353.9h0M45.7 343.5h0M40.6 351.4h0M47.5 354.3h0M42.9 343.8h0M50.9 349.0h0M35.5 350.2h0M35.9 356.8h0M55.9 352.7h0" stroke="#f2897f" stroke-width="1.4" stroke-linecap="round" fill="none"/>
<path d="M43.3 349.4h0M44.6 348.2h0M50.6 354.3h0M49.4 352.1h0M41.2 348.1h0" stroke="#fff" stroke-opacity="0.7" stroke-width="1.2" stroke-linecap="round" fill="none"/>
<path d="M37.3 347.5h0M43.4 355.6h0M44.9 364.0h0M37.4 353.7h0M56.5 352.5h0M40.7 341.0h0M49.7 356.0h0M56.1 354.4h0M40.2 360.7h0M39.0 341.8h0M45.7 346.3h0M38.4 364.1h0M45.2 353.3h0M37.1 349.3h0M33.1 352.8h0M39.9 358.1h0M55.4 353.6h0M38.9 342.7h0M34.6 358.1h0M37.9 346.6h0M38.3 359.3h0M40.0 359.4h0M47.5 362.6h0M54.3 345.9h0M41.1 359.3h0M35.4 352.7h0M55.1 357.7h0M48.6 349.4h0M47.5 343.3h0M37.2 354.7h0" stroke="#dc3a30" stroke-width="1.4" stroke-linecap="round" fill="none"/>
<path d="M29.0 366.6h0M30.6 372.0h0M42.0 369.0h0M37.9 374.0h0M37.4 365.3h0M35.4 371.9h0M34.1 370.7h0M33.3 366.3h0M30.1 377.0h0M27.2 366.6h0M34.9 376.3h0M26.1 371.5h0M29.2 368.2h0M36.1 373.8h0M36.7 369.1h0M36.9 365.9h0M43.2 367.5h0M32.7 364.6h0M27.8 371.5h0M27.8 367.1h0M38.0 365.6h0M41.9 365.6h0M30.5 372.3h0M25.0 377.3h0M35.4 377.7h0M38.1 373.0h0M25.2 372.9h0M32.4 368.6h0M28.6 377.5h0" stroke="#e2433a" stroke-width="1.3" stroke-linecap="round" fill="none"/>
<path d="M38.3 367.5h0M29.5 365.8h0M32.7 376.9h0M37.7 372.5h0M34.9 373.6h0M32.6 375.8h0M29.7 366.2h0M28.2 373.6h0M32.6 378.3h0M25.4 373.7h0M28.6 375.9h0M29.4 365.8h0M24.1 379.1h0M37.5 368.1h0M34.4 369.5h0M36.1 373.1h0M33.3 366.6h0M41.4 367.7h0M27.9 369.2h0M23.9 376.1h0" stroke="#ef8c84" stroke-width="1.3" stroke-linecap="round" fill="none"/>
<path d="M53.1 353.9h0M50.0 340.7h0M58.0 353.2h0M52.1 341.0h0M56.4 347.6h0M61.5 356.8h0M59.2 346.0h0M54.3 362.8h0M52.7 350.9h0M52.4 350.0h0M50.1 346.2h0M47.0 339.9h0M57.5 355.4h0M48.6 339.2h0M57.0 350.9h0M49.4 348.2h0M59.7 358.3h0M47.7 345.0h0M50.3 349.5h0M60.6 351.0h0M53.2 341.5h0" stroke="#e2433a" stroke-width="1.3" stroke-linecap="round" fill="none"/>
<path d="M53.7 348.7h0M51.2 352.6h0M60.4 352.5h0M59.7 356.7h0M53.9 364.3h0M58.4 360.8h0M47.6 341.4h0M59.4 359.3h0M52.9 346.6h0M57.1 357.8h0M53.0 364.7h0M56.7 354.4h0M48.9 343.0h0M58.2 352.4h0" stroke="#ef8c84" stroke-width="1.3" stroke-linecap="round" fill="none"/>
<path d="M45.9 343.2h0M38.9 346.3h0M35.7 346.1h0M44.2 338.9h0M52.2 340.8h0M40.4 343.0h0M31.4 341.1h0M36.4 339.2h0M36.1 344.1h0" stroke="#e2433a" stroke-width="1.3" stroke-linecap="round" fill="none"/>
<path d="M32.6 342.7h0M35.0 340.4h0M27.8 346.6h0M37.3 345.8h0M29.5 346.3h0M35.2 346.7h0M45.2 338.1h0" stroke="#ef8c84" stroke-width="1.3" stroke-linecap="round" fill="none"/>
<path d="M163.4,404.4 166.2,393.6 170.3,385.6 175.8,377.4 183.1,368.5 175.2,373.2 167.2,378.4 157.9,382.5 149.3,385.4 149.3,383.1 146.7,384.0 146.7,410.9 165.2,410.9 165.4,408.3 163.2,408.3Z" fill="#a3928c" fill-rule="evenodd"/>
<path d="M163.6 404.9h0M168.0 398.4h0M171.8 389.8h0M186.3 367.5h0M183.2 368.6h0M169.7 391.9h0M185.0 366.5h0M168.9 377.2h0M170.5 394.7h0M175.5 378.2h0M147.4 384.2h0M184.2 368.6h0M174.4 372.7h0M177.3 368.9h0M175.0 380.8h0M187.2 370.0h0M180.9 372.2h0M168.2 400.8h0M183.3 373.3h0M182.1 376.1h0M181.5 370.9h0M170.4 388.4h0M171.0 374.9h0M147.7 410.8h0M166.2 377.1h0M180.0 375.3h0M166.6 393.6h0M155.3 382.7h0M170.8 387.4h0M158.7 379.4h0M180.5 378.6h0M187.9 367.7h0M150.5 384.9h0M164.4 378.2h0M178.5 377.4h0M169.7 375.4h0M158.2 381.5h0M146.8 384.2h0M174.9 371.5h0M164.0 409.7h0M179.5 381.5h0M176.1 380.4h0M155.8 410.6h0M166.0 395.0h0M173.0 387.0h0M165.0 409.4h0M163.9 403.5h0M175.9 371.0h0M169.6 393.7h0M176.2 383.0h0M164.5 378.4h0M176.5 381.0h0M164.5 409.1h0M184.8 375.1h0M177.6 380.0h0M167.0 403.0h0M188.8 370.0h0M174.6 382.7h0M172.0 373.2h0M163.8 407.4h0M176.2 387.4h0M175.1 379.9h0M149.5 384.7h0M184.0 372.8h0M179.4 375.1h0M182.5 368.6h0M172.5 385.7h0M169.3 392.5h0M180.6 372.7h0M173.9 391.0h0M164.7 377.8h0M164.9 378.7h0M153.8 382.4h0M146.8 392.8h0M184.8 366.2h0M171.2 392.3h0M176.2 380.4h0M166.5 376.8h0M180.9 372.9h0M180.3 377.6h0M148.1 384.1h0M146.9 397.7h0M164.1 408.5h0M171.4 384.4h0M189.7 364.8h0M174.8 389.6h0M184.4 372.7h0M175.5 385.8h0M174.9 379.5h0M146.8 410.4h0M172.4 382.5h0M165.5 399.0h0M169.3 374.4h0M175.4 385.5h0M176.2 379.8h0M168.3 399.2h0M151.6 383.5h0M168.5 394.5h0M165.9 406.9h0M164.6 410.3h0M163.7 408.3h0M175.7 384.2h0M176.1 371.5h0M157.7 382.3h0M176.2 377.5h0M166.8 377.7h0M181.4 367.6h0M175.4 372.7h0M179.4 367.9h0M179.2 369.0h0M168.6 394.9h0M185.2 368.1h0M171.0 386.8h0M151.0 384.1h0M171.5 371.9h0M149.8 384.5h0M166.4 376.4h0M174.3 381.4h0M178.4 368.7h0M173.2 372.4h0M167.9 398.7h0M187.0 364.9h0M182.9 373.1h0M170.9 385.3h0M175.7 372.8h0M178.5 383.7h0M146.9 408.9h0M185.6 366.2h0M165.1 403.0h0M169.9 392.1h0M169.2 388.4h0M156.1 380.6h0M163.4 410.8h0M184.1 368.5h0M157.9 382.1h0M157.7 381.2h0M185.8 370.6h0M167.1 403.9h0M159.9 379.3h0M177.8 375.7h0M164.0 403.2h0M164.2 402.6h0M147.7 383.8h0M163.9 407.3h0M153.3 381.7h0M186.0 366.5h0M162.5 380.1h0M176.7 383.9h0M166.4 393.7h0M156.6 380.4h0M173.5 374.0h0M172.0 386.3h0M146.8 398.6h0M182.7 368.0h0M159.6 380.0h0M179.5 370.1h0M174.0 381.8h0M169.6 387.8h0M184.4 367.8h0M171.7 373.3h0M171.0 374.5h0M165.1 398.9h0M164.3 409.2h0M170.3 388.3h0M181.6 371.1h0M167.1 404.5h0M176.2 371.4h0M160.3 380.5h0M172.8 382.2h0M178.6 369.0h0M159.1 410.6h0M166.0 378.5h0M152.4 381.0h0M174.9 378.8h0M147.0 389.1h0M151.3 382.9h0M176.1 377.9h0M163.3 409.6h0M175.5 377.8h0M163.2 380.0h0M166.8 404.1h0M151.3 410.6h0M185.2 365.8h0M174.3 371.0h0M169.1 377.0h0M168.8 393.1h0M177.9 369.7h0M168.8 408.9h0M187.4 365.2h0M166.4 403.9h0M162.6 380.2h0M181.6 370.3h0M166.2 409.0h0M168.3 394.9h0M162.6 410.5h0M166.1 376.5h0M170.2 373.8h0M175.8 371.4h0M165.1 404.7h0M186.6 368.8h0M174.0 381.7h0M178.1 370.8h0M163.2 408.9h0M168.2 397.0h0M174.9 383.7h0M150.8 382.5h0M153.1 410.8h0M176.1 381.6h0M169.0 376.2h0M182.7 375.5h0M168.5 395.5h0M175.1 379.4h0M176.5 380.5h0M158.6 410.8h0M165.8 405.1h0M181.6 373.5h0M156.3 410.6h0M184.5 365.6h0M170.5 399.4h0M186.6 371.5h0M186.2 367.8h0M178.5 383.7h0M177.9 378.1h0M154.8 382.1h0M162.9 378.5h0M181.7 367.7h0M163.9 404.8h0M162.1 379.8h0M176.4 369.9h0M169.5 390.1h0M153.2 383.8h0M170.7 388.2h0M146.9 392.6h0M167.0 404.0h0M172.7 390.1h0M169.6 399.9h0M185.7 370.6h0M164.4 405.8h0" stroke="#a3928c" stroke-width="1.4" stroke-linecap="round" fill="none"/>
<path d="M169.7 376.6h0M175.0 382.3h0M164.2 410.5h0M174.6 379.5h0M190.1 369.3h0M164.2 404.3h0M175.0 381.1h0M182.3 379.3h0M157.2 382.4h0M169.7 389.0h0M176.3 377.4h0M150.0 384.1h0M186.2 370.4h0M174.3 389.1h0M173.6 382.9h0M177.1 385.3h0M149.6 382.5h0M148.0 384.2h0M181.6 371.2h0M164.8 408.4h0M181.5 374.3h0M148.8 385.5h0M162.0 380.0h0M170.8 390.8h0M172.8 387.1h0M163.6 410.2h0M169.1 398.3h0M176.1 384.3h0M166.0 396.9h0M146.8 409.4h0M177.6 369.4h0M185.1 365.2h0M163.6 407.5h0M165.1 402.3h0M186.6 369.7h0M168.6 392.2h0M148.3 383.7h0M179.5 383.4h0M162.7 378.9h0M147.0 400.5h0M167.5 402.7h0M170.3 374.2h0M173.8 382.1h0M178.1 378.9h0M181.9 375.3h0M181.6 367.6h0M177.9 369.2h0M167.8 407.9h0M183.5 367.9h0M156.6 381.7h0M181.4 372.8h0M166.5 378.3h0M165.2 398.7h0M179.8 370.1h0M167.4 376.9h0M169.7 401.9h0M169.3 388.3h0M184.7 373.9h0M158.7 381.9h0M175.2 382.4h0M175.8 369.4h0M172.8 374.6h0M180.5 371.7h0M164.8 407.7h0M171.5 392.8h0M154.8 383.0h0M176.1 380.3h0M170.4 388.8h0M187.3 368.6h0M176.3 378.6h0M168.8 375.5h0M150.2 384.8h0M181.2 367.7h0M172.4 374.7h0M178.5 382.1h0M187.0 366.6h0M164.7 403.7h0M186.8 369.3h0M163.6 378.7h0M165.1 410.6h0M146.9 407.9h0M170.2 389.7h0M173.5 381.8h0M185.6 368.9h0M161.2 380.1h0M146.8 402.5h0M168.5 396.9h0M167.2 392.8h0M147.1 403.7h0M183.0 368.0h0M173.1 373.4h0M176.1 378.1h0M182.2 377.2h0M163.4 379.5h0M179.4 368.1h0M181.0 376.7h0M163.5 410.2h0M188.2 366.3h0M168.9 406.6h0M170.3 385.8h0M154.4 383.3h0M177.7 371.5h0M180.4 376.4h0" stroke="#7a6e76" stroke-width="1.2" stroke-linecap="round" fill="none"/>
<path d="M175.7 364.4h0M178.8 363.8h0M165.4 369.8h0M162.5 372.0h0M174.2 360.3h0M180.3 356.7h0M173.3 372.3h0M183.6 356.4h0M165.5 367.1h0M157.8 370.0h0M181.6 357.2h0M184.2 361.3h0M165.2 365.4h0M175.6 366.2h0M170.4 372.0h0M166.4 370.2h0M177.2 366.4h0M168.6 361.6h0M168.3 362.9h0M162.4 368.6h0M176.5 359.6h0M179.8 363.7h0M172.8 368.2h0M183.9 362.2h0M162.9 369.9h0M184.7 364.9h0M173.0 359.5h0M163.6 370.5h0M189.3 359.1h0M168.1 369.8h0M175.9 358.5h0M178.3 363.5h0M178.2 359.4h0M172.2 366.7h0M175.6 365.5h0M169.4 361.3h0M168.7 370.7h0M172.8 359.2h0M181.5 364.4h0M163.6 366.5h0M168.1 365.1h0M170.5 360.6h0M169.8 371.0h0M180.5 368.5h0M187.8 357.4h0M172.9 373.0h0M180.4 364.0h0M178.6 364.2h0M166.5 367.1h0M173.6 370.3h0M168.9 365.9h0M170.3 365.9h0M178.5 363.0h0M177.6 361.3h0M186.3 358.0h0M172.8 368.4h0" stroke="#b0a8b2" stroke-width="1.2" stroke-linecap="round" fill="none"/>
<path d="M224.9 333.4h0M222.2 329.2h0M194.1 335.7h0M223.0 402.0h0M216.7 333.3h0M207.6 396.2h0M198.9 354.4h0" stroke="#c4bcc4" stroke-width="1.2" stroke-linecap="round" fill="none"/>
<path d="M152.2,374.9 151.9,367.0 150.0,366.4 148.4,366.9 148.4,365.5 146.7,366.1 146.7,384.3 148.4,384.1 148.4,382.8 150.9,382.4Z" fill="#f03c30" fill-rule="evenodd" fill-opacity="1.00"/>
<path d="M147.4 364.5h0M151.1 371.6h0M146.9 366.3h0M146.8 369.3h0M152.3 379.7h0M147.7 381.8h0M151.7 373.4h0M149.3 369.4h0M148.6 377.0h0M149.6 378.8h0M151.9 371.6h0M148.6 365.1h0M147.8 367.9h0M149.5 365.1h0M151.1 369.0h0M149.4 367.7h0M148.7 381.2h0M147.7 372.4h0M150.2 373.0h0M147.5 367.5h0M155.1 373.7h0M151.2 379.7h0M150.0 374.4h0M154.6 364.2h0M151.1 373.6h0M146.8 375.8h0M147.9 370.8h0M146.8 384.4h0M149.7 373.3h0M148.2 377.9h0M147.2 369.8h0M149.9 383.5h0M147.1 376.1h0M150.0 371.6h0M148.8 375.8h0M154.0 378.6h0M150.0 385.4h0M147.7 364.4h0M148.5 365.4h0M151.8 366.8h0M149.4 383.1h0M149.8 366.0h0M148.6 381.7h0M151.7 380.3h0M149.4 371.1h0M149.6 368.3h0M154.1 374.5h0M151.4 376.6h0M153.5 366.6h0M152.1 366.8h0M151.2 379.7h0M150.5 367.3h0M148.2 377.3h0M151.2 365.9h0M150.6 370.1h0M151.6 367.1h0M148.7 369.3h0M149.2 366.2h0M147.1 383.8h0M149.3 370.2h0M155.3 377.6h0M152.1 365.7h0M153.4 381.1h0M147.7 364.9h0M148.6 383.7h0M147.5 371.5h0M151.3 372.1h0M151.2 369.6h0M153.4 375.8h0" stroke="#f03c30" stroke-width="1.5" stroke-linecap="round" fill="none"/>
<path d="M153.2 364.3h0M150.8 371.2h0M152.6 367.4h0M152.3 378.6h0M153.0 364.9h0M152.8 365.5h0M152.8 377.8h0M149.3 366.7h0M147.7 370.5h0M154.6 374.6h0M146.8 370.5h0M153.4 377.5h0M149.9 371.6h0M151.7 379.4h0M153.1 371.0h0M151.0 368.9h0M149.2 383.6h0M152.5 382.6h0M146.8 376.7h0M152.1 368.4h0M149.4 381.4h0M147.6 373.2h0M150.5 376.8h0M154.2 374.6h0M151.0 377.4h0" stroke="#dc3a30" stroke-width="1.4" stroke-linecap="round" fill="none"/>
<path d="M149.4 375.3h0M150.1 376.7h0M152.3 373.2h0M147.2 370.3h0M151.3 366.3h0M153.0 373.3h0M148.8 373.4h0M149.1 383.6h0M151.5 379.7h0M147.5 367.7h0M155.6 372.9h0M149.0 369.8h0M152.0 371.4h0M150.3 375.8h0M148.2 367.6h0M146.9 363.6h0M151.4 383.0h0M152.3 364.8h0" stroke="#f2897f" stroke-width="1.4" stroke-linecap="round" fill="none"/>
<path d="M151.7 370.4h0M151.6 374.1h0" stroke="#fff" stroke-opacity="0.7" stroke-width="1.2" stroke-linecap="round" fill="none"/>
<path d="M150.6 386.1h0M149.1 370.5h0M147.8 384.4h0M150.5 369.4h0M155.5 369.6h0M154.2 381.0h0M149.8 366.8h0M151.1 365.9h0M149.2 384.0h0M149.3 381.2h0M153.0 377.5h0M155.7 366.6h0M149.2 375.9h0M150.2 378.2h0M155.7 376.2h0M147.3 365.1h0M148.1 386.0h0M151.8 363.1h0M151.3 372.3h0M147.0 370.4h0" stroke="#dc3a30" stroke-width="1.4" stroke-linecap="round" fill="none"/>
<path d="M158.9 364.2h0M159.7 364.8h0M150.6 367.0h0M156.9 362.9h0M152.2 367.4h0M159.6 368.4h0M151.4 360.8h0M160.3 366.4h0M150.0 361.8h0M151.8 362.9h0M153.1 360.8h0M152.3 369.9h0M152.7 378.3h0M152.4 363.9h0M156.6 375.9h0M150.8 372.4h0M157.5 364.1h0M153.4 368.9h0M158.1 372.2h0M156.4 374.6h0M157.4 369.0h0M153.1 377.0h0M150.6 362.2h0M156.4 369.1h0M157.5 368.3h0" stroke="#e2433a" stroke-width="1.3" stroke-linecap="round" fill="none"/>
<path d="M155.3 378.9h0M153.3 374.5h0M155.7 375.3h0M161.1 367.1h0M151.3 367.9h0M158.8 367.8h0M158.0 375.5h0M159.8 364.1h0M155.9 372.8h0M157.1 373.1h0M156.9 360.5h0M157.2 364.1h0M154.6 376.2h0M159.8 362.3h0M156.6 368.1h0M154.3 376.5h0M159.0 368.1h0" stroke="#ef8c84" stroke-width="1.3" stroke-linecap="round" fill="none"/>
<path d="M154.6 366.2h0M164.6 356.6h0M157.5 355.8h0M156.8 362.0h0M167.8 362.2h0M148.6 360.1h0M161.7 353.8h0M166.3 364.2h0M171.6 354.5h0M156.0 368.0h0M157.6 359.9h0M165.5 362.7h0M159.3 356.7h0M153.4 362.3h0M155.9 360.0h0M160.8 364.4h0M162.3 363.5h0M173.8 357.0h0M163.2 355.3h0M157.8 355.2h0M150.0 358.1h0M159.7 365.0h0M162.6 363.0h0M166.7 359.0h0M163.3 359.5h0" stroke="#e2433a" stroke-width="1.3" stroke-linecap="round" fill="none"/>
<path d="M168.2 358.9h0M166.3 362.4h0M149.4 358.9h0M156.6 364.5h0M163.4 354.1h0M150.2 361.6h0M151.2 356.1h0M172.5 356.3h0M151.8 359.5h0M161.3 368.6h0M171.9 359.5h0M167.5 357.3h0M158.1 355.8h0M160.6 356.9h0M148.1 356.6h0M158.3 369.0h0M153.2 355.5h0" stroke="#ef8c84" stroke-width="1.3" stroke-linecap="round" fill="none"/>
<path d="M166.2,409.2 164.9,409.2 164.7,410.9 176.0,410.9 176.0,409.2 174.7,409.2 174.7,402.1 173.7,394.4 171.6,390.2 169.2,392.6 167.3,402.2Z" fill="#f03c30" fill-rule="evenodd" fill-opacity="0.60"/>
<path d="M173.9 391.0h0M169.9 400.7h0M168.4 410.5h0M173.2 401.5h0M171.4 401.1h0M165.3 408.3h0M169.6 389.2h0M167.4 398.3h0M175.0 397.1h0M176.4 395.1h0M175.5 410.7h0M164.8 399.4h0M171.4 409.5h0M177.5 406.0h0M167.3 396.3h0M168.7 401.0h0M169.9 394.2h0M164.9 407.4h0M169.3 406.2h0M162.6 410.7h0M173.7 392.3h0M176.7 399.9h0M166.6 392.7h0M173.8 400.2h0M173.3 398.9h0M173.4 397.1h0M167.3 395.8h0M175.1 396.2h0M175.4 406.1h0M177.6 394.6h0M169.8 389.8h0M166.1 398.8h0M165.7 391.8h0M178.4 405.3h0M176.7 408.1h0M174.1 394.9h0M170.8 392.1h0M172.0 391.0h0M174.4 398.7h0M174.7 389.7h0M171.6 396.4h0M165.5 396.8h0M173.4 410.0h0M171.9 408.3h0M169.8 408.6h0M169.2 403.8h0M174.0 404.0h0M171.8 408.3h0M174.3 392.8h0M173.8 396.1h0M173.4 394.9h0M175.2 410.8h0M173.8 398.3h0M168.5 408.6h0M170.3 397.2h0M169.2 398.1h0M173.7 398.7h0M166.1 397.7h0M171.9 391.7h0" stroke="#f03c30" stroke-width="1.5" stroke-linecap="round" fill="none"/>
<path d="M167.6 403.2h0M171.9 389.3h0M166.1 408.2h0M170.0 399.5h0M174.9 407.9h0M174.9 394.6h0M170.6 396.8h0M167.5 408.9h0M169.5 405.0h0M169.1 406.0h0M172.2 385.8h0M170.4 396.9h0M175.0 400.0h0M170.6 402.3h0M174.6 401.1h0M169.3 403.8h0M173.5 393.7h0M165.7 396.4h0M173.6 405.8h0M165.1 407.3h0M164.8 410.5h0M168.2 400.9h0M170.6 392.7h0M176.4 400.8h0M176.2 398.5h0M175.6 404.8h0M167.7 403.0h0M172.1 406.3h0M175.3 391.5h0M163.9 410.3h0M170.3 400.4h0M166.6 404.9h0M172.1 394.8h0" stroke="#dc3a30" stroke-width="1.4" stroke-linecap="round" fill="none"/>
<path d="M173.0 396.1h0M169.3 396.0h0M170.1 394.1h0M177.3 398.4h0M168.6 397.2h0M164.8 408.0h0M169.6 402.2h0M175.7 400.0h0M167.5 390.3h0M168.2 406.2h0M172.2 402.1h0M172.8 391.1h0M176.9 394.8h0M172.5 390.5h0M168.4 409.3h0" stroke="#f2897f" stroke-width="1.4" stroke-linecap="round" fill="none"/>
<path d="M172.7 408.7h0M170.1 408.5h0" stroke="#fff" stroke-opacity="0.7" stroke-width="1.2" stroke-linecap="round" fill="none"/>
<path d="M174.2 409.8h0M172.9 387.2h0M170.5 404.3h0M168.0 389.4h0M171.0 398.9h0M175.8 406.7h0M166.8 406.3h0M169.0 407.5h0M167.8 401.5h0M175.1 392.0h0M164.2 409.9h0M166.7 400.3h0M170.6 392.8h0M170.5 390.7h0M173.3 409.3h0M166.8 405.1h0M173.1 387.2h0M168.4 396.3h0M165.9 397.4h0M174.6 400.2h0M170.5 409.4h0M165.1 403.1h0M167.3 395.6h0M170.7 410.9h0M167.5 408.3h0M167.2 409.4h0M168.4 405.3h0M173.5 408.7h0M175.3 409.7h0M165.9 399.3h0" stroke="#dc3a30" stroke-width="1.4" stroke-linecap="round" fill="none"/>
<path d="M287.7,391.1 286.5,383.7 284.0,380.8 282.0,379.8 279.5,381.0 275.3,382.5 274.4,382.6 272.8,382.4 272.8,380.2 270.2,380.0 270.2,410.5 287.8,410.5 288.2,407.9 285.9,407.9 286.9,401.2Z" fill="#a3928c" fill-rule="evenodd"/>
<path d="M288.0 389.7h0M282.4 379.3h0M286.8 407.8h0M289.7 403.4h0M286.7 380.9h0M287.3 407.4h0M277.4 381.1h0M290.7 384.7h0M276.5 410.2h0M275.0 410.3h0M276.0 380.7h0M288.9 408.1h0M288.6 394.1h0M275.5 380.7h0M286.8 406.1h0M276.2 381.8h0M289.4 404.4h0M292.3 389.3h0M290.3 404.6h0M288.3 401.9h0M279.5 378.9h0M285.3 410.1h0M284.9 378.8h0M288.5 387.9h0M286.5 383.4h0M290.4 399.8h0M287.0 381.9h0M281.6 378.7h0M272.7 381.6h0M270.3 407.4h0M290.1 391.4h0M276.1 410.5h0M292.3 398.2h0M283.6 380.5h0M287.2 388.0h0M288.5 383.9h0M289.6 395.3h0M289.2 401.6h0M288.7 399.3h0M287.7 399.8h0M284.3 381.0h0M274.4 380.8h0M284.3 380.8h0M270.4 395.9h0M270.3 402.6h0M288.6 392.8h0M291.5 385.4h0M283.9 380.7h0M288.8 382.0h0M291.2 396.5h0M288.4 385.9h0M286.7 382.9h0M290.8 405.5h0M287.5 409.9h0M288.1 384.9h0M272.6 381.4h0M288.5 406.3h0M285.8 380.9h0M287.8 383.3h0M280.7 378.0h0M287.6 406.7h0M290.6 393.7h0M277.7 410.3h0M290.9 388.0h0M270.4 402.5h0M287.0 383.3h0M286.2 380.8h0M283.7 410.2h0M288.0 402.2h0M279.8 379.8h0M275.4 380.7h0M274.0 380.9h0M289.8 389.0h0M288.0 397.8h0M276.3 381.5h0M282.6 377.8h0M283.2 379.5h0M275.5 380.1h0M272.2 410.3h0M286.6 404.6h0M275.3 381.7h0M288.6 389.0h0M289.1 390.9h0M288.9 388.5h0M286.9 381.4h0M291.6 399.1h0M287.7 396.7h0M278.9 380.3h0M277.6 380.5h0M289.1 390.1h0M290.5 390.5h0M288.6 394.2h0M270.5 404.1h0M290.1 392.4h0M270.5 387.6h0M289.2 399.6h0M288.4 404.7h0M290.6 395.5h0M284.9 380.9h0M285.3 380.2h0M272.6 382.0h0M285.9 380.6h0M288.2 383.7h0M288.5 406.8h0M289.6 392.7h0M280.0 410.3h0M270.3 398.8h0M291.2 397.1h0M290.7 405.1h0M270.5 399.1h0M288.6 395.5h0M287.7 386.0h0M277.7 379.4h0M290.8 393.5h0M270.4 405.1h0M286.6 410.2h0M280.6 380.4h0M288.1 390.4h0" stroke="#a3928c" stroke-width="1.4" stroke-linecap="round" fill="none"/>
<path d="M270.5 390.2h0M290.0 391.8h0M272.5 380.3h0M289.4 392.5h0M289.3 398.1h0M287.8 406.2h0M287.1 399.6h0M287.8 382.2h0M271.3 380.5h0M289.9 394.0h0M288.0 383.0h0M274.3 382.3h0M287.7 408.8h0M291.4 400.1h0M286.9 402.9h0M289.4 392.3h0M284.8 378.3h0M289.0 398.8h0M284.5 380.7h0M290.3 395.0h0M280.3 380.2h0M270.5 409.6h0M284.3 380.4h0M288.8 407.4h0M288.4 390.8h0M288.7 408.8h0M287.6 388.6h0M270.5 382.0h0M290.5 389.1h0M288.6 388.1h0M290.5 387.3h0M270.3 400.6h0M279.8 379.7h0M286.2 407.8h0M270.5 399.2h0M283.6 378.3h0M286.4 405.6h0M287.5 409.5h0M288.7 409.6h0M292.1 408.1h0M280.6 377.9h0M291.5 383.0h0M289.4 384.9h0M277.1 381.2h0M271.1 381.3h0M289.9 409.0h0M283.4 380.4h0M283.0 410.4h0M288.6 383.2h0M274.5 410.3h0M289.0 400.5h0M289.7 382.1h0" stroke="#7a6e76" stroke-width="1.2" stroke-linecap="round" fill="none"/>
<path d="M294.1 379.2h0M302.1 368.2h0M299.6 372.9h0M286.5 382.3h0M283.0 380.8h0M281.0 380.7h0M289.7 379.4h0M286.0 376.1h0M286.5 380.3h0M286.4 382.6h0M286.3 371.2h0M297.1 376.4h0M294.2 373.2h0M290.0 375.7h0M277.2 377.3h0M291.1 387.5h0M289.1 374.7h0M300.1 365.0h0M285.9 378.9h0M287.8 384.8h0M285.0 379.3h0M286.0 372.3h0M294.4 369.3h0M287.8 371.5h0M293.8 381.2h0M284.5 376.0h0M284.5 376.6h0M285.9 383.6h0M294.8 370.9h0M287.1 375.4h0M284.0 377.7h0M301.0 368.6h0M287.9 376.0h0M288.0 388.1h0M284.9 376.2h0M291.4 371.5h0M298.6 371.0h0M295.0 367.4h0M301.5 366.6h0M296.5 368.8h0M282.0 375.1h0M293.3 372.0h0M287.1 387.4h0M276.8 377.8h0M289.7 372.4h0M300.7 373.0h0M282.1 378.6h0M284.1 375.6h0M291.0 371.6h0M294.1 369.9h0M287.8 372.4h0M285.3 382.8h0M287.6 377.5h0M291.6 379.9h0M298.4 366.9h0M300.0 370.7h0M290.5 370.5h0M296.6 377.7h0M293.2 377.2h0M288.6 387.0h0M282.9 378.9h0M288.1 371.9h0M287.7 378.4h0M293.7 374.4h0M280.4 380.7h0M290.6 388.3h0M296.0 375.0h0M286.1 375.1h0M282.9 380.4h0M294.0 375.6h0" stroke="#857880" stroke-width="1.2" stroke-linecap="round" fill="none"/>
<path d="M303.6 338.2h0M334.6 373.0h0M328.3 334.3h0M351.7 393.8h0M328.0 326.1h0M335.2 386.5h0M338.6 322.5h0M346.9 370.1h0" stroke="#c4bcc4" stroke-width="1.2" stroke-linecap="round" fill="none"/>
<path d="M309.9 403.1h0M287.4 405.0h0M316.8 405.4h0M297.0 401.8h0M292.0 407.6h0M307.4 403.0h0M286.1 407.3h0M316.9 399.6h0M300.3 401.3h0M299.7 402.1h0M310.1 405.8h0M299.8 404.7h0M316.4 405.4h0M315.0 404.3h0M300.9 401.0h0M311.6 407.9h0M299.3 405.2h0M304.2 409.7h0M317.3 406.4h0M303.4 405.2h0M300.1 407.1h0M312.0 403.0h0M298.5 400.0h0M314.1 405.5h0M312.6 405.5h0M298.1 407.4h0M295.7 402.6h0M309.2 406.0h0M307.7 408.3h0M302.1 406.0h0M298.9 409.3h0M286.8 401.6h0M302.0 401.5h0M287.8 406.5h0M301.4 404.1h0M309.5 406.1h0M296.5 400.1h0M312.9 400.9h0M318.2 404.0h0M297.8 409.2h0M319.3 400.7h0M305.1 402.8h0M304.2 409.9h0M299.6 406.1h0M299.0 409.9h0M291.7 409.8h0M306.0 403.6h0M304.4 407.9h0M303.1 408.0h0M317.6 404.7h0M293.6 407.4h0M296.4 404.1h0M304.3 404.7h0M293.8 407.0h0M310.4 404.5h0M290.2 404.4h0M291.3 400.1h0M286.8 403.6h0M298.1 406.9h0M310.9 409.7h0M301.4 408.4h0M288.8 408.8h0M295.5 408.6h0M289.9 401.2h0M320.0 402.2h0M289.5 402.3h0M306.0 410.0h0" stroke="#e2433a" stroke-width="1.3" stroke-linecap="round" fill="none"/>
<path d="M296.7 401.6h0M292.7 399.6h0M294.8 406.3h0M307.1 408.7h0M298.9 407.7h0M308.4 401.6h0M287.6 408.2h0M288.1 402.5h0M303.6 406.9h0M319.1 409.8h0M288.3 404.2h0M294.6 406.6h0M306.5 404.4h0M285.7 402.4h0M301.1 404.9h0M289.0 405.6h0M296.7 401.7h0M298.1 407.6h0M318.8 407.9h0M298.0 400.6h0M289.7 409.9h0M306.1 403.6h0M294.3 403.0h0M319.4 400.3h0M287.7 407.5h0M298.5 407.2h0M285.6 404.7h0M311.9 409.1h0M301.9 403.3h0M309.4 405.4h0M296.5 400.0h0M298.2 403.4h0M296.2 407.8h0M310.9 403.4h0M313.3 400.3h0M310.1 408.4h0M289.1 408.6h0M315.1 403.0h0M301.0 400.6h0M300.5 407.2h0M294.1 402.5h0M294.2 402.9h0M291.9 402.6h0M309.3 409.7h0M303.9 409.5h0" stroke="#ef8c84" stroke-width="1.3" stroke-linecap="round" fill="none"/>
<path d="M329.7 402.5h0M350.1 403.1h0M306.4 400.8h0M305.3 400.5h0M298.3 399.4h0M323.0 405.5h0M338.5 408.4h0M325.7 401.3h0M337.9 400.9h0M319.1 409.5h0M324.0 395.7h0M321.2 407.3h0M318.6 398.1h0M320.5 408.7h0M298.4 407.9h0M297.9 409.3h0M319.4 408.0h0M309.9 399.7h0M343.8 409.4h0M339.6 406.1h0M314.4 399.8h0M319.1 409.2h0M335.8 406.5h0M314.7 396.0h0M322.3 403.5h0M350.9 399.5h0M354.0 401.5h0M325.2 402.6h0M351.1 400.8h0M324.5 406.0h0M309.0 409.6h0M338.9 405.6h0M303.4 408.8h0M306.3 409.8h0M303.3 408.5h0M337.3 409.3h0M337.9 404.7h0M352.6 395.6h0M334.5 402.8h0M325.8 403.0h0M311.4 403.9h0M304.1 408.5h0M305.4 402.5h0M313.8 402.0h0M317.9 402.1h0M344.2 399.0h0M334.1 399.7h0M318.8 409.2h0M303.5 395.5h0M335.7 397.5h0M319.4 398.3h0M352.6 401.7h0M332.5 400.3h0M349.3 410.2h0M319.6 404.8h0M321.3 397.1h0M320.0 397.7h0M346.1 400.7h0" stroke="#e2433a" stroke-width="1.3" stroke-linecap="round" fill="none"/>
<path d="M333.1 407.3h0M335.3 399.6h0M325.3 404.7h0M329.6 399.2h0M354.3 397.1h0M300.3 398.4h0M325.5 405.6h0M328.9 401.2h0M318.8 399.8h0M348.0 399.9h0M329.7 404.6h0M325.1 405.6h0M342.3 404.6h0M342.2 405.1h0M349.1 402.4h0M343.0 406.4h0M299.6 401.7h0M319.2 401.7h0M346.0 404.4h0M321.0 396.0h0M304.3 408.5h0M298.2 409.9h0M340.5 401.8h0M349.9 409.3h0M330.8 400.5h0M348.8 405.0h0M320.7 406.6h0M348.9 402.3h0M334.5 403.8h0M328.8 405.8h0M320.7 397.0h0M336.5 406.3h0M328.4 406.6h0M338.6 403.8h0M320.4 401.0h0M329.6 403.5h0M324.6 402.6h0M298.0 404.7h0M352.7 400.4h0M315.0 397.1h0" stroke="#ef8c84" stroke-width="1.3" stroke-linecap="round" fill="none"/>
<path d="M313.4 394.2h0M317.7 393.8h0M289.6 397.7h0M338.3 391.3h0M337.5 390.7h0M353.4 397.4h0M290.6 391.8h0M301.0 393.1h0M327.7 392.6h0M339.7 389.2h0M321.8 391.5h0M317.3 393.8h0" stroke="#e2433a" stroke-width="1.3" stroke-linecap="round" fill="none"/>
<path d="M323.8 390.7h0M293.0 392.1h0M334.5 389.2h0M320.7 388.5h0M310.3 388.2h0M293.3 389.5h0M318.3 386.8h0M344.7 400.2h0M336.3 392.1h0" stroke="#ef8c84" stroke-width="1.3" stroke-linecap="round" fill="none"/>
<path d="M407.4,397.7 408.9,390.0 407.5,383.3 405.3,381.2 401.0,382.0 394.3,384.5 391.6,385.2 391.6,382.9 389.0,383.6 389.0,410.6 407.8,410.6 408.2,408.0 405.9,408.0Z" fill="#a3928c" fill-rule="evenodd"/>
<path d="M411.7 383.1h0M409.7 386.8h0M408.5 402.4h0M405.7 381.2h0M408.6 382.0h0M400.2 410.3h0M407.8 410.4h0M407.6 406.3h0M408.7 382.2h0M407.8 396.2h0M403.8 379.0h0M412.4 389.5h0M409.3 390.4h0M394.7 381.5h0M389.3 401.6h0M400.9 381.5h0M389.2 397.3h0M409.8 396.2h0M391.5 383.5h0M390.8 383.5h0M408.5 385.3h0M409.7 395.4h0M396.1 381.1h0M398.7 381.9h0M411.4 402.3h0M408.8 391.6h0M408.6 405.7h0M408.5 405.4h0M410.5 394.6h0M407.0 407.8h0M410.1 392.3h0M409.6 392.2h0M404.6 378.9h0M389.2 400.0h0M390.0 385.6h0M411.8 382.4h0M389.0 390.9h0M396.2 382.1h0M409.4 394.0h0M389.2 395.4h0M409.0 388.5h0M409.8 387.6h0M412.0 387.1h0M406.6 379.6h0M408.4 400.6h0M401.2 380.3h0M400.4 381.3h0M397.9 382.9h0M410.4 388.9h0M389.0 395.6h0M404.8 379.3h0M413.9 393.3h0M412.2 392.3h0M405.6 379.0h0M411.2 393.4h0M400.6 380.9h0M411.6 397.3h0M389.2 391.7h0M408.3 405.2h0M392.3 384.2h0M389.2 399.0h0M410.5 407.1h0M407.9 382.1h0M410.0 398.8h0M409.5 387.1h0M410.0 388.0h0M398.2 383.0h0M389.1 394.4h0M407.4 404.3h0M397.1 410.4h0M413.2 398.8h0M409.0 396.1h0M394.3 383.1h0M409.6 390.0h0M390.1 383.2h0M409.3 401.4h0M390.0 410.2h0M395.6 383.4h0M407.5 402.0h0M408.8 402.8h0M407.6 402.7h0M409.3 383.7h0M391.0 383.3h0M407.4 403.7h0M408.8 402.4h0M409.7 382.3h0M403.9 381.4h0M389.7 384.6h0M406.7 404.0h0M407.2 403.1h0M390.3 410.3h0M397.7 381.4h0M405.5 381.2h0M397.1 382.6h0M389.5 384.9h0M404.0 381.3h0M408.7 407.6h0M406.2 408.4h0M412.6 385.9h0M399.8 381.0h0M403.5 379.7h0M408.8 393.2h0M389.2 389.7h0M409.0 383.1h0M409.9 382.0h0M411.4 381.6h0M409.9 393.2h0M406.3 378.7h0M398.8 380.4h0M406.6 409.3h0M401.7 381.5h0M409.1 383.9h0M411.2 389.8h0M406.4 406.6h0M403.2 410.5h0M398.1 382.3h0M411.4 384.3h0M403.9 380.3h0M408.8 393.5h0M411.6 399.3h0M408.6 403.5h0M406.4 380.6h0M389.1 385.1h0M401.8 380.2h0M411.0 393.8h0" stroke="#a3928c" stroke-width="1.4" stroke-linecap="round" fill="none"/>
<path d="M406.2 381.5h0M409.6 407.6h0M395.5 383.8h0M409.2 401.6h0M409.1 387.1h0M411.8 400.6h0M411.8 385.6h0M391.0 384.6h0M389.1 390.5h0M401.2 380.5h0M410.0 400.9h0M396.0 383.1h0M409.5 395.5h0M406.3 380.8h0M400.6 381.5h0M406.0 408.5h0M410.1 394.4h0M404.0 379.5h0M409.4 399.9h0M411.3 387.1h0M412.6 391.2h0M398.7 410.3h0M400.6 410.3h0M396.1 383.7h0M409.7 389.7h0M412.4 391.2h0M390.8 384.1h0M400.1 382.1h0M411.0 389.6h0M409.4 385.7h0M410.9 394.3h0M390.3 383.7h0M402.2 381.2h0M409.0 395.3h0M409.9 404.5h0M399.1 380.6h0M407.7 382.0h0M410.6 408.1h0M409.9 403.6h0M391.1 384.6h0M397.9 383.0h0M408.3 407.4h0M409.1 409.1h0M411.3 392.6h0M410.4 406.2h0M401.9 380.7h0M411.5 389.6h0M410.0 390.9h0M408.3 382.7h0M399.0 382.0h0M404.5 381.3h0M402.2 379.9h0M407.1 406.7h0M410.3 406.2h0" stroke="#7a6e76" stroke-width="1.2" stroke-linecap="round" fill="none"/>
<path d="M415.6 368.7h0M421.2 376.5h0M420.7 370.7h0M399.5 379.8h0M414.8 379.0h0M409.1 378.8h0M391.6 382.3h0M417.7 371.3h0M392.1 381.8h0M405.9 380.8h0M415.0 370.8h0M411.2 374.5h0M395.1 379.5h0M420.8 376.2h0M416.4 383.0h0M395.9 383.1h0M407.7 377.6h0M412.8 379.4h0M405.3 382.0h0M417.9 381.3h0M412.2 372.1h0M408.2 380.5h0M420.8 378.8h0M408.8 378.1h0M403.0 384.9h0M417.4 375.4h0M397.4 380.2h0M400.9 384.2h0M421.2 371.4h0M414.9 376.0h0M411.5 380.8h0M415.3 387.8h0M415.6 377.7h0M415.1 369.4h0M409.9 374.0h0M405.4 380.0h0M420.9 376.2h0M405.9 383.6h0M416.8 374.5h0M406.4 379.6h0M412.8 371.4h0M415.5 385.0h0M406.7 376.2h0M393.9 381.4h0M399.6 383.2h0M409.5 381.4h0M406.6 383.7h0M413.5 375.5h0M418.3 375.2h0M419.2 368.4h0M404.1 385.2h0M417.9 382.6h0M416.9 382.6h0M401.9 382.2h0M404.7 385.6h0M411.2 380.5h0M410.4 387.4h0M412.8 373.5h0M398.4 383.3h0M406.6 385.5h0M396.5 378.3h0M418.4 374.9h0M396.3 378.4h0M410.6 384.0h0M419.3 377.3h0M423.3 373.9h0" stroke="#7d7078" stroke-width="1.2" stroke-linecap="round" fill="none"/>
<path d="M428.9 355.0h0M449.4 325.0h0M456.0 372.8h0M421.6 333.3h0M424.0 368.6h0M455.4 368.5h0M405.5 327.0h0M469.4 336.8h0" stroke="#c4bcc4" stroke-width="1.2" stroke-linecap="round" fill="none"/>
<path d="M410.0,408.9 410.0,410.6 439.8,410.6 439.5,408.9 438.2,408.9 436.9,401.8 411.3,402.3 411.3,408.9Z" fill="#f03c30" fill-rule="evenodd" fill-opacity="0.35"/>
<path d="M435.4 400.2h0M414.8 405.1h0M436.8 402.8h0M436.7 399.2h0M410.1 402.9h0M416.3 407.5h0M430.5 403.1h0M436.9 400.6h0M415.2 404.1h0M410.9 407.7h0M422.4 401.5h0M419.0 406.3h0M410.0 403.6h0M413.2 408.5h0M432.5 407.0h0M437.1 407.9h0M411.5 401.1h0M420.2 406.9h0M441.5 410.5h0M439.6 410.3h0M414.1 402.3h0M412.4 410.0h0M413.4 406.2h0M420.1 398.9h0M429.1 401.4h0M433.7 409.0h0M419.1 401.1h0M418.6 406.3h0M424.7 402.9h0M436.3 408.3h0M413.8 408.1h0M439.0 408.1h0M420.6 406.0h0M424.2 402.9h0M425.8 409.0h0M421.6 401.9h0M434.2 409.1h0M427.0 405.9h0M422.9 409.8h0M435.8 405.8h0M439.5 409.8h0M427.3 407.1h0M430.6 406.1h0M423.3 410.6h0M413.4 405.2h0M420.4 406.9h0M434.0 406.5h0M433.7 400.1h0M436.5 406.4h0M425.8 407.5h0M434.1 401.3h0M427.1 402.9h0M422.5 404.7h0M435.2 405.1h0M428.7 402.2h0" stroke="#f03c30" stroke-width="1.5" stroke-linecap="round" fill="none"/>
<path d="M433.7 403.3h0M433.8 405.3h0M413.8 404.2h0M409.3 404.7h0M413.9 399.6h0M438.8 400.1h0M430.1 405.9h0M416.5 405.2h0M416.9 404.4h0M435.9 406.0h0M430.5 403.8h0M436.4 402.1h0M410.4 410.6h0M432.6 405.1h0M425.4 401.2h0M432.1 403.6h0M427.0 407.6h0M425.8 410.3h0M423.0 404.1h0M432.8 408.1h0M416.4 401.4h0M429.3 399.4h0M412.6 404.2h0M428.9 404.7h0M426.6 409.5h0M433.8 410.4h0M417.5 408.9h0M409.7 407.3h0M409.8 405.7h0M426.7 407.2h0M435.0 409.1h0M433.5 405.2h0M436.3 407.9h0" stroke="#dc3a30" stroke-width="1.4" stroke-linecap="round" fill="none"/>
<path d="M415.9 402.6h0M427.5 401.7h0M435.7 406.2h0M421.5 402.8h0M414.0 408.4h0M433.7 401.7h0M427.2 406.6h0M413.4 401.5h0" stroke="#f2897f" stroke-width="1.4" stroke-linecap="round" fill="none"/>
<path d="M412.8 405.5h0M414.8 404.4h0" stroke="#fff" stroke-opacity="0.7" stroke-width="1.2" stroke-linecap="round" fill="none"/>
<path d="M413.2 399.6h0M426.8 405.5h0M418.2 407.3h0M436.4 408.5h0M412.9 409.6h0M428.1 400.5h0M426.3 404.8h0M427.4 408.8h0M410.3 409.1h0M423.3 403.7h0M416.6 403.0h0M433.3 401.9h0M436.6 400.8h0M436.1 402.7h0M420.8 403.1h0M431.9 406.7h0M414.5 408.3h0M425.4 402.5h0M416.0 409.8h0M439.7 406.4h0M414.4 405.5h0M411.5 410.5h0M426.4 402.2h0M418.8 408.9h0M433.6 407.7h0M409.5 400.5h0M439.4 406.8h0M421.9 398.5h0M410.3 404.0h0M423.6 408.7h0M417.9 409.3h0M432.2 409.8h0M417.6 405.6h0M429.3 399.2h0M435.0 406.5h0M421.4 399.7h0M425.4 400.6h0M425.0 404.6h0M419.1 399.2h0M417.5 406.9h0" stroke="#dc3a30" stroke-width="1.4" stroke-linecap="round" fill="none"/>
<path d="M428.6 410.2h0M444.0 393.8h0M456.1 400.6h0M426.2 394.3h0M435.1 401.6h0M426.4 402.9h0M452.8 394.6h0M429.0 395.3h0M453.0 399.4h0M417.7 402.4h0M421.7 409.5h0M436.6 403.9h0M441.9 410.5h0M452.8 407.2h0M434.1 397.7h0M444.3 407.1h0M454.0 399.1h0M417.9 407.0h0M430.8 401.5h0M450.6 403.6h0M452.4 394.0h0M448.3 406.6h0M456.0 401.9h0M422.5 404.1h0M432.1 401.9h0M435.2 410.3h0M421.7 404.8h0M437.9 404.5h0M444.5 398.4h0M431.2 404.9h0M449.2 407.3h0M422.1 397.1h0M425.6 404.8h0M427.1 394.5h0M431.7 407.7h0M433.5 400.9h0M420.4 406.8h0M444.1 393.9h0M453.4 395.5h0M424.9 408.0h0M421.9 402.4h0M422.2 396.5h0M448.3 401.5h0M444.3 401.3h0M437.6 407.8h0M431.0 409.6h0M439.3 403.1h0M448.5 408.5h0M425.2 407.5h0M438.5 409.9h0M438.6 405.7h0M419.9 395.5h0M454.1 397.7h0M448.1 403.8h0M426.9 404.4h0M417.7 405.5h0M431.2 409.9h0M436.4 398.0h0M449.8 397.3h0M432.7 397.7h0M423.1 403.3h0M434.2 395.3h0M434.7 408.5h0M450.6 393.9h0M436.2 393.7h0M437.0 409.7h0M448.1 394.1h0M430.2 394.2h0M443.9 400.4h0M426.6 398.3h0" stroke="#e2433a" stroke-width="1.3" stroke-linecap="round" fill="none"/>
<path d="M448.1 398.3h0M431.2 404.0h0M448.8 396.4h0M419.3 398.5h0M454.4 410.4h0M429.4 409.9h0M451.9 401.3h0M422.7 405.5h0M450.5 395.3h0M418.0 406.5h0M430.4 404.5h0M457.4 402.9h0M441.4 404.9h0M453.8 408.9h0M439.0 396.3h0M418.5 405.4h0M454.6 403.6h0M437.3 398.1h0M434.0 401.5h0M443.5 394.2h0M438.7 406.0h0M424.8 406.7h0M447.1 406.1h0M445.9 397.8h0M443.1 397.3h0M421.1 406.6h0M421.3 395.1h0M435.3 397.4h0M426.0 398.6h0M445.9 409.2h0M455.7 404.8h0M457.4 397.6h0M433.3 406.9h0M420.0 395.2h0M453.3 403.4h0M421.2 409.6h0M421.0 409.4h0M417.7 400.5h0M430.4 395.1h0M422.7 405.9h0M442.0 406.5h0M450.1 398.9h0M433.8 398.9h0M426.9 396.1h0M456.9 396.5h0M448.5 404.1h0M451.3 395.7h0M447.1 402.6h0" stroke="#ef8c84" stroke-width="1.3" stroke-linecap="round" fill="none"/>
<path d="M455.5 408.0h0M470.2 405.6h0M456.6 390.8h0M461.5 389.3h0M453.6 399.3h0M443.2 408.9h0M446.3 393.0h0M460.5 388.3h0M472.7 404.0h0M447.4 403.8h0M464.5 408.8h0M471.8 394.6h0M462.0 398.6h0M467.4 394.4h0M446.4 407.6h0M463.7 404.5h0M460.0 405.4h0M467.8 400.9h0M464.9 396.5h0M445.0 398.6h0M448.9 409.5h0M452.5 406.7h0M447.9 388.6h0M472.2 390.2h0M452.1 405.8h0" stroke="#e2433a" stroke-width="1.3" stroke-linecap="round" fill="none"/>
<path d="M462.8 389.0h0M469.9 399.0h0M456.4 398.9h0M460.8 391.8h0M457.4 404.0h0M454.4 402.1h0M443.3 407.2h0M449.9 391.3h0M455.0 402.9h0M468.4 404.4h0M463.2 397.6h0M461.4 397.5h0M460.4 404.6h0M447.2 393.9h0M456.4 390.1h0M455.7 408.1h0M460.1 395.4h0" stroke="#ef8c84" stroke-width="1.3" stroke-linecap="round" fill="none"/>
</g>
<g fill="none" stroke="#a39e9e" stroke-width="1.25"><rect x="22.4" y="2.7" width="85.9" height="93.9"/><rect x="22.6" y="107.5" width="86.0" height="93.6"/><rect x="22.9" y="214.4" width="86.1" height="91.4"/><rect x="23.1" y="319.0" width="86.4" height="93.4"/><rect x="145.7" y="2.6" width="84.6" height="93.7"/><rect x="145.5" y="107.3" width="84.8" height="93.7"/><rect x="145.6" y="213.6" width="85.2" height="92.7"/><rect x="146.0" y="318.9" width="86.6" height="92.7"/><rect x="268.9" y="2.8" width="85.5" height="93.3"/><rect x="268.9" y="107.3" width="86.1" height="93.7"/><rect x="269.4" y="213.5" width="85.6" height="91.8"/><rect x="269.5" y="319.3" width="85.9" height="91.9"/><rect x="387.9" y="3.2" width="83.8" height="93.8"/><rect x="387.9" y="106.0" width="85.1" height="94.2"/><rect x="388.4" y="213.8" width="84.6" height="92.2"/><rect x="388.3" y="318.8" width="85.2" height="92.5"/></g>
<g stroke="#111" stroke-width="2"><line x1="7.20" y1="20" x2="7.90" y2="326.8"/><polygon points="7.40,9.50 1.50,21.2 13.30,21.2" fill="#2e2e2e" stroke="#111" stroke-width="0.9" stroke-linejoin="miter"/><line x1="129.20" y1="20" x2="130.00" y2="326.6"/><polygon points="129.45,9.35 123.55,21.2 135.35,21.2" fill="#2e2e2e" stroke="#111" stroke-width="0.9" stroke-linejoin="miter"/><line x1="250.05" y1="20" x2="251.00" y2="327.7"/><polygon points="250.40,9.10 244.50,21.2 256.30,21.2" fill="#2e2e2e" stroke="#111" stroke-width="0.9" stroke-linejoin="miter"/><line x1="370.05" y1="20" x2="370.60" y2="327.7"/><polygon points="370.40,9.10 364.50,21.2 376.30,21.2" fill="#2e2e2e" stroke="#111" stroke-width="0.9" stroke-linejoin="miter"/></g>
<g fill="none" stroke="#111" stroke-width="1.85"><path d="M481.7 2.1Q490.4 2.1 490.4 10.1L490.6 88.1Q490.6 96.1 481.7 96.1"/><path d="M481.7 106.7Q490.3 106.7 490.3 114.7L490.2 193.1Q490.2 201.1 481.7 201.1"/><path d="M481.7 214.3Q490.1 214.3 490.1 222.3L490.0 300.3Q490.0 308.3 481.7 308.3"/><path d="M481.7 317.5Q489.9 317.5 489.9 325.5L489.7 404.1Q489.7 412.1 481.7 412.1"/></g>
<g font-size="21.4" filter="url(#tb)" stroke="#111" stroke-width="0.35">
<text transform="translate(20.6,400.2) rotate(-90)">CD 45</text>
<text transform="translate(143.2,400.1) rotate(-90)">CD 19</text>
<text transform="translate(265.1,398.3) rotate(-90)">FL2-H</text>
<text transform="translate(384.3,398.8) rotate(-90)">FL2-H</text>
<text x="46.6" y="448.6">FL1-H</text>
<text x="170" y="448.6">CD33</text>
<text x="295.3" y="448.2">Gly A</text>
<text x="414.2" y="448.4">HbA</text>
</g>
<g stroke="#111" stroke-width="1.9" stroke-linecap="round">
<line x1="11.6" y1="437.3" x2="35" y2="437.3"/>
<line x1="118.8" y1="437.1" x2="157.9" y2="437.1"/>
<line x1="236.6" y1="436.9" x2="283.2" y2="436.9"/>
<line x1="359.5" y1="436.9" x2="402.2" y2="436.9"/>
<line x1="466.8" y1="436.9" x2="481" y2="436.9"/>
</g>
<polygon points="491.6,436.9 480.3,431.7 480.3,442.1" fill="#2e2e2e" stroke="#111" stroke-width="0.9"/>
<g font-weight="bold" filter="url(#tb)">
<text font-size="22" transform="translate(514,73.6) rotate(-90)">β2m</text>
<text font-size="22.9" transform="translate(513.7,171.5) rotate(-90)">NBM</text>
<text font-size="21.9" transform="translate(513.5,274.8) rotate(-90)">TBM</text>
<text font-size="21.5" transform="translate(513.4,395) rotate(-90)">TBM-BGI</text>
</g>
<g fill="none" stroke="#111" stroke-width="2.6" filter="url(#tb)"><ellipse cx="505.2" cy="13.5" rx="5.6" ry="6.9"/><line x1="497.2" y1="13.7" x2="514" y2="13.7" stroke-width="2.8"/></g>

</svg>
</body></html>
